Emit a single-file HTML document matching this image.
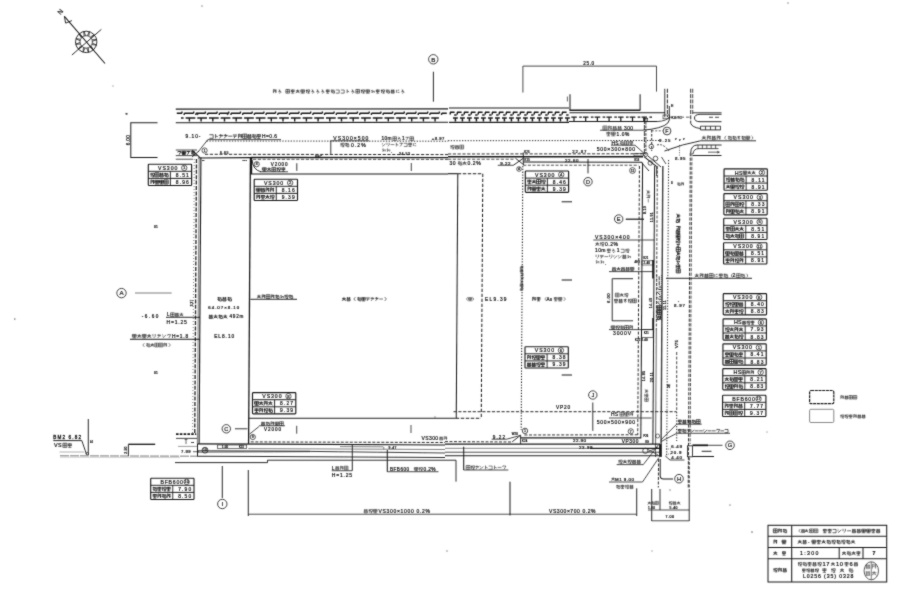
<!DOCTYPE html>
<html><head><meta charset="utf-8"><title>plan</title>
<style>
html,body{margin:0;padding:0;background:#fff;}
body{width:900px;height:600px;overflow:hidden;}
svg{display:block;will-change:transform;}
text{font-family:"Liberation Sans",sans-serif;fill:#1a1a1a;}
text.m{font-family:"Liberation Mono",monospace;}
</style></head><body>
<svg width="900" height="600" viewBox="0 0 900 600">
<defs><filter id="scan" x="0" y="0" width="900" height="600" filterUnits="userSpaceOnUse"><feConvolveMatrix order="3" kernelMatrix="1 3 1 3 22 3 1 3 1" divisor="38" edgeMode="none" preserveAlpha="false"/></filter></defs>
<rect width="900" height="600" fill="#fff"/>
<g filter="url(#scan)">
<circle cx="86.2" cy="41.9" r="10.7" fill="none" stroke="#1a1a1a" stroke-width="0.9"/>
<circle cx="86.2" cy="41.9" r="6.2" fill="none" stroke="#1a1a1a" stroke-width="0.7"/>
<line x1="64.4" y1="16.3" x2="105" y2="63.5" stroke="#1a1a1a" stroke-width="1.01"/>
<line x1="71.9" y1="55" x2="101.3" y2="29.4" stroke="#1a1a1a" stroke-width="0.9"/>
<path d="M92.31 42.98 L96.4 45.12 L91.82 44.52" fill="none" stroke="#1a1a1a" stroke-width="0.78"/>
<path d="M90.95 45.89 L93.43 49.79 L89.76 46.98" fill="none" stroke="#1a1a1a" stroke-width="0.78"/>
<path d="M88.32 47.73 L88.52 52.35 L86.74 48.08" fill="none" stroke="#1a1a1a" stroke-width="0.78"/>
<path d="M85.12 48.01 L82.98 52.1 L83.58 47.52" fill="none" stroke="#1a1a1a" stroke-width="0.78"/>
<path d="M82.21 46.65 L78.31 49.13 L81.12 45.46" fill="none" stroke="#1a1a1a" stroke-width="0.78"/>
<path d="M80.37 44.02 L75.75 44.22 L80.02 42.44" fill="none" stroke="#1a1a1a" stroke-width="0.78"/>
<path d="M80.09 40.82 L76 38.68 L80.58 39.28" fill="none" stroke="#1a1a1a" stroke-width="0.78"/>
<path d="M81.45 37.91 L78.97 34.01 L82.64 36.82" fill="none" stroke="#1a1a1a" stroke-width="0.78"/>
<path d="M84.08 36.07 L83.88 31.45 L85.66 35.72" fill="none" stroke="#1a1a1a" stroke-width="0.78"/>
<path d="M87.28 35.79 L89.42 31.7 L88.82 36.28" fill="none" stroke="#1a1a1a" stroke-width="0.78"/>
<path d="M90.19 37.15 L94.09 34.67 L91.28 38.34" fill="none" stroke="#1a1a1a" stroke-width="0.78"/>
<path d="M92.03 39.78 L96.65 39.58 L92.38 41.36" fill="none" stroke="#1a1a1a" stroke-width="0.78"/>
<path d="M64.4 16.3 L65.6 23.1 L71.9 20.6" fill="none" stroke="#1a1a1a" stroke-width="0.9"/>
<text x="60.2" y="13.94" font-size="6.5" text-anchor="middle" transform="rotate(-50 60.2 11.6)" stroke="#1a1a1a" stroke-width="0.22">N</text>
<line x1="175.8" y1="109.1" x2="448" y2="108.9" stroke="#1a1a1a" stroke-width="1.12"/>
<line x1="175.8" y1="122.8" x2="448" y2="122.3" stroke="#1a1a1a" stroke-width="1.12"/>
<path d="M176.8 113.3 h5.2M182 113.3 v-1.8M184.2 113.3 h5.2M184.2 113.3 v1.8M188.5 113.3 h5.2M193.7 113.3 v-1.8M195.9 113.3 h5.2M195.9 113.3 v1.8M200.2 113.3 h5.2M205.4 113.3 v-1.8M207.6 113.3 h5.2M207.6 113.3 v1.8M211.9 113.3 h5.2M217.1 113.3 v-1.8M219.3 113.3 h5.2M219.3 113.3 v1.8M223.6 113.3 h5.2M228.8 113.3 v-1.8M231 113.3 h5.2M231 113.3 v1.8M235.3 113.3 h5.2M240.5 113.3 v-1.8M242.7 113.3 h5.2M242.7 113.3 v1.8M247 113.3 h5.2M252.2 113.3 v-1.8M254.4 113.3 h5.2M254.4 113.3 v1.8M258.7 113.3 h5.2M263.9 113.3 v-1.8M266.1 113.3 h5.2M266.1 113.3 v1.8M270.4 113.3 h5.2M275.6 113.3 v-1.8M277.8 113.3 h5.2M277.8 113.3 v1.8M282.1 113.3 h5.2M287.3 113.3 v-1.8M289.5 113.3 h5.2M289.5 113.3 v1.8M293.8 113.3 h5.2M299 113.3 v-1.8M301.2 113.3 h5.2M301.2 113.3 v1.8M305.5 113.3 h5.2M310.7 113.3 v-1.8M312.9 113.3 h5.2M312.9 113.3 v1.8M317.2 113.3 h5.2M322.4 113.3 v-1.8M324.6 113.3 h5.2M324.6 113.3 v1.8M328.9 113.3 h5.2M334.1 113.3 v-1.8M336.3 113.3 h5.2M336.3 113.3 v1.8M340.6 113.3 h5.2M345.8 113.3 v-1.8M348 113.3 h5.2M348 113.3 v1.8M352.3 113.3 h5.2M357.5 113.3 v-1.8M359.7 113.3 h5.2M359.7 113.3 v1.8M364 113.3 h5.2M369.2 113.3 v-1.8M371.4 113.3 h5.2M371.4 113.3 v1.8M375.7 113.3 h5.2M380.9 113.3 v-1.8M383.1 113.3 h5.2M383.1 113.3 v1.8M387.4 113.3 h5.2M392.6 113.3 v-1.8M394.8 113.3 h5.2M394.8 113.3 v1.8M399.1 113.3 h5.2M404.3 113.3 v-1.8M406.5 113.3 h5.2M406.5 113.3 v1.8M410.8 113.3 h5.2M416 113.3 v-1.8M418.2 113.3 h5.2M418.2 113.3 v1.8M422.5 113.3 h5.2M427.7 113.3 v-1.8M429.9 113.3 h5.2M429.9 113.3 v1.8M434.2 113.3 h5.2M439.4 113.3 v-1.8M441.6 113.3 h5.2M441.6 113.3 v1.8" fill="none" stroke="#1a1a1a" stroke-width="1.4"/>
<path d="M185.6 118.0 h7.6 M189.4 118.0 v3.6M181 118.0 h2.6M197.3 118.0 h7.6 M201.1 118.0 v3.6M192.7 118.0 h2.6M209 118.0 h7.6 M212.8 118.0 v3.6M204.4 118.0 h2.6M220.7 118.0 h7.6 M224.5 118.0 v3.6M216.1 118.0 h2.6M232.4 118.0 h7.6 M236.2 118.0 v3.6M227.8 118.0 h2.6M244.1 118.0 h7.6 M247.9 118.0 v3.6M239.5 118.0 h2.6M255.8 118.0 h7.6 M259.6 118.0 v3.6M251.2 118.0 h2.6M267.5 118.0 h7.6 M271.3 118.0 v3.6M262.9 118.0 h2.6M279.2 118.0 h7.6 M283 118.0 v3.6M274.6 118.0 h2.6M290.9 118.0 h7.6 M294.7 118.0 v3.6M286.3 118.0 h2.6M302.6 118.0 h7.6 M306.4 118.0 v3.6M298 118.0 h2.6M314.3 118.0 h7.6 M318.1 118.0 v3.6M309.7 118.0 h2.6M326 118.0 h7.6 M329.8 118.0 v3.6M321.4 118.0 h2.6M337.7 118.0 h7.6 M341.5 118.0 v3.6M333.1 118.0 h2.6M349.4 118.0 h7.6 M353.2 118.0 v3.6M344.8 118.0 h2.6M361.1 118.0 h7.6 M364.9 118.0 v3.6M356.5 118.0 h2.6M372.8 118.0 h7.6 M376.6 118.0 v3.6M368.2 118.0 h2.6M384.5 118.0 h7.6 M388.3 118.0 v3.6M379.9 118.0 h2.6M396.2 118.0 h7.6 M400 118.0 v3.6M391.6 118.0 h2.6M407.9 118.0 h7.6 M411.7 118.0 v3.6M403.3 118.0 h2.6M419.6 118.0 h7.6 M423.4 118.0 v3.6M415 118.0 h2.6M431.3 118.0 h7.6 M435.1 118.0 v3.6M426.7 118.0 h2.6" fill="none" stroke="#1a1a1a" stroke-width="1.4"/>
<line x1="449" y1="108" x2="569" y2="108" stroke="#1a1a1a" stroke-width="1.12"/>
<line x1="449" y1="122.4" x2="569" y2="122.4" stroke="#1a1a1a" stroke-width="1.12"/>
<path d="M450 112.2 h4.6 M450.3 112.2 v2.4M453 118.0 h4.8 M455.4 118.0 v3.4M454.2 115.0 h2.4M457 112.2 h4.6 M457.3 112.2 v2.4M460 118.0 h4.8 M462.4 118.0 v3.4M461.2 115.0 h2.4M464 112.2 h4.6 M464.3 112.2 v2.4M467 118.0 h4.8 M469.4 118.0 v3.4M468.2 115.0 h2.4M471 112.2 h4.6 M471.3 112.2 v2.4M474 118.0 h4.8 M476.4 118.0 v3.4M475.2 115.0 h2.4M478 112.2 h4.6 M478.3 112.2 v2.4M481 118.0 h4.8 M483.4 118.0 v3.4M482.2 115.0 h2.4M485 112.2 h4.6 M485.3 112.2 v2.4M488 118.0 h4.8 M490.4 118.0 v3.4M489.2 115.0 h2.4M492 112.2 h4.6 M492.3 112.2 v2.4M495 118.0 h4.8 M497.4 118.0 v3.4M496.2 115.0 h2.4M499 112.2 h4.6 M499.3 112.2 v2.4M502 118.0 h4.8 M504.4 118.0 v3.4M503.2 115.0 h2.4M506 112.2 h4.6 M506.3 112.2 v2.4M509 118.0 h4.8 M511.4 118.0 v3.4M510.2 115.0 h2.4M513 112.2 h4.6 M513.3 112.2 v2.4M516 118.0 h4.8 M518.4 118.0 v3.4M517.2 115.0 h2.4M520 112.2 h4.6 M520.3 112.2 v2.4M523 118.0 h4.8 M525.4 118.0 v3.4M524.2 115.0 h2.4M527 112.2 h4.6 M527.3 112.2 v2.4M530 118.0 h4.8 M532.4 118.0 v3.4M531.2 115.0 h2.4M534 112.2 h4.6 M534.3 112.2 v2.4M537 118.0 h4.8 M539.4 118.0 v3.4M538.2 115.0 h2.4M541 112.2 h4.6 M541.3 112.2 v2.4M544 118.0 h4.8 M546.4 118.0 v3.4M545.2 115.0 h2.4M548 112.2 h4.6 M548.3 112.2 v2.4M551 118.0 h4.8 M553.4 118.0 v3.4M552.2 115.0 h2.4M555 112.2 h4.6 M555.3 112.2 v2.4M558 118.0 h4.8 M560.4 118.0 v3.4M559.2 115.0 h2.4M562 112.2 h4.6 M562.3 112.2 v2.4M565 118.0 h4.8 M567.4 118.0 v3.4M566.2 115.0 h2.4" fill="none" stroke="#1a1a1a" stroke-width="1.51"/>
<line x1="569.5" y1="110.2" x2="640.3" y2="110.2" stroke="#1a1a1a" stroke-width="1.46"/>
<line x1="569.5" y1="112.8" x2="665" y2="112.8" stroke="#1a1a1a" stroke-width="1.01"/>
<path d="M571.3 117.2 h5.5 M574 117.2 v3.8M579.2 117.2 h2.6M583 117.2 h5.5 M585.7 117.2 v3.8M590.9 117.2 h2.6M594.7 117.2 h5.5 M597.4 117.2 v3.8M602.6 117.2 h2.6M606.4 117.2 h5.5 M609.1 117.2 v3.8M614.3 117.2 h2.6M618.1 117.2 h5.5 M620.8 117.2 v3.8M626 117.2 h2.6M629.8 117.2 h5.5 M632.5 117.2 v3.8M637.7 117.2 h2.6M641.5 117.2 h5.5 M644.2 117.2 v3.8M649.4 117.2 h2.6" fill="none" stroke="#1a1a1a" stroke-width="1.23"/>
<line x1="569" y1="121.6" x2="657" y2="121.6" stroke="#1a1a1a" stroke-width="1.01"/>
<circle cx="197.6" cy="114" r="0.7" fill="#1a1a1a" stroke="#1a1a1a" stroke-width="0.5"/>
<circle cx="227.6" cy="114" r="0.7" fill="#1a1a1a" stroke="#1a1a1a" stroke-width="0.5"/>
<circle cx="126.2" cy="113.8" r="0.6" fill="#1a1a1a" stroke="#1a1a1a" stroke-width="0.4"/>
<path d="M157.5 122.8 L130.8 122.8 L130.8 157.5 L157.5 157.5" fill="none" stroke="#1a1a1a" stroke-width="1.01"/>
<text x="128" y="141.66" font-size="4.6" text-anchor="middle" letter-spacing="0.4" transform="rotate(-90 128 140)" stroke="#1a1a1a" stroke-width="0.22">6.00</text>
<path d="M522.9 92.5 L522.9 66.1 L656.5 66.1 L656.5 91.6" fill="none" stroke="#333" stroke-width="0.9"/>
<text x="583.3" y="65.06" font-size="4.6" stroke="#1a1a1a" stroke-width="0.22" textLength="10.8" lengthAdjust="spacing">25.0</text>
<path d="M570 94.3 L570 110.2" fill="none" stroke="#1a1a1a" stroke-width="1.01"/>
<path d="M640.1 94.3 L640.1 110.2" fill="none" stroke="#1a1a1a" stroke-width="1.01"/>
<line x1="567.4" y1="96.5" x2="567.4" y2="101.5" stroke="#1a1a1a" stroke-width="0.67"/>
<circle cx="433.3" cy="59.3" r="4.7" fill="none" stroke="#1a1a1a" stroke-width="0.8"/>
<text x="433.3" y="61.53" font-size="6.2" text-anchor="middle" stroke="#1a1a1a" stroke-width="0.22">B</text>
<line x1="433.4" y1="71.7" x2="433.4" y2="101.7" stroke="#1a1a1a" stroke-width="0.9"/>
<path d="M273.41 89.45 L273.41 93.15M273.41 89.64 L274.7 89.64M274.7 89.64 L274.7 91.3M273.41 91.3 L274.7 91.3M275.07 90.19 L276.55 90.19M275.81 89.45 L275.81 93.15M275.07 91.67 L276.55 91.67M278.78 89.82 L280.07 90.19 L278.59 91.67 L280.44 91.12 L280.99 92.22 L280.07 93.15 L279.15 92.96M285.85 89.45 L289.55 89.45 L289.55 93.15 L285.85 93.15 L285.85 89.45M285.85 91.3 L289.55 91.3M287.7 89.45 L287.7 93.15M290.85 90.01 L294.55 90.01M292.7 89.45 L292.7 93.15M290.85 91.48 L294.55 91.48M291.22 93.15 L294.18 93.15M291.41 90.01 L291.41 91.48M293.99 90.01 L293.99 91.48M297.7 89.45 L297.7 90.75M295.85 90.75 L299.55 90.75M297.7 90.75 L295.85 93.15M297.7 90.75 L299.55 93.15M296.59 92.04 L298.81 92.04M300.85 89.82 L304.55 89.82M300.85 90.93 L304.55 90.93M300.85 92.04 L304.55 92.04M300.85 93.15 L304.55 93.15M302.7 89.82 L302.7 93.15M300.85 89.82 L300.85 92.04M304.55 89.82 L304.55 92.04M306.59 89.45 L306.59 93.15M305.85 90.56 L307.33 90.56M307.7 89.82 L309.55 89.82M307.7 89.82 L307.7 91.67M309.55 89.82 L309.55 91.67M307.7 91.67 L309.55 91.67M307.52 93.15 L309.55 93.15M308.62 91.67 L308.62 93.15M311.78 89.82 L313.07 90.19 L311.59 91.67 L313.44 91.12 L313.99 92.22 L313.07 93.15 L312.15 92.96M316.78 89.82 L318.07 90.19 L316.59 91.67 L318.44 91.12 L318.99 92.22 L318.07 93.15 L317.15 92.96M321.78 89.82 L323.07 90.19 L321.59 91.67 L323.44 91.12 L323.99 92.22 L323.07 93.15 L322.15 92.96M325.85 90.01 L329.55 90.01M327.7 89.45 L327.7 93.15M325.85 91.48 L329.55 91.48M326.22 93.15 L329.18 93.15M326.41 90.01 L326.41 91.48M328.99 90.01 L328.99 91.48M330.85 90.19 L334.55 90.19M331.96 89.45 L331.96 93.15M332.88 91.12 L334.55 91.12M332.88 91.12 L332.88 93.15M332.88 93.15 L334.55 93.15M334.55 91.12 L334.55 93.15M330.85 91.67 L331.96 91.67M335.85 90.01 L339.18 90.01 L339.18 93.15M335.85 93.15 L339.18 93.15M340.85 90.01 L344.18 90.01 L344.18 93.15M340.85 93.15 L344.18 93.15M347.15 89.45 L347.15 93.15M347.15 90.93 L349.18 91.85M351.78 89.82 L353.07 90.19 L351.59 91.67 L353.44 91.12 L353.99 92.22 L353.07 93.15 L352.15 92.96M355.85 89.45 L359.55 89.45 L359.55 93.15 L355.85 93.15 L355.85 89.45M355.85 91.3 L359.55 91.3M357.7 89.45 L357.7 93.15M361.59 89.45 L361.59 93.15M360.85 90.56 L362.33 90.56M362.7 89.82 L364.55 89.82M362.7 89.82 L362.7 91.67M364.55 89.82 L364.55 91.67M362.7 91.67 L364.55 91.67M362.52 93.15 L364.55 93.15M363.62 91.67 L363.62 93.15M365.85 89.82 L369.55 89.82M365.85 90.93 L369.55 90.93M365.85 92.04 L369.55 92.04M365.85 93.15 L369.55 93.15M367.7 89.82 L367.7 93.15M365.85 89.82 L365.85 92.04M369.55 89.82 L369.55 92.04M371.22 90.56 L372.33 90.19 L371.96 92.78 L373.07 91.3 L374.36 91.12 L374.18 92.78M375.85 90.01 L379.55 90.01M377.7 89.45 L377.7 93.15M375.85 91.48 L379.55 91.48M376.22 93.15 L379.18 93.15M376.41 90.01 L376.41 91.48M378.99 90.01 L378.99 91.48M381.59 89.45 L381.59 93.15M380.85 90.56 L382.33 90.56M382.7 89.82 L384.55 89.82M382.7 89.82 L382.7 91.67M384.55 89.82 L384.55 91.67M382.7 91.67 L384.55 91.67M382.52 93.15 L384.55 93.15M383.62 91.67 L383.62 93.15M385.85 90.19 L389.55 90.19M386.96 89.45 L386.96 93.15M387.88 91.12 L389.55 91.12M387.88 91.12 L387.88 93.15M387.88 93.15 L389.55 93.15M389.55 91.12 L389.55 93.15M385.85 91.67 L386.96 91.67M390.85 90.38 L394.55 90.38M391.78 89.45 L391.78 91.3M393.62 89.45 L393.62 91.3M391.22 91.3 L394.18 91.3M391.22 91.3 L391.22 93.15M394.18 91.3 L394.18 93.15M391.22 93.15 L394.18 93.15M391.22 92.22 L394.18 92.22M396.59 89.82 L396.59 92.78M397.7 90.19 L399.18 90.19M397.7 92.41 L399.36 92.41M401.78 89.82 L403.07 90.19 L401.59 91.67 L403.44 91.12 L403.99 92.22 L403.07 93.15 L402.15 92.96" fill="none" stroke="#1a1a1a" stroke-width="0.6"/>
<line x1="198" y1="158" x2="251" y2="157.6" stroke="#1a1a1a" stroke-width="1.23"/>
<line x1="251" y1="157.5" x2="448" y2="157.6" stroke="#1a1a1a" stroke-width="1.29"/>
<line x1="448" y1="156.8" x2="643" y2="156.7" stroke="#1a1a1a" stroke-width="1.4"/>
<line x1="253" y1="159.3" x2="448" y2="159.4" stroke="#1a1a1a" stroke-width="0.78" stroke-dasharray="3.2 1.6"/>
<line x1="448" y1="159.2" x2="513.5" y2="159.2" stroke="#1a1a1a" stroke-width="0.78" stroke-dasharray="3.2 1.6"/>
<line x1="205" y1="154.3" x2="448" y2="154.6" stroke="#1a1a1a" stroke-width="0.9" stroke-dasharray="3.2 1.6"/>
<line x1="448" y1="154" x2="643" y2="153.8" stroke="#1a1a1a" stroke-width="0.9" stroke-dasharray="3.2 1.6"/>
<line x1="206.7" y1="141" x2="448" y2="141.2" stroke="#1a1a1a" stroke-width="0.9" stroke-dasharray="1.3 1.5"/>
<line x1="448" y1="140.7" x2="660" y2="140.5" stroke="#1a1a1a" stroke-width="0.9" stroke-dasharray="1.3 1.5"/>
<line x1="200.9" y1="157.6" x2="199.09" y2="443.8" stroke="#1a1a1a" stroke-width="1.12"/>
<line x1="199.19" y1="159" x2="197.39" y2="443.8" stroke="#1a1a1a" stroke-width="0.56"/>
<line x1="196.49" y1="159" x2="194.76" y2="434" stroke="#2a2a2a" stroke-width="1.34" stroke-dasharray="4 1.4"/>
<line x1="194.29" y1="159" x2="192.56" y2="434" stroke="#1a1a1a" stroke-width="0.56" stroke-dasharray="1 2"/>
<line x1="197.5" y1="443.8" x2="445" y2="445" stroke="#1a1a1a" stroke-width="1.23"/>
<line x1="445" y1="444.2" x2="660" y2="444.2" stroke="#1a1a1a" stroke-width="1.23"/>
<line x1="197.5" y1="443.8" x2="197.5" y2="456" stroke="#1a1a1a" stroke-width="1.01"/>
<line x1="250.4" y1="157.6" x2="248.59" y2="443.8" stroke="#1a1a1a" stroke-width="1.29"/>
<line x1="250.3" y1="174" x2="448" y2="174" stroke="#1a1a1a" stroke-width="1.12"/>
<line x1="448" y1="173.7" x2="457.8" y2="173.7" stroke="#1a1a1a" stroke-width="1.12"/>
<line x1="457.8" y1="173.7" x2="456.25" y2="418.3" stroke="#1a1a1a" stroke-width="1.01"/>
<line x1="248.7" y1="418.3" x2="455.8" y2="418.3" stroke="#1a1a1a" stroke-width="1.01"/>
<line x1="251.3" y1="158" x2="251.2" y2="174" stroke="#1a1a1a" stroke-width="1.9"/>
<line x1="457.8" y1="173.7" x2="482.8" y2="173.7" stroke="#1a1a1a" stroke-width="1.01" stroke-dasharray="3.4 1.6"/>
<line x1="482.8" y1="173.7" x2="481.25" y2="418.3" stroke="#1a1a1a" stroke-width="1.01" stroke-dasharray="3.4 1.6"/>
<line x1="455.8" y1="418.3" x2="481" y2="418.3" stroke="#1a1a1a" stroke-width="1.01" stroke-dasharray="3.4 1.6"/>
<line x1="453.5" y1="411.7" x2="676.7" y2="411.7" stroke="#1a1a1a" stroke-width="0.9" stroke-dasharray="3.2 1.6"/>
<line x1="522.84" y1="166" x2="521.18" y2="430" stroke="#1a1a1a" stroke-width="1.01" stroke-dasharray="1.3 1.5"/>
<line x1="639.44" y1="166" x2="637.75" y2="435" stroke="#1a1a1a" stroke-width="0.9" stroke-dasharray="3 1.6"/>
<line x1="524.4" y1="435" x2="637.5" y2="434.8" stroke="#1a1a1a" stroke-width="0.9" stroke-dasharray="3 1.6"/>
<line x1="642.57" y1="162.5" x2="640.83" y2="438" stroke="#1a1a1a" stroke-width="1.01"/>
<line x1="520.6" y1="437.8" x2="641.2" y2="437.8" stroke="#1a1a1a" stroke-width="1.23"/>
<line x1="523.3" y1="162.1" x2="642" y2="162.3" stroke="#1a1a1a" stroke-width="1.01"/>
<line x1="523.3" y1="165.2" x2="638.7" y2="165.2" stroke="#1a1a1a" stroke-width="0.78" stroke-dasharray="3 1.6"/>
<line x1="523.3" y1="152.5" x2="523.3" y2="164.5" stroke="#1a1a1a" stroke-width="0.9"/>
<line x1="515.5" y1="158.3" x2="524" y2="165" stroke="#1a1a1a" stroke-width="0.9"/>
<line x1="513.3" y1="165.3" x2="523.3" y2="158.3" stroke="#1a1a1a" stroke-width="0.9"/>
<line x1="654.64" y1="166" x2="652.89" y2="444" stroke="#1a1a1a" stroke-width="1.01"/>
<line x1="657.34" y1="166" x2="656.31" y2="330" stroke="#1a1a1a" stroke-width="0.78" stroke-dasharray="3 1.5"/>
<line x1="656.31" y1="330" x2="655.51" y2="457" stroke="#1a1a1a" stroke-width="0.67"/>
<line x1="662.84" y1="166" x2="661.01" y2="457" stroke="#444" stroke-width="1.46"/>
<line x1="668.58" y1="160" x2="666.71" y2="457" stroke="#1a1a1a" stroke-width="0.9" stroke-dasharray="1.3 1.5"/>
<line x1="690.33" y1="153" x2="688.22" y2="488" stroke="#1a1a1a" stroke-width="0.9" stroke-dasharray="3.2 1.4"/>
<line x1="691.93" y1="153" x2="690.09" y2="444" stroke="#1a1a1a" stroke-width="0.78" stroke-dasharray="3.2 1.4"/>
<path d="M659.58 276 L663.62 276M664.48 276 L668.52 276M670.19 273.98 L670.19 276.4M672.61 273.98 L672.61 276.4 L671 278.02M674.69 274.39 L675.49 275.19M674.28 275.8 L675.09 276.4M675.09 278.02 L678.32 274.99M679.99 273.98 L679.99 276.4M682.41 273.98 L682.41 276.4 L680.8 278.02M684.49 274.39 L685.29 275.19M684.08 275.8 L684.89 276.4M684.89 278.02 L688.12 274.99M688.98 273.98 L693.02 273.98 L693.02 278.02 L688.98 278.02 L688.98 273.98M688.98 276 L693.02 276M691 273.98 L691 278.02M693.88 273.98 L697.92 273.98 L697.92 278.02 L693.88 278.02 L693.88 273.98M693.88 276 L697.92 276M695.9 273.98 L695.9 278.02M698.78 274.79 L702.82 274.79M699.99 273.98 L699.99 278.02M701 275.8 L702.82 275.8M701 275.8 L701 278.02M701 278.02 L702.82 278.02M702.82 275.8 L702.82 278.02M698.78 276.4 L699.99 276.4" fill="none" stroke="#1a1a1a" stroke-width="0.95" transform="rotate(90 659.2 276)"/>
<line x1="656.8" y1="275" x2="656.6" y2="321" stroke="#1a1a1a" stroke-width="0.56" stroke-dasharray="1 1"/>
<line x1="661.4" y1="275" x2="661.2" y2="321" stroke="#1a1a1a" stroke-width="0.56" stroke-dasharray="1 1"/>
<line x1="664.8" y1="88.8" x2="664.8" y2="117.2" stroke="#1a1a1a" stroke-width="0.9"/>
<line x1="667.4" y1="88.8" x2="667.4" y2="117.2" stroke="#1a1a1a" stroke-width="0.9" stroke-dasharray="4 1.3"/>
<line x1="669.3" y1="106" x2="669.3" y2="120" stroke="#1a1a1a" stroke-width="0.9"/>
<path d="M669.3 120 Q668.5 126.5 651 129.3 L643 130.1" fill="none" stroke="#1a1a1a" stroke-width="0.9"/>
<path d="M657 121.6 Q667 121 669.2 117" fill="none" stroke="#1a1a1a" stroke-width="0.78"/>
<rect x="663" y="115" width="6.3" height="3.8" fill="none" stroke="#1a1a1a" stroke-width="0.6"/>
<line x1="690.7" y1="88.8" x2="690.7" y2="123.2" stroke="#1a1a1a" stroke-width="0.9" stroke-dasharray="4 1.3"/>
<line x1="692.7" y1="88.8" x2="692.7" y2="114.2" stroke="#1a1a1a" stroke-width="0.78" stroke-dasharray="4 1.3"/>
<line x1="692.7" y1="112.8" x2="721.5" y2="112.8" stroke="#1a1a1a" stroke-width="0.9"/>
<path d="M690.7 123.2 Q692 127.5 700.5 128.5" fill="none" stroke="#1a1a1a" stroke-width="0.9"/>
<path d="M721.5 114.3 H700 Q694.5 114.5 694.5 118 Q694.5 121.7 700 121.7 H721.5" fill="none" stroke="#1a1a1a" stroke-width="0.9"/>
<line x1="709" y1="117.3" x2="720.5" y2="117.3" stroke="#1a1a1a" stroke-width="0.78" stroke-dasharray="4 2"/>
<line x1="700.5" y1="126.2" x2="720.5" y2="126.2" stroke="#1a1a1a" stroke-width="0.78"/>
<line x1="700.5" y1="129.9" x2="720.5" y2="129.9" stroke="#1a1a1a" stroke-width="0.9"/>
<line x1="700.5" y1="126.2" x2="700.5" y2="129.9" stroke="#1a1a1a" stroke-width="0.78"/>
<line x1="705.5" y1="126.2" x2="705.5" y2="129.9" stroke="#1a1a1a" stroke-width="0.78"/>
<line x1="710.5" y1="126.2" x2="710.5" y2="129.9" stroke="#1a1a1a" stroke-width="0.78"/>
<line x1="715.5" y1="126.2" x2="715.5" y2="129.9" stroke="#1a1a1a" stroke-width="0.78"/>
<line x1="720.5" y1="126.2" x2="720.5" y2="129.9" stroke="#1a1a1a" stroke-width="0.78"/>
<line x1="669.5" y1="117.2" x2="691.5" y2="117.2" stroke="#1a1a1a" stroke-width="0.67" stroke-dasharray="3.5 2"/>
<line x1="644.4" y1="119" x2="644.4" y2="155.5" stroke="#1a1a1a" stroke-width="0.84" stroke-dasharray="5 1"/>
<line x1="645.9" y1="118" x2="645.9" y2="155.5" stroke="#1a1a1a" stroke-width="0.9" stroke-dasharray="2.6 1.2"/>
<line x1="651.7" y1="130" x2="651.7" y2="151" stroke="#1a1a1a" stroke-width="0.9" stroke-dasharray="2.6 1.4"/>
<rect x="643.3" y="118.4" width="4.4" height="2.8" fill="none" stroke="#1a1a1a" stroke-width="0.6"/>
<path d="M690.7 153 Q690.9 145.3 697 145 L721.5 145" fill="none" stroke="#1a1a1a" stroke-width="0.9"/>
<path d="M693 154 Q693.5 148.8 698.5 148.6" fill="none" stroke="#1a1a1a" stroke-width="0.78"/>
<line x1="698" y1="148.6" x2="718.5" y2="148.6" stroke="#1a1a1a" stroke-width="0.78"/>
<line x1="698" y1="145" x2="698" y2="148.6" stroke="#1a1a1a" stroke-width="0.67"/>
<line x1="702.4" y1="145" x2="702.4" y2="148.6" stroke="#1a1a1a" stroke-width="0.67"/>
<line x1="706.8" y1="145" x2="706.8" y2="148.6" stroke="#1a1a1a" stroke-width="0.67"/>
<line x1="711.2" y1="145" x2="711.2" y2="148.6" stroke="#1a1a1a" stroke-width="0.67"/>
<line x1="715.6" y1="145" x2="715.6" y2="148.6" stroke="#1a1a1a" stroke-width="0.67"/>
<line x1="692.7" y1="155.5" x2="721.5" y2="155.5" stroke="#1a1a1a" stroke-width="0.9"/>
<line x1="708" y1="152.2" x2="719" y2="152.2" stroke="#1a1a1a" stroke-width="0.67"/>
<path d="M717 151.2 L719.5 152.2 L717 153.2" fill="none" stroke="#1a1a1a" stroke-width="0.56"/>
<path d="M664.5 151 Q683 144 700.5 140.8 L756 140.8" fill="none" stroke="#1a1a1a" stroke-width="0.9"/>
<path d="M657 145 Q663 143 669 151" fill="none" stroke="#1a1a1a" stroke-width="0.78" stroke-dasharray="2 1.2"/>
<line x1="679.5" y1="145" x2="679.5" y2="155.5" stroke="#1a1a1a" stroke-width="0.67" stroke-dasharray="1 1.4"/>
<circle cx="667" cy="131" r="3.9" fill="none" stroke="#1a1a1a" stroke-width="0.8"/>
<text x="667" y="132.94" font-size="5.4" text-anchor="middle" stroke="#1a1a1a" stroke-width="0.22">F</text>
<line x1="651.7" y1="130.8" x2="662.8" y2="130.8" stroke="#1a1a1a" stroke-width="0.67" stroke-dasharray="2 1.5"/>
<line x1="644" y1="156.7" x2="656.7" y2="166.7" stroke="#1a1a1a" stroke-width="1.01"/>
<line x1="648" y1="156" x2="661" y2="167" stroke="#1a1a1a" stroke-width="0.9"/>
<line x1="641.5" y1="162.5" x2="649" y2="171" stroke="#1a1a1a" stroke-width="0.9"/>
<line x1="656.7" y1="166.7" x2="656.7" y2="176" stroke="#1a1a1a" stroke-width="0.9"/>
<line x1="661.5" y1="157" x2="666" y2="164" stroke="#1a1a1a" stroke-width="0.78"/>
<circle cx="651.3" cy="146.5" r="2.3" fill="none" stroke="#1a1a1a" stroke-width="0.7"/>
<text x="651.3" y="147.78" font-size="3.56" text-anchor="middle" stroke="#1a1a1a" stroke-width="0.22"></text>
<circle cx="655.5" cy="158.5" r="2.3" fill="none" stroke="#1a1a1a" stroke-width="0.7"/>
<text x="655.5" y="159.78" font-size="3.56" text-anchor="middle" stroke="#1a1a1a" stroke-width="0.22"></text>
<circle cx="650.2" cy="163" r="2.2" fill="none" stroke="#1a1a1a" stroke-width="0.7"/>
<text x="650.2" y="164.23" font-size="3.41" text-anchor="middle" stroke="#1a1a1a" stroke-width="0.22"></text>
<circle cx="645.7" cy="154.5" r="2" fill="none" stroke="#1a1a1a" stroke-width="0.7"/>
<text x="645.7" y="155.62" font-size="3.1" text-anchor="middle" stroke="#1a1a1a" stroke-width="0.22"></text>
<circle cx="632.5" cy="170.5" r="2.9" fill="none" stroke="#1a1a1a" stroke-width="0.7"/>
<text x="632.5" y="171.8" font-size="3.6" text-anchor="middle" stroke="#1a1a1a" stroke-width="0.22">11</text>
<rect x="634" y="153.3" width="9.5" height="2.6" fill="none" stroke="#1a1a1a" stroke-width="0.6"/>
<path d="M602.88 125.98 L606.92 125.98 L606.92 130.02 L602.88 130.02 L602.88 125.98M602.88 128 L606.92 128M604.9 125.98 L604.9 130.02M608.38 125.98 L608.38 130.02M608.38 126.19 L609.8 126.19M609.8 126.19 L609.8 128M608.38 128 L609.8 128M610.2 126.79 L611.81 126.79M611.01 125.98 L611.01 130.02M610.2 128.4 L611.81 128.4M612.68 126.99 L616.71 126.99M613.68 125.98 L613.68 128M615.7 125.98 L615.7 128M613.08 128 L616.3 128M613.08 128 L613.08 130.02M616.3 128 L616.3 130.02M613.08 130.02 L616.3 130.02M613.08 129.01 L616.3 129.01M617.57 126.99 L621.6 126.99M618.58 125.98 L618.58 128M620.6 125.98 L620.6 128M617.98 128 L621.2 128M617.98 128 L617.98 130.02M621.2 128 L621.2 130.02M617.98 130.02 L621.2 130.02M617.98 129.01 L621.2 129.01" fill="none" stroke="#1a1a1a" stroke-width="0.55"/>
<text x="624" y="129.73" font-size="4.8" letter-spacing="0.5" stroke="#1a1a1a" stroke-width="0.22">300</text>
<line x1="600" y1="130.2" x2="643" y2="130.2" stroke="#1a1a1a" stroke-width="0.78"/>
<path d="M606.38 132.39 L610.42 132.39M608.4 131.78 L608.4 135.82M606.38 134 L610.42 134M606.79 135.82 L610.01 135.82M606.99 132.39 L606.99 134M609.81 132.39 L609.81 134M611.28 132.19 L615.31 132.19M611.28 133.4 L615.31 133.4M611.28 134.61 L615.31 134.61M611.28 135.82 L615.31 135.82M613.3 132.19 L613.3 135.82M611.28 132.19 L611.28 134.61M615.31 132.19 L615.31 134.61" fill="none" stroke="#1a1a1a" stroke-width="0.55"/>
<text x="616.5" y="135.53" font-size="4.8" letter-spacing="0.6" stroke="#1a1a1a" stroke-width="0.22">1.0%</text>
<text x="611.5" y="144.8" font-size="5" letter-spacing="0.2" stroke="#1a1a1a" stroke-width="0.22">HS</text>
<path d="M619.87 141.84 L623.73 141.84M621.03 141.07 L621.03 144.93M621.99 142.81 L623.73 142.81M621.99 142.81 L621.99 144.93M621.99 144.93 L623.73 144.93M623.73 142.81 L623.73 144.93M619.87 143.39 L621.03 143.39M624.56 141.07 L628.42 141.07 L628.42 144.93 L624.56 144.93 L624.56 141.07M624.56 143 L628.42 143M626.49 141.07 L626.49 144.93M629.25 141.65 L633.12 141.65M631.18 141.07 L631.18 144.93M629.25 143.19 L633.12 143.19M629.64 144.93 L632.73 144.93M629.83 141.65 L629.83 143.19M632.54 141.65 L632.54 143.19" fill="none" stroke="#1a1a1a" stroke-width="0.55"/>
<line x1="611" y1="145.2" x2="635" y2="145.2" stroke="#1a1a1a" stroke-width="0.78"/>
<line x1="635" y1="145.2" x2="644" y2="153.3" stroke="#1a1a1a" stroke-width="0.78"/>
<text x="596.7" y="151.4" font-size="5" stroke="#1a1a1a" stroke-width="0.22" textLength="38.3" lengthAdjust="spacing">500×300×800</text>
<text x="572.3" y="153.18" font-size="4.4" stroke="#1a1a1a" stroke-width="0.22" textLength="14.2" lengthAdjust="spacing">22.87</text>
<text x="565" y="161.58" font-size="4.4" stroke="#1a1a1a" stroke-width="0.22" textLength="13.4" lengthAdjust="spacing">22.60</text>
<text x="634.5" y="160.94" font-size="2.6" letter-spacing="0.1" stroke="#1a1a1a" stroke-width="0.22">K18</text>
<text x="524.3" y="153.41" font-size="2.8" letter-spacing="0.2" stroke="#1a1a1a" stroke-width="0.22">K25</text>
<text x="524.5" y="161.21" font-size="2.8" letter-spacing="0.2" stroke="#1a1a1a" stroke-width="0.22">K15</text>
<text x="659" y="142.38" font-size="4.4" stroke="#1a1a1a" stroke-width="0.22" textLength="11.5" lengthAdjust="spacing">9.25</text>
<text x="675" y="160.38" font-size="4.4" stroke="#1a1a1a" stroke-width="0.22" textLength="10.5" lengthAdjust="spacing">8.95</text>
<text x="671.5" y="118.82" font-size="3.4" letter-spacing="0.2" stroke="#1a1a1a" stroke-width="0.22">K0.7C</text>
<text x="671" y="106.6" font-size="3.6" stroke="#1a1a1a" stroke-width="0.22">E</text>
<text x="675" y="139.58" font-size="3" stroke="#1a1a1a" stroke-width="0.22">v</text>
<text x="679" y="141.08" font-size="3" stroke="#1a1a1a" stroke-width="0.22">v</text>
<text x="683" y="139.68" font-size="3" stroke="#1a1a1a" stroke-width="0.22">v</text>
<path d="M703.9 135.78 L703.9 137.2M701.88 137.2 L705.92 137.2M703.9 137.2 L701.88 139.82M703.9 137.2 L705.92 139.82M702.69 138.61 L705.11 138.61M707.39 135.78 L707.39 139.82M707.39 135.99 L708.8 135.99M708.8 135.99 L708.8 137.8M707.39 137.8 L708.8 137.8M709.2 136.59 L710.82 136.59M710.01 135.78 L710.01 139.82M709.2 138.2 L710.82 138.2M711.68 136.79 L715.72 136.79M712.69 135.78 L712.69 137.8M714.71 135.78 L714.71 137.8M712.09 137.8 L715.31 137.8M712.09 137.8 L712.09 139.82M715.31 137.8 L715.31 139.82M712.09 139.82 L715.31 139.82M712.09 138.81 L715.31 138.81M717.19 135.78 L717.19 139.82M717.19 135.99 L718.6 135.99M718.6 135.99 L718.6 137.8M717.19 137.8 L718.6 137.8M719 136.59 L720.62 136.59M719.81 135.78 L719.81 139.82M719 138.2 L720.62 138.2" fill="none" stroke="#1a1a1a" stroke-width="0.6"/>
<path d="M726.07 135.87 L724.91 137.03 L724.91 138.57 L726.07 139.73M727.87 136.64 L731.73 136.64M729.03 135.87 L729.03 139.73M729.99 137.61 L731.73 137.61M729.99 137.61 L729.99 139.73M729.99 139.73 L731.73 139.73M731.73 137.61 L731.73 139.73M727.87 138.19 L729.03 138.19M732.37 136.64 L736.23 136.64M733.53 135.87 L733.53 139.73M734.49 137.61 L736.23 137.61M734.49 137.61 L734.49 139.73M734.49 139.73 L736.23 139.73M736.23 137.61 L736.23 139.73M732.37 138.19 L733.53 138.19M737.25 136.64 L740.35 136.64M738.99 135.87 L738.99 137.99 L738.22 138.57 L737.83 137.8 L738.99 137.61 L739.57 138.57 L738.8 139.73M741.37 136.64 L745.23 136.64M742.53 135.87 L742.53 139.73M743.49 137.61 L745.23 137.61M743.49 137.61 L743.49 139.73M743.49 139.73 L745.23 139.73M745.23 137.61 L745.23 139.73M741.37 138.19 L742.53 138.19M745.87 136.25 L749.73 136.25M745.87 137.41 L749.73 137.41M745.87 138.57 L749.73 138.57M745.87 139.73 L749.73 139.73M747.8 136.25 L747.8 139.73M745.87 136.25 L745.87 138.57M749.73 136.25 L749.73 138.57M751.53 135.87 L752.69 137.03 L752.69 138.57 L751.53 139.73" fill="none" stroke="#1a1a1a" stroke-width="0.55"/>
<text x="500.3" y="164.78" font-size="4.4" stroke="#1a1a1a" stroke-width="0.22" textLength="10.2" lengthAdjust="spacing">9.22</text>
<line x1="497.8" y1="165.3" x2="513.3" y2="165.3" stroke="#1a1a1a" stroke-width="0.78"/>
<circle cx="519" cy="169" r="2.3" fill="none" stroke="#1a1a1a" stroke-width="0.7"/>
<text x="519" y="170.22" font-size="3.4" text-anchor="middle" stroke="#1a1a1a" stroke-width="0.22">4</text>
<text x="431.7" y="139.81" font-size="4.2" letter-spacing="0.5" stroke="#1a1a1a" stroke-width="0.22">+8.97</text>
<path d="M451.14 145.07 L451.14 148.93M450.37 146.23 L451.91 146.23M452.3 145.45 L454.23 145.45M452.3 145.45 L452.3 147.39M454.23 145.45 L454.23 147.39M452.3 147.39 L454.23 147.39M452.11 148.93 L454.23 148.93M453.27 147.39 L453.27 148.93M455.06 146.03 L458.92 146.03M456.03 145.07 L456.03 147M457.96 145.07 L457.96 147M455.45 147 L458.54 147M455.45 147 L455.45 148.93M458.54 147 L458.54 148.93M455.45 148.93 L458.54 148.93M455.45 147.97 L458.54 147.97M459.75 145.07 L463.62 145.07 L463.62 148.93 L459.75 148.93 L459.75 145.07M459.75 147 L463.62 147M461.68 145.07 L461.68 148.93" fill="none" stroke="#1a1a1a" stroke-width="0.55"/>
<text x="449.4" y="165" font-size="5" letter-spacing="0.5" stroke="#1a1a1a" stroke-width="0.22">30</text>
<path d="M457.87 162.04 L461.73 162.04M459.03 161.27 L459.03 165.13M459.99 163.01 L461.73 163.01M459.99 163.01 L459.99 165.13M459.99 165.13 L461.73 165.13M461.73 163.01 L461.73 165.13M457.87 163.59 L459.03 163.59M464.49 161.27 L464.49 162.62M462.56 162.62 L466.42 162.62M464.49 162.62 L462.56 165.13M464.49 162.62 L466.42 165.13M463.33 163.97 L465.65 163.97" fill="none" stroke="#1a1a1a" stroke-width="0.6"/>
<text x="467.5" y="165" font-size="5" letter-spacing="0.6" stroke="#1a1a1a" stroke-width="0.22">0.2%</text>
<circle cx="588" cy="181.7" r="4.2" fill="none" stroke="#1a1a1a" stroke-width="0.8"/>
<text x="588" y="183.72" font-size="5.6" text-anchor="middle" stroke="#1a1a1a" stroke-width="0.22">D</text>
<line x1="588" y1="159" x2="588" y2="173.3" stroke="#1a1a1a" stroke-width="0.9"/>
<circle cx="618.7" cy="219" r="4.2" fill="none" stroke="#1a1a1a" stroke-width="0.8"/>
<text x="618.7" y="221.02" font-size="5.6" text-anchor="middle" stroke="#1a1a1a" stroke-width="0.22">E</text>
<line x1="625.8" y1="219.2" x2="644" y2="219.2" stroke="#1a1a1a" stroke-width="1.23"/>
<circle cx="592.8" cy="395" r="4.2" fill="none" stroke="#1a1a1a" stroke-width="0.8"/>
<text x="592.8" y="397.02" font-size="5.6" text-anchor="middle" stroke="#1a1a1a" stroke-width="0.22">J</text>
<line x1="592.8" y1="402.5" x2="592.8" y2="430.8" stroke="#1a1a1a" stroke-width="0.9"/>
<circle cx="226.3" cy="428.8" r="4.2" fill="none" stroke="#1a1a1a" stroke-width="0.8"/>
<text x="226.3" y="430.82" font-size="5.6" text-anchor="middle" stroke="#1a1a1a" stroke-width="0.22">C</text>
<line x1="235" y1="428.8" x2="247.5" y2="428.8" stroke="#1a1a1a" stroke-width="0.9"/>
<circle cx="121.5" cy="293.1" r="4.7" fill="none" stroke="#1a1a1a" stroke-width="0.8"/>
<text x="121.5" y="295.33" font-size="6.2" text-anchor="middle" stroke="#1a1a1a" stroke-width="0.22">A</text>
<line x1="135" y1="293" x2="171.7" y2="293" stroke="#555" stroke-width="0.78"/>
<circle cx="222.3" cy="504" r="4.7" fill="none" stroke="#1a1a1a" stroke-width="0.8"/>
<text x="222.3" y="506.23" font-size="6.2" text-anchor="middle" stroke="#1a1a1a" stroke-width="0.22">I</text>
<line x1="222.3" y1="466" x2="222.3" y2="498" stroke="#1a1a1a" stroke-width="0.9"/>
<circle cx="730" cy="445.3" r="4.3" fill="none" stroke="#1a1a1a" stroke-width="0.8"/>
<text x="730" y="447.39" font-size="5.8" text-anchor="middle" stroke="#1a1a1a" stroke-width="0.22">G</text>
<line x1="692.5" y1="445.3" x2="708" y2="445.3" stroke="#1a1a1a" stroke-width="1.79"/>
<line x1="708" y1="445.3" x2="722.5" y2="445.3" stroke="#1a1a1a" stroke-width="0.78"/>
<circle cx="679" cy="478.7" r="4.3" fill="none" stroke="#1a1a1a" stroke-width="0.8"/>
<text x="679" y="480.79" font-size="5.8" text-anchor="middle" stroke="#1a1a1a" stroke-width="0.22">H</text>
<path d="M660.2 459 V476 Q660.2 478.9 663.5 478.9 H673" fill="none" stroke="#1a1a1a" stroke-width="1.01"/>
<line x1="561.7" y1="201.8" x2="572" y2="201.8" stroke="#1a1a1a" stroke-width="1.01"/>
<line x1="561.7" y1="280" x2="572" y2="280" stroke="#1a1a1a" stroke-width="1.01"/>
<line x1="561.7" y1="375" x2="572" y2="375" stroke="#1a1a1a" stroke-width="1.01"/>
<text x="595" y="239.3" font-size="5" stroke="#1a1a1a" stroke-width="0.22" textLength="34.5" lengthAdjust="spacing">VS300×400</text>
<line x1="593.3" y1="240" x2="654" y2="240" stroke="#1a1a1a" stroke-width="0.78"/>
<path d="M597.3 242.07 L597.3 243.42M595.37 243.42 L599.23 243.42M597.3 243.42 L595.37 245.93M597.3 243.42 L599.23 245.93M596.14 244.77 L598.46 244.77M600.83 242.07 L600.83 245.93M600.06 243.23 L601.61 243.23M601.99 242.45 L603.92 242.45M601.99 242.45 L601.99 244.39M603.92 242.45 L603.92 244.39M601.99 244.39 L603.92 244.39M601.8 245.93 L603.92 245.93M602.96 244.39 L602.96 245.93" fill="none" stroke="#1a1a1a" stroke-width="0.55"/>
<text x="605" y="245.8" font-size="5" letter-spacing="0.5" stroke="#1a1a1a" stroke-width="0.22">0.2%</text>
<text x="595" y="252.4" font-size="5" letter-spacing="0.4" stroke="#1a1a1a" stroke-width="0.22">10m</text>
<path d="M606.87 249.25 L610.73 249.25M608.8 248.67 L608.8 252.53M606.87 250.79 L610.73 250.79M607.25 252.53 L610.35 252.53M607.45 249.25 L607.45 250.79M610.15 249.25 L610.15 250.79M612.53 249.05 L613.88 249.44 L612.33 250.99 L614.26 250.41 L614.84 251.57 L613.88 252.53 L612.91 252.34" fill="none" stroke="#1a1a1a" stroke-width="0.55"/>
<text x="616.8" y="252.4" font-size="5" stroke="#1a1a1a" stroke-width="0.22">1</text>
<path d="M620.85 249.31 L624.18 249.31 L624.18 252.45M620.85 252.45 L624.18 252.45M626.08 248.75 L626.08 252.45M625.34 249.86 L626.82 249.86M627.19 249.12 L629.04 249.12M627.19 249.12 L627.19 250.97M629.04 249.12 L629.04 250.97M627.19 250.97 L629.04 250.97M627 252.45 L629.04 252.45M628.11 250.97 L628.11 252.45" fill="none" stroke="#1a1a1a" stroke-width="0.55"/>
<path d="M596.14 254.67 L596.14 256.99M598.46 254.67 L598.46 256.99 L596.91 258.53M599.87 255.44 L603.73 255.44M600.25 256.6 L603.35 256.6M601.8 256.6 L601.03 258.53M604.37 256.6 L608.23 256.6M609.64 254.67 L609.64 256.99M611.96 254.67 L611.96 256.99 L610.41 258.53M613.75 255.05 L614.53 255.83M613.37 256.41 L614.14 256.99M614.14 258.53 L617.23 255.63M618.25 255.05 L619.03 255.83M617.87 256.41 L618.64 256.99M618.64 258.53 L621.73 255.63M622.37 255.63 L626.23 255.63M623.33 254.67 L623.33 256.6M625.27 254.67 L625.27 256.6M622.75 256.6 L625.85 256.6M622.75 256.6 L622.75 258.53M625.85 256.6 L625.85 258.53M622.75 258.53 L625.85 258.53M622.75 257.57 L625.85 257.57M627.25 255.83 L628.41 255.44 L628.03 258.15 L629.19 256.6 L630.54 256.41 L630.35 258.15" fill="none" stroke="#1a1a1a" stroke-width="0.55"/>
<path d="M595.75 261.03 L596.91 260.64 L596.53 263.35 L597.69 261.8 L599.04 261.61 L598.85 263.35M600.45 261.03 L601.61 260.64 L601.22 263.35 L602.38 261.8 L603.73 261.61 L603.54 263.35" fill="none" stroke="#1a1a1a" stroke-width="0.55"/>
<text x="605" y="264.8" font-size="5" letter-spacing="0.5" stroke="#1a1a1a" stroke-width="0.22">.</text>
<path d="M612.07 268.03 L615.93 268.03M613.03 267.07 L613.03 269M614.97 267.07 L614.97 269M612.45 269 L615.55 269M612.45 269 L612.45 270.93M615.55 269 L615.55 270.93M612.45 270.93 L615.55 270.93M612.45 269.97 L615.55 269.97M618.5 267.07 L618.5 268.42M616.57 268.42 L620.43 268.42M618.5 268.42 L616.57 270.93M618.5 268.42 L620.43 270.93M617.34 269.77 L619.66 269.77M621.07 268.03 L624.93 268.03M622.03 267.07 L622.03 269M623.97 267.07 L623.97 269M621.45 269 L624.55 269M621.45 269 L621.45 270.93M624.55 269 L624.55 270.93M621.45 270.93 L624.55 270.93M621.45 269.97 L624.55 269.97M625.57 268.03 L629.43 268.03M626.53 267.07 L626.53 269M628.47 267.07 L628.47 269M625.95 269 L629.05 269M625.95 269 L625.95 270.93M629.05 269 L629.05 270.93M625.95 270.93 L629.05 270.93M625.95 269.97 L629.05 269.97M630.07 267.45 L633.93 267.45M630.07 268.61 L633.93 268.61M630.07 269.77 L633.93 269.77M630.07 270.93 L633.93 270.93M632 267.45 L632 270.93M630.07 267.45 L630.07 269.77M633.93 267.45 L633.93 269.77" fill="none" stroke="#1a1a1a" stroke-width="0.6"/>
<line x1="609" y1="271.6" x2="653" y2="271.6" stroke="#1a1a1a" stroke-width="0.78"/>
<line x1="653" y1="260" x2="653" y2="278.5" stroke="#1a1a1a" stroke-width="1.68"/>
<rect x="641.9" y="260.8" width="11.3" height="4.2" fill="none" stroke="#1a1a1a" stroke-width="0.6"/>
<text x="643.5" y="264.08" font-size="3" letter-spacing="0.2" stroke="#1a1a1a" stroke-width="0.22">2.40</text>
<text x="643.5" y="258.94" font-size="2.6" letter-spacing="0.1" stroke="#1a1a1a" stroke-width="0.22">K21</text>
<text x="634.5" y="263.44" font-size="2.6" letter-spacing="0.1" stroke="#1a1a1a" stroke-width="0.22">AE9</text>
<path d="M633 278.7 L612.2 278.7 L612.2 320.8 L633 320.8" fill="none" stroke="#1a1a1a" stroke-width="0.9"/>
<text x="608.8" y="299.58" font-size="4.4" text-anchor="middle" letter-spacing="0.4" transform="rotate(-90 608.8 298)" stroke="#1a1a1a" stroke-width="0.22">6.00</text>
<path d="M615.35 293.15 L619.05 293.15 L619.05 296.85 L615.35 296.85 L615.35 293.15M615.35 295 L619.05 295M617.2 293.15 L617.2 296.85M621.69 293.15 L621.69 294.45M619.84 294.45 L623.54 294.45M621.69 294.45 L619.84 296.85M621.69 294.45 L623.54 296.85M620.58 295.74 L622.8 295.74M625.07 293.15 L625.07 296.85M624.33 294.26 L625.81 294.26M626.18 293.52 L628.02 293.52M626.18 293.52 L626.18 295.37M628.02 293.52 L628.02 295.37M626.18 295.37 L628.02 295.37M625.99 296.85 L628.02 296.85M627.1 295.37 L627.1 296.85" fill="none" stroke="#1a1a1a" stroke-width="0.55"/>
<path d="M614.07 299.45 L617.93 299.45M616 298.87 L616 302.73M614.07 300.99 L617.93 300.99M614.45 302.73 L617.55 302.73M614.65 299.45 L614.65 300.99M617.35 299.45 L617.35 300.99M618.67 299.83 L622.53 299.83M619.63 298.87 L619.63 300.8M621.57 298.87 L621.57 300.8M619.05 300.8 L622.15 300.8M619.05 300.8 L619.05 302.73M622.15 300.8 L622.15 302.73M619.05 302.73 L622.15 302.73M619.05 301.77 L622.15 301.77M623.65 299.64 L626.75 299.64M625.39 298.87 L625.39 300.99 L624.62 301.57 L624.23 300.8 L625.39 300.61 L625.97 301.57 L625.2 302.73M628.64 298.87 L628.64 302.73M627.87 300.03 L629.41 300.03M629.8 299.25 L631.73 299.25M629.8 299.25 L629.8 301.19M631.73 299.25 L631.73 301.19M629.8 301.19 L631.73 301.19M629.61 302.73 L631.73 302.73M630.77 301.19 L630.77 302.73M632.47 298.87 L636.33 298.87 L636.33 302.73 L632.47 302.73 L632.47 298.87M632.47 300.8 L636.33 300.8M634.4 298.87 L634.4 302.73" fill="none" stroke="#1a1a1a" stroke-width="0.6"/>
<path d="M611.17 325.85 L615.03 325.85M611.17 327.01 L615.03 327.01M611.17 328.17 L615.03 328.17M611.17 329.33 L615.03 329.33M613.1 325.85 L613.1 329.33M611.17 325.85 L611.17 328.17M615.03 325.85 L615.03 328.17M616.44 325.47 L616.44 329.33M615.67 326.63 L617.21 326.63M617.6 325.85 L619.53 325.85M617.6 325.85 L617.6 327.79M619.53 325.85 L619.53 327.79M617.6 327.79 L619.53 327.79M617.41 329.33 L619.53 329.33M618.57 327.79 L618.57 329.33M620.17 326.24 L624.03 326.24M621.33 325.47 L621.33 329.33M622.29 327.21 L624.03 327.21M622.29 327.21 L622.29 329.33M622.29 329.33 L624.03 329.33M624.03 327.21 L624.03 329.33M620.17 327.79 L621.33 327.79M624.67 325.47 L628.53 325.47 L628.53 329.33 L624.67 329.33 L624.67 325.47M624.67 327.4 L628.53 327.4M626.6 325.47 L626.6 329.33M629.75 325.47 L629.75 329.33M629.75 325.66 L631.1 325.66M631.1 325.66 L631.1 327.4M629.75 327.4 L631.1 327.4M631.49 326.24 L633.03 326.24M632.26 325.47 L632.26 329.33M631.49 327.79 L633.03 327.79" fill="none" stroke="#1a1a1a" stroke-width="0.6"/>
<line x1="609" y1="329.6" x2="653" y2="329.6" stroke="#1a1a1a" stroke-width="0.78"/>
<text x="613" y="335.2" font-size="5" stroke="#1a1a1a" stroke-width="0.22" textLength="18" lengthAdjust="spacing">3000V</text>
<rect x="641.7" y="329.6" width="11.4" height="7.8" fill="none" stroke="#1a1a1a" stroke-width="0.6"/>
<text x="644" y="333.94" font-size="2.6" letter-spacing="0.1" stroke="#1a1a1a" stroke-width="0.22">K21</text>
<text x="635" y="341.31" font-size="2.8" letter-spacing="0.2" stroke="#1a1a1a" stroke-width="0.22">K22 2.40</text>
<line x1="653" y1="318" x2="653" y2="330" stroke="#1a1a1a" stroke-width="1.57"/>
<path d="M650.4 188.24 L650.4 189.47M648.64 189.47 L652.16 189.47M650.4 189.47 L648.64 191.76M650.4 189.47 L652.16 191.76M649.34 190.71 L651.46 190.71M653.45 188.24 L653.45 191.76M653.45 188.41 L654.68 188.41M654.68 188.41 L654.68 190M653.45 190 L654.68 190M655.04 188.94 L656.45 188.94M655.74 188.24 L655.74 191.76M655.04 190.35 L656.45 190.35M657.2 190 L660.73 190" fill="none" stroke="#1a1a1a" stroke-width="0.5" transform="rotate(90 648.3 190)"/>
<text x="644.6" y="211.3" font-size="3.6" text-anchor="middle" letter-spacing="0.3" transform="rotate(-90 644.6 210)" stroke="#1a1a1a" stroke-width="0.22">8.19</text>
<text x="651.5" y="218.3" font-size="3.6" text-anchor="middle" letter-spacing="0.3" transform="rotate(-90 651.5 217)" stroke="#1a1a1a" stroke-width="0.22">11.91</text>
<text x="650.6" y="304.3" font-size="3.6" text-anchor="middle" letter-spacing="0.3" transform="rotate(-90 650.6 303)" stroke="#1a1a1a" stroke-width="0.22">14.49</text>
<text x="664.6" y="306.3" font-size="3.6" text-anchor="middle" letter-spacing="0.3" transform="rotate(-90 664.6 305)" stroke="#1a1a1a" stroke-width="0.22">11.11</text>
<text x="643.6" y="377.3" font-size="3.6" text-anchor="middle" letter-spacing="0.3" transform="rotate(-90 643.6 376)" stroke="#1a1a1a" stroke-width="0.22">14.85</text>
<text x="651.6" y="378.3" font-size="3.6" text-anchor="middle" letter-spacing="0.3" transform="rotate(-90 651.6 377)" stroke="#1a1a1a" stroke-width="0.22">20.11</text>
<path d="M648.6 387.24 L648.6 388.47M646.84 388.47 L650.36 388.47M648.6 388.47 L646.84 390.76M648.6 388.47 L650.36 390.76M647.54 389.71 L649.66 389.71M651.12 387.77 L654.65 387.77M652.88 387.24 L652.88 390.76M651.12 389.18 L654.65 389.18M651.47 390.76 L654.3 390.76M651.65 387.77 L651.65 389.18M654.12 387.77 L654.12 389.18M655.4 387.24 L658.93 387.24 L658.93 390.76 L655.4 390.76 L655.4 387.24M655.4 389 L658.93 389M657.17 387.24 L657.17 390.76" fill="none" stroke="#1a1a1a" stroke-width="0.5" transform="rotate(90 646.5 389)"/>
<text x="668.6" y="387.22" font-size="3.4" text-anchor="middle" transform="rotate(-90 668.6 386)" stroke="#1a1a1a" stroke-width="0.22">3E</text>
<path d="M680.7 211.48 L680.7 212.9M678.68 212.9 L682.72 212.9M680.7 212.9 L678.68 215.52M680.7 212.9 L682.72 215.52M679.49 214.31 L681.91 214.31M683.28 212.29 L687.32 212.29M684.49 211.48 L684.49 215.52M685.5 213.3 L687.32 213.3M685.5 213.3 L685.5 215.52M685.5 215.52 L687.32 215.52M687.32 213.3 L687.32 215.52M683.28 213.9 L684.49 213.9" fill="none" stroke="#1a1a1a" stroke-width="0.8" transform="rotate(90 678.3 213.5)"/>
<path d="M679.29 223.48 L679.29 227.52M679.29 223.69 L680.7 223.69M680.7 223.69 L680.7 225.5M679.29 225.5 L680.7 225.5M681.1 224.29 L682.72 224.29M681.91 223.48 L681.91 227.52M681.1 225.9 L682.72 225.9M682.98 224.49 L687.02 224.49M683.99 223.48 L683.99 225.5M686.01 223.48 L686.01 225.5M683.39 225.5 L686.61 225.5M683.39 225.5 L683.39 227.52M686.61 225.5 L686.61 227.52M683.39 227.52 L686.61 227.52M683.39 226.51 L686.61 226.51M687.28 223.89 L691.32 223.89M687.28 225.1 L691.32 225.1M687.28 226.31 L691.32 226.31M687.28 227.52 L691.32 227.52M689.3 223.89 L689.3 227.52M687.28 223.89 L687.28 226.31M691.32 223.89 L691.32 226.31M692.39 223.48 L692.39 227.52M691.58 224.69 L693.2 224.69M693.6 223.89 L695.62 223.89M693.6 223.89 L693.6 225.9M695.62 223.89 L695.62 225.9M693.6 225.9 L695.62 225.9M693.4 227.52 L695.62 227.52M694.61 225.9 L694.61 227.52M696.29 224.69 L697.5 224.29 L697.09 227.11 L698.3 225.5 L699.71 225.3 L699.51 227.11M700.18 223.48 L704.22 223.48 L704.22 227.52 L700.18 227.52 L700.18 223.48M700.18 225.5 L704.22 225.5M702.2 223.48 L702.2 227.52M706.5 223.48 L706.5 224.9M704.48 224.9 L708.52 224.9M706.5 224.9 L704.48 227.52M706.5 224.9 L708.52 227.52M705.29 226.31 L707.71 226.31M708.78 224.29 L712.82 224.29M709.99 223.48 L709.99 227.52M711 225.3 L712.82 225.3M711 225.3 L711 227.52M711 227.52 L712.82 227.52M712.82 225.3 L712.82 227.52M708.78 225.9 L709.99 225.9M713.49 224.69 L714.7 224.29 L714.29 227.11 L715.5 225.5 L716.91 225.3 L716.71 227.11M717.38 224.09 L721.42 224.09M719.4 223.48 L719.4 227.52M717.38 225.7 L721.42 225.7M717.79 227.52 L721.01 227.52M717.99 224.09 L717.99 225.7M720.81 224.09 L720.81 225.7M721.68 223.48 L725.72 223.48 L725.72 227.52 L721.68 227.52 L721.68 223.48M721.68 225.5 L725.72 225.5M723.7 223.48 L723.7 227.52" fill="none" stroke="#1a1a1a" stroke-width="0.8" transform="rotate(90 678.3 225.5)"/>
<text x="676.7" y="345.58" font-size="4.4" text-anchor="middle" letter-spacing="0.3" transform="rotate(-90 676.7 344)" stroke="#1a1a1a" stroke-width="0.22">V75</text>
<line x1="676.7" y1="352" x2="676.7" y2="410" stroke="#1a1a1a" stroke-width="0.78" stroke-dasharray="3 1.6"/>
<text x="674" y="306.58" font-size="4.4" stroke="#1a1a1a" stroke-width="0.22" textLength="11" lengthAdjust="spacing">8.97</text>
<circle cx="678.6" cy="301.6" r="0.4" fill="#1a1a1a" stroke="#1a1a1a" stroke-width="0.3"/>
<text x="671" y="184.08" font-size="3" stroke="#1a1a1a" stroke-width="0.22">8</text>
<path d="M677.29 183.09 L680.31 183.09M678.2 182.49 L678.2 185.51M678.95 183.85 L680.31 183.85M678.95 183.85 L678.95 185.51M678.95 185.51 L680.31 185.51M680.31 183.85 L680.31 185.51M677.29 184.3 L678.2 184.3M681.41 182.49 L681.41 185.51M681.41 182.64 L682.47 182.64M682.47 182.64 L682.47 184M681.41 184 L682.47 184M682.77 183.09 L683.98 183.09M683.38 182.49 L683.38 185.51M682.77 184.3 L683.98 184.3" fill="none" stroke="#1a1a1a" stroke-width="0.5"/>
<line x1="666" y1="278.3" x2="752" y2="278.3" stroke="#1a1a1a" stroke-width="0.9"/>
<path d="M696.8 273.58 L696.8 275M694.78 275 L698.82 275M696.8 275 L694.78 277.62M696.8 275 L698.82 277.62M695.59 276.41 L698.01 276.41M700.19 273.58 L700.19 277.62M700.19 273.79 L701.6 273.79M701.6 273.79 L701.6 275.6M700.19 275.6 L701.6 275.6M702 274.39 L703.62 274.39M702.81 273.58 L702.81 277.62M702 276 L703.62 276M704.38 274.59 L708.42 274.59M705.39 273.58 L705.39 275.6M707.41 273.58 L707.41 275.6M704.79 275.6 L708.01 275.6M704.79 275.6 L704.79 277.62M708.01 275.6 L708.01 277.62M704.79 277.62 L708.01 277.62M704.79 276.61 L708.01 276.61M709.18 273.58 L713.22 273.58 L713.22 277.62 L709.18 277.62 L709.18 273.58M709.18 275.6 L713.22 275.6M711.2 273.58 L711.2 277.62M714.79 273.99 L714.79 277.21M716 274.39 L717.61 274.39M716 276.81 L717.81 276.81M718.78 274.19 L722.82 274.19M720.8 273.58 L720.8 277.62M718.78 275.8 L722.82 275.8M719.19 277.62 L722.41 277.62M719.39 274.19 L719.39 275.8M722.21 274.19 L722.21 275.8M723.58 274.39 L727.62 274.39M724.79 273.58 L724.79 277.62M725.8 275.4 L727.62 275.4M725.8 275.4 L725.8 277.62M725.8 277.62 L727.62 277.62M727.62 275.4 L727.62 277.62M723.58 276 L724.79 276" fill="none" stroke="#1a1a1a" stroke-width="0.6"/>
<path d="M732.71 273.58 L731.5 274.79 L731.5 276.41 L732.71 277.62" fill="none" stroke="#1a1a1a" stroke-width="0.55"/>
<text x="732.5" y="277.47" font-size="5.2" stroke="#1a1a1a" stroke-width="0.22">2</text>
<path d="M736.37 273.67 L740.23 273.67 L740.23 277.53 L736.37 277.53 L736.37 273.67M736.37 275.6 L740.23 275.6M738.3 273.67 L738.3 277.53M740.77 274.44 L744.63 274.44M741.93 273.67 L741.93 277.53M742.89 275.41 L744.63 275.41M742.89 275.41 L742.89 277.53M742.89 277.53 L744.63 277.53M744.63 275.41 L744.63 277.53M740.77 275.99 L741.93 275.99M746.33 273.67 L747.49 274.83 L747.49 276.37 L746.33 277.53" fill="none" stroke="#1a1a1a" stroke-width="0.55"/>
<line x1="60" y1="455.8" x2="197" y2="456.2" stroke="#555" stroke-width="0.78" stroke-dasharray="9 1"/>
<line x1="197" y1="456.2" x2="445" y2="457.4" stroke="#2a2a2a" stroke-width="1.01"/>
<line x1="445" y1="455.8" x2="660" y2="455.8" stroke="#1a1a1a" stroke-width="1.01"/>
<line x1="60" y1="457.2" x2="180" y2="457.6" stroke="#999" stroke-width="0.45"/>
<line x1="197.5" y1="450.7" x2="310" y2="451.2" stroke="#1a1a1a" stroke-width="0.78"/>
<line x1="197.5" y1="452.1" x2="310" y2="451.6" stroke="#1a1a1a" stroke-width="0.78"/>
<line x1="310" y1="451.4" x2="445" y2="453" stroke="#1a1a1a" stroke-width="0.84"/>
<line x1="445" y1="452.2" x2="660" y2="452.2" stroke="#1a1a1a" stroke-width="0.78"/>
<line x1="248.3" y1="448.6" x2="445" y2="449.5" stroke="#444" stroke-width="0.67"/>
<path d="M340 446.6 L383 446.8 Q385.6 448 383 449.2" fill="none" stroke="#444" stroke-width="0.67"/>
<line x1="445" y1="448.3" x2="590" y2="448.3" stroke="#444" stroke-width="0.67"/>
<line x1="590" y1="448.3" x2="660" y2="448.3" stroke="#1a1a1a" stroke-width="1.23"/>
<line x1="250.8" y1="441.9" x2="445" y2="442.5" stroke="#1a1a1a" stroke-width="0.9" stroke-dasharray="3 1.5"/>
<line x1="445" y1="441.6" x2="512" y2="442" stroke="#1a1a1a" stroke-width="0.9" stroke-dasharray="3 1.5"/>
<path d="M175 462.6 L267.5 462.6 L267.5 460.2 L456 460.2 L456 481.7" fill="none" stroke="#1a1a1a" stroke-width="0.9"/>
<rect x="217.5" y="445" width="29.2" height="3.3" fill="none" stroke="#1a1a1a" stroke-width="0.6"/>
<text x="222" y="447.81" font-size="2.8" letter-spacing="0.2" stroke="#1a1a1a" stroke-width="0.22">1.00</text>
<text x="239" y="447.74" font-size="2.6" letter-spacing="0.1" stroke="#1a1a1a" stroke-width="0.22">K13</text>
<circle cx="205" cy="450.2" r="2.9" fill="none" stroke="#1a1a1a" stroke-width="0.8"/>
<text x="205" y="451.42" font-size="3.4" text-anchor="middle" stroke="#1a1a1a" stroke-width="0.22">10</text>
<text x="181" y="453.21" font-size="4.2" letter-spacing="0.5" stroke="#1a1a1a" stroke-width="0.22">7.99</text>
<line x1="193" y1="451.7" x2="199" y2="451.7" stroke="#1a1a1a" stroke-width="0.67"/>
<line x1="176" y1="434.2" x2="196.2" y2="434.2" stroke="#1a1a1a" stroke-width="1.68" stroke-dasharray="2.6 1.2"/>
<line x1="176" y1="438.4" x2="197" y2="438.4" stroke="#1a1a1a" stroke-width="0.78"/>
<line x1="178" y1="446.4" x2="197" y2="446.4" stroke="#555" stroke-width="0.56"/>
<line x1="186" y1="439" x2="186" y2="444" stroke="#1a1a1a" stroke-width="0.67"/>
<line x1="184.5" y1="439.3" x2="187.5" y2="439.3" stroke="#1a1a1a" stroke-width="0.67"/>
<text x="191" y="442.86" font-size="2.4" stroke="#1a1a1a" stroke-width="0.22">K3</text>
<line x1="88.3" y1="419" x2="88.3" y2="455" stroke="#1a1a1a" stroke-width="0.9"/>
<line x1="81.8" y1="440.6" x2="86.6" y2="454.5" stroke="#1a1a1a" stroke-width="0.9"/>
<line x1="59.5" y1="452" x2="84.4" y2="452" stroke="#777" stroke-width="0.56"/>
<circle cx="87.2" cy="453.6" r="1.3" fill="none" stroke="#1a1a1a" stroke-width="0.6"/>
<text x="90" y="443.01" font-size="2.8" stroke="#1a1a1a" stroke-width="0.22">b1</text>
<text x="53.3" y="439.46" font-size="4.6" stroke="#1a1a1a" stroke-width="0.3" textLength="27.7" lengthAdjust="spacing">BM2 6.82</text>
<line x1="53.3" y1="440.6" x2="81.8" y2="440.6" stroke="#1a1a1a" stroke-width="0.9"/>
<text x="54" y="447.24" font-size="5.4" letter-spacing="0.4" stroke="#1a1a1a" stroke-width="0.22">VS</text>
<path d="M62.88 443.28 L66.92 443.28 L66.92 447.32 L62.88 447.32 L62.88 443.28M62.88 445.3 L66.92 445.3M64.9 443.28 L64.9 447.32M67.78 443.89 L71.81 443.89M69.8 443.28 L69.8 447.32M67.78 445.5 L71.81 445.5M68.18 447.32 L71.41 447.32M68.38 443.89 L68.38 445.5M71.21 443.89 L71.21 445.5" fill="none" stroke="#1a1a1a" stroke-width="0.65"/>
<line x1="128.4" y1="444.3" x2="155.2" y2="444.3" stroke="#1a1a1a" stroke-width="1.34"/>
<line x1="128.4" y1="444.3" x2="128.4" y2="456" stroke="#1a1a1a" stroke-width="0.9"/>
<text x="126" y="451.22" font-size="3.4" text-anchor="middle" letter-spacing="0.2" transform="rotate(-90 126 450)" stroke="#1a1a1a" stroke-width="0.22">2.50</text>
<line x1="248.3" y1="470" x2="248.3" y2="516" stroke="#1a1a1a" stroke-width="0.9"/>
<line x1="248.3" y1="514.2" x2="510" y2="514.2" stroke="#1a1a1a" stroke-width="0.78"/>
<line x1="510" y1="481.7" x2="510" y2="515.5" stroke="#1a1a1a" stroke-width="1.01"/>
<line x1="510" y1="514.2" x2="636.7" y2="514.2" stroke="#1a1a1a" stroke-width="0.78"/>
<line x1="636.7" y1="488.3" x2="636.7" y2="516" stroke="#1a1a1a" stroke-width="0.9"/>
<path d="M363.87 510.03 L367.73 510.03M364.83 509.07 L364.83 511M366.77 509.07 L366.77 511M364.25 511 L367.35 511M364.25 511 L364.25 512.93M367.35 511 L367.35 512.93M364.25 512.93 L367.35 512.93M364.25 511.97 L367.35 511.97M369.33 509.07 L369.33 512.93M368.56 510.23 L370.11 510.23M370.49 509.45 L372.42 509.45M370.49 509.45 L370.49 511.39M372.42 509.45 L372.42 511.39M370.49 511.39 L372.42 511.39M370.3 512.93 L372.42 512.93M371.46 511.39 L371.46 512.93M373.25 509.45 L377.12 509.45M373.25 510.61 L377.12 510.61M373.25 511.77 L377.12 511.77M373.25 512.93 L377.12 512.93M375.18 509.45 L375.18 512.93M373.25 509.45 L373.25 511.77M377.12 509.45 L377.12 511.77" fill="none" stroke="#1a1a1a" stroke-width="0.55"/>
<text x="378.5" y="512.8" font-size="5" stroke="#1a1a1a" stroke-width="0.22" textLength="51.5" lengthAdjust="spacing">VS300×1000 0.2%</text>
<text x="549" y="512.8" font-size="5" stroke="#1a1a1a" stroke-width="0.22" textLength="46.5" lengthAdjust="spacing">VS300×700 0.2%</text>
<line x1="352.3" y1="445" x2="352.3" y2="470.7" stroke="#1a1a1a" stroke-width="0.9"/>
<line x1="331.7" y1="470.7" x2="352.3" y2="470.7" stroke="#1a1a1a" stroke-width="0.78"/>
<text x="331.7" y="469.66" font-size="4.6" stroke="#1a1a1a" stroke-width="0.22">L</text>
<path d="M335.35 467.08 L339.05 467.08M336.28 466.15 L336.28 468M338.12 466.15 L338.12 468M335.72 468 L338.68 468M335.72 468 L335.72 469.85M338.68 468 L338.68 469.85M335.72 469.85 L338.68 469.85M335.72 468.92 L338.68 468.92M340.39 466.15 L340.39 469.85M340.39 466.34 L341.69 466.34M341.69 466.34 L341.69 468M340.39 468 L341.69 468M342.06 466.89 L343.54 466.89M342.8 466.15 L342.8 469.85M342.06 468.37 L343.54 468.37M344.33 466.15 L348.02 466.15 L348.02 469.85 L344.33 469.85 L344.33 466.15M344.33 468 L348.02 468M346.18 466.15 L346.18 469.85" fill="none" stroke="#1a1a1a" stroke-width="0.55"/>
<text x="331.7" y="476.6" font-size="5" stroke="#1a1a1a" stroke-width="0.22" textLength="20.4" lengthAdjust="spacing">H=1.25</text>
<line x1="387.3" y1="450" x2="387.3" y2="471.7" stroke="#1a1a1a" stroke-width="1.01"/>
<line x1="387.3" y1="471.7" x2="438.5" y2="471.7" stroke="#1a1a1a" stroke-width="0.78"/>
<text x="390" y="470.66" font-size="4.6" letter-spacing="0.5" stroke="#1a1a1a" stroke-width="0.22">BFB600</text>
<path d="M414.35 467.52 L418.05 467.52M414.35 468.63 L418.05 468.63M414.35 469.74 L418.05 469.74M414.35 470.85 L418.05 470.85M416.2 467.52 L416.2 470.85M414.35 467.52 L414.35 469.74M418.05 467.52 L418.05 469.74M419.58 467.15 L419.58 470.85M418.84 468.26 L420.32 468.26M420.69 467.52 L422.54 467.52M420.69 467.52 L420.69 469.37M422.54 467.52 L422.54 469.37M420.69 469.37 L422.54 469.37M420.5 470.85 L422.54 470.85M421.61 469.37 L421.61 470.85" fill="none" stroke="#1a1a1a" stroke-width="0.55"/>
<text x="423.5" y="470.73" font-size="4.8" letter-spacing="0.4" stroke="#1a1a1a" stroke-width="0.22">0.2%</text>
<text x="388.5" y="448.82" font-size="3.4" letter-spacing="0.4" stroke="#1a1a1a" stroke-width="0.22">9.47</text>
<line x1="463.7" y1="446.7" x2="463.7" y2="470" stroke="#1a1a1a" stroke-width="1.01"/>
<line x1="463.7" y1="470" x2="508.3" y2="470" stroke="#1a1a1a" stroke-width="0.78"/>
<path d="M466.17 465.47 L470.03 465.47 L470.03 469.33 L466.17 469.33 L466.17 465.47M466.17 467.4 L470.03 467.4M468.1 465.47 L468.1 469.33M471.44 465.47 L471.44 469.33M470.67 466.63 L472.21 466.63M472.6 465.85 L474.53 465.85M472.6 465.85 L472.6 467.79M474.53 465.85 L474.53 467.79M472.6 467.79 L474.53 467.79M472.41 469.33 L474.53 469.33M473.57 467.79 L473.57 469.33M475.17 466.63 L479.03 466.63M476.91 465.47 L476.91 467.79 L475.94 469.33M478.07 466.63 L478.07 467.79M479.67 466.24 L480.83 466.82M479.67 469.33 L483.53 466.63M485.52 465.47 L485.52 469.33M485.52 467.01 L487.65 467.98M488.67 466.05 L492.15 466.05 L492.15 469.33M488.67 469.33 L492.15 469.33M494.52 465.47 L494.52 469.33M494.52 467.01 L496.65 467.98M497.67 467.4 L501.53 467.4M503.33 465.47 L502.55 467.01M503.33 466.05 L505.84 466.05 L504.1 469.33" fill="none" stroke="#1a1a1a" stroke-width="0.55"/>
<text x="421.5" y="440.1" font-size="5" letter-spacing="0.4" stroke="#1a1a1a" stroke-width="0.22">VS300</text>
<path d="M439.34 437.42 L442.86 437.42M440.22 436.54 L440.22 438.3M441.98 436.54 L441.98 438.3M439.69 438.3 L442.51 438.3M439.69 438.3 L439.69 440.06M442.51 438.3 L442.51 440.06M439.69 440.06 L442.51 440.06M439.69 439.18 L442.51 439.18M444.15 436.54 L444.15 440.06M444.15 436.71 L445.38 436.71M445.38 436.71 L445.38 438.3M444.15 438.3 L445.38 438.3M445.74 437.24 L447.15 437.24M446.44 436.54 L446.44 440.06M445.74 438.65 L447.15 438.65" fill="none" stroke="#1a1a1a" stroke-width="0.5"/>
<line x1="411" y1="425" x2="411" y2="433" stroke="#1a1a1a" stroke-width="0.78"/>
<line x1="296.7" y1="425.8" x2="296.7" y2="433.7" stroke="#1a1a1a" stroke-width="0.78"/>
<text x="492.8" y="438.66" font-size="4.6" stroke="#1a1a1a" stroke-width="0.22" textLength="12.2" lengthAdjust="spacing">9.22</text>
<line x1="491.7" y1="439.2" x2="506.7" y2="439.2" stroke="#1a1a1a" stroke-width="0.78"/>
<line x1="506.7" y1="439.2" x2="520.4" y2="435.4" stroke="#1a1a1a" stroke-width="0.78"/>
<path d="M512.2 441.8 L520.6 435.2 L520.6 443.9" fill="none" stroke="#1a1a1a" stroke-width="0.9"/>
<text x="511.7" y="434.81" font-size="2.8" letter-spacing="0.2" stroke="#1a1a1a" stroke-width="0.22">W28</text>
<text x="522" y="442.31" font-size="2.8" letter-spacing="0.2" stroke="#1a1a1a" stroke-width="0.22">K24</text>
<circle cx="525" cy="430.9" r="2.7" fill="none" stroke="#1a1a1a" stroke-width="0.75"/>
<text x="525" y="432.2" font-size="3.6" text-anchor="middle" stroke="#1a1a1a" stroke-width="0.22">1</text>
<text x="573" y="442.38" font-size="4.4" stroke="#1a1a1a" stroke-width="0.22" textLength="13" lengthAdjust="spacing">22.90</text>
<text x="579" y="448.58" font-size="4.4" stroke="#1a1a1a" stroke-width="0.22" textLength="13.5" lengthAdjust="spacing">23.99</text>
<text x="621.7" y="442.93" font-size="4.8" stroke="#1a1a1a" stroke-width="0.22" textLength="16.6" lengthAdjust="spacing">VP300</text>
<text x="556" y="409.33" font-size="4.8" letter-spacing="0.8" stroke="#1a1a1a" stroke-width="0.22">VP20</text>
<text x="611" y="416" font-size="5" letter-spacing="0.2" stroke="#1a1a1a" stroke-width="0.22">HS</text>
<path d="M619.87 412.27 L623.73 412.27 L623.73 416.13 L619.87 416.13 L619.87 412.27M619.87 414.2 L623.73 414.2M621.8 412.27 L621.8 416.13M624.56 412.65 L628.42 412.65M624.56 413.81 L628.42 413.81M624.56 414.97 L628.42 414.97M624.56 416.13 L628.42 416.13M626.49 412.65 L626.49 416.13M624.56 412.65 L624.56 414.97M628.42 412.65 L628.42 414.97M629.83 412.27 L629.83 416.13M629.83 412.46 L631.18 412.46M631.18 412.46 L631.18 414.2M629.83 414.2 L631.18 414.2M631.57 413.04 L633.12 413.04M632.34 412.27 L632.34 416.13M631.57 414.59 L633.12 414.59" fill="none" stroke="#1a1a1a" stroke-width="0.55"/>
<line x1="609" y1="418" x2="651.7" y2="418" stroke="#1a1a1a" stroke-width="0.78"/>
<text x="596.7" y="424.3" font-size="5" stroke="#1a1a1a" stroke-width="0.22" textLength="38.3" lengthAdjust="spacing">500×500×900</text>
<circle cx="630.8" cy="431.3" r="2.6" fill="none" stroke="#1a1a1a" stroke-width="0.7"/>
<text x="630.8" y="432.52" font-size="3.4" text-anchor="middle" stroke="#1a1a1a" stroke-width="0.22">7</text>
<line x1="660.8" y1="440" x2="676.7" y2="424.2" stroke="#1a1a1a" stroke-width="0.78"/>
<line x1="676.7" y1="424.2" x2="701.7" y2="424.2" stroke="#1a1a1a" stroke-width="0.78"/>
<line x1="660.8" y1="441.7" x2="676.7" y2="433.3" stroke="#1a1a1a" stroke-width="0.78"/>
<line x1="676.7" y1="433.3" x2="730" y2="433.3" stroke="#1a1a1a" stroke-width="0.78"/>
<path d="M677.87 420.25 L681.73 420.25M679.8 419.67 L679.8 423.53M677.87 421.79 L681.73 421.79M678.25 423.53 L681.35 423.53M678.45 420.25 L678.45 421.79M681.15 420.25 L681.15 421.79M682.47 420.63 L686.33 420.63M683.43 419.67 L683.43 421.6M685.37 419.67 L685.37 421.6M682.85 421.6 L685.95 421.6M682.85 421.6 L682.85 423.53M685.95 421.6 L685.95 423.53M682.85 423.53 L685.95 423.53M682.85 422.57 L685.95 422.57M687.07 420.44 L690.93 420.44M688.23 419.67 L688.23 423.53M689.19 421.41 L690.93 421.41M689.19 421.41 L689.19 423.53M689.19 423.53 L690.93 423.53M690.93 421.41 L690.93 423.53M687.07 421.99 L688.23 421.99M691.67 420.44 L695.53 420.44M692.83 419.67 L692.83 423.53M693.79 421.41 L695.53 421.41M693.79 421.41 L693.79 423.53M693.79 423.53 L695.53 423.53M695.53 421.41 L695.53 423.53M691.67 421.99 L692.83 421.99M696.27 419.67 L700.13 419.67 L700.13 423.53 L696.27 423.53 L696.27 419.67M696.27 421.6 L700.13 421.6M698.2 419.67 L698.2 423.53" fill="none" stroke="#1a1a1a" stroke-width="0.72"/>
<path d="M677.86 429.48 L681.64 429.48M679.75 428.91 L679.75 432.69M677.86 430.99 L681.64 430.99M678.24 432.69 L681.26 432.69M678.43 429.48 L678.43 430.99M681.07 429.48 L681.07 430.99M682.11 429.67 L685.89 429.67M683.24 428.91 L683.24 432.69M684.19 430.61 L685.89 430.61M684.19 430.61 L684.19 432.69M684.19 432.69 L685.89 432.69M685.89 430.61 L685.89 432.69M682.11 431.18 L683.24 431.18M687.12 428.91 L687.12 431.18M689.38 428.91 L689.38 431.18 L687.87 432.69M690.61 429.67 L691.74 430.23M690.61 432.69 L694.39 430.04M694.86 430.8 L698.64 430.8M699.11 430.8 L702.89 430.8M703.74 429.29 L704.49 430.04M703.36 430.61 L704.12 431.18M704.12 432.69 L707.14 429.86M707.61 430.8 L711.39 430.8M711.86 430.8 L715.64 430.8M717.24 428.91 L716.49 430.42M717.24 429.48 L719.7 429.48 L718 432.69M720.36 430.8 L724.14 430.8M724.61 429.48 L728.01 429.48 L728.01 432.69M724.61 432.69 L728.01 432.69" fill="none" stroke="#1a1a1a" stroke-width="0.68"/>
<text x="643.5" y="436.74" font-size="2.6" letter-spacing="0.1" stroke="#1a1a1a" stroke-width="0.22">P26</text>
<text x="645.5" y="443.34" font-size="2.6" letter-spacing="0.1" stroke="#1a1a1a" stroke-width="0.22">K9</text>
<line x1="676.7" y1="412" x2="676.7" y2="441" stroke="#1a1a1a" stroke-width="0.9" stroke-dasharray="1.3 1.5"/>
<text x="671.2" y="448.48" font-size="4.4" letter-spacing="0.75" stroke="#1a1a1a" stroke-width="0.22">6.49</text>
<text x="670.6" y="453.58" font-size="4.4" letter-spacing="0.75" stroke="#1a1a1a" stroke-width="0.22">20.9</text>
<text x="671.2" y="459.28" font-size="4.4" letter-spacing="0.75" stroke="#1a1a1a" stroke-width="0.22">4.40</text>
<line x1="666" y1="449" x2="671" y2="449" stroke="#1a1a1a" stroke-width="0.56" stroke-dasharray="1 1"/>
<line x1="666" y1="454" x2="671" y2="454" stroke="#1a1a1a" stroke-width="0.56" stroke-dasharray="1 1"/>
<line x1="670" y1="460" x2="684.5" y2="460" stroke="#1a1a1a" stroke-width="0.78"/>
<line x1="670" y1="460" x2="665.3" y2="456" stroke="#1a1a1a" stroke-width="0.78"/>
<rect x="687.5" y="445.8" width="5" height="11" fill="none" stroke="#1a1a1a" stroke-width="0.8"/>
<line x1="692.5" y1="456.5" x2="714" y2="456.5" stroke="#1a1a1a" stroke-width="1.01"/>
<line x1="701.7" y1="451.3" x2="711.5" y2="451.3" stroke="#1a1a1a" stroke-width="0.9"/>
<rect x="659.2" y="444.5" width="2" height="12" fill="#1a1a1a" stroke="#1a1a1a" stroke-width="0.4"/>
<circle cx="645.3" cy="450.8" r="2.6" fill="none" stroke="#1a1a1a" stroke-width="0.7"/>
<text x="645.3" y="452.25" font-size="4.03" text-anchor="middle" stroke="#1a1a1a" stroke-width="0.22"></text>
<circle cx="657.6" cy="436" r="2" fill="none" stroke="#1a1a1a" stroke-width="0.6"/>
<text x="657.6" y="437.12" font-size="3.1" text-anchor="middle" stroke="#1a1a1a" stroke-width="0.22"></text>
<line x1="648" y1="452" x2="658" y2="447" stroke="#1a1a1a" stroke-width="0.67"/>
<line x1="648" y1="449.5" x2="658" y2="455" stroke="#1a1a1a" stroke-width="0.67"/>
<path d="M619.14 459.77 L619.14 463.63M618.37 460.93 L619.91 460.93M620.3 460.15 L622.23 460.15M620.3 460.15 L620.3 462.09M622.23 460.15 L622.23 462.09M620.3 462.09 L622.23 462.09M620.11 463.63 L622.23 463.63M621.27 462.09 L621.27 463.63M624.9 459.77 L624.9 461.12M622.97 461.12 L626.83 461.12M624.9 461.12 L622.97 463.63M624.9 461.12 L626.83 463.63M623.74 462.47 L626.06 462.47M628.34 459.77 L628.34 463.63M627.57 460.93 L629.11 460.93M629.5 460.15 L631.43 460.15M629.5 460.15 L629.5 462.09M631.43 460.15 L631.43 462.09M629.5 462.09 L631.43 462.09M629.31 463.63 L631.43 463.63M630.47 462.09 L630.47 463.63M632.17 460.73 L636.03 460.73M633.13 459.77 L633.13 461.7M635.07 459.77 L635.07 461.7M632.55 461.7 L635.65 461.7M632.55 461.7 L632.55 463.63M635.65 461.7 L635.65 463.63M632.55 463.63 L635.65 463.63M632.55 462.67 L635.65 462.67M636.77 460.73 L640.63 460.73M637.73 459.77 L637.73 461.7M639.67 459.77 L639.67 461.7M637.15 461.7 L640.25 461.7M637.15 461.7 L637.15 463.63M640.25 461.7 L640.25 463.63M637.15 463.63 L640.25 463.63M637.15 462.67 L640.25 462.67" fill="none" stroke="#1a1a1a" stroke-width="0.6"/>
<line x1="616.7" y1="464.6" x2="643.3" y2="464.6" stroke="#1a1a1a" stroke-width="0.78"/>
<line x1="643.3" y1="464.6" x2="658.3" y2="445" stroke="#1a1a1a" stroke-width="0.78"/>
<path d="M613.1 477.24 L613.1 478.47M611.34 478.47 L614.86 478.47M613.1 478.47 L611.34 480.76M613.1 478.47 L614.86 480.76M612.04 479.71 L614.16 479.71" fill="none" stroke="#1a1a1a" stroke-width="0.5"/>
<text x="615" y="480.58" font-size="4.4" letter-spacing="0.5" stroke="#1a1a1a" stroke-width="0.22">M1 9.00</text>
<line x1="609" y1="482" x2="642.5" y2="482" stroke="#1a1a1a" stroke-width="0.78"/>
<line x1="642.5" y1="482" x2="659" y2="457.5" stroke="#1a1a1a" stroke-width="0.78"/>
<path d="M616.15 485.59 L619.85 485.59M617.26 484.85 L617.26 488.55M618.18 486.52 L619.85 486.52M618.18 486.52 L618.18 488.55M618.18 488.55 L619.85 488.55M619.85 486.52 L619.85 488.55M616.15 487.07 L617.26 487.07M620.64 485.41 L624.34 485.41M622.49 484.85 L622.49 488.55M620.64 486.88 L624.34 486.88M621.01 488.55 L623.97 488.55M621.19 485.41 L621.19 486.88M623.78 485.41 L623.78 486.88M625.87 484.85 L625.87 488.55M625.13 485.96 L626.61 485.96M626.98 485.22 L628.82 485.22M626.98 485.22 L626.98 487.07M628.82 485.22 L628.82 487.07M626.98 487.07 L628.82 487.07M626.79 488.55 L628.82 488.55M627.9 487.07 L627.9 488.55M629.62 485.78 L633.31 485.78M630.54 484.85 L630.54 486.7M632.39 484.85 L632.39 486.7M629.99 486.7 L632.94 486.7M629.99 486.7 L629.99 488.55M632.94 486.7 L632.94 488.55M629.99 488.55 L632.94 488.55M629.99 487.62 L632.94 487.62" fill="none" stroke="#1a1a1a" stroke-width="0.55"/>
<line x1="658.6" y1="459" x2="658.3" y2="487.5" stroke="#1a1a1a" stroke-width="0.9" stroke-dasharray="3 1.5"/>
<line x1="689.2" y1="457.5" x2="689.2" y2="487.5" stroke="#1a1a1a" stroke-width="0.9" stroke-dasharray="3 1.5"/>
<line x1="651.7" y1="489" x2="651.7" y2="521" stroke="#1a1a1a" stroke-width="0.9"/>
<line x1="660" y1="489" x2="660" y2="510" stroke="#1a1a1a" stroke-width="0.9"/>
<line x1="689.2" y1="489" x2="689.2" y2="521" stroke="#1a1a1a" stroke-width="0.9"/>
<line x1="648" y1="510" x2="689.2" y2="510" stroke="#1a1a1a" stroke-width="0.78"/>
<line x1="651.7" y1="520.8" x2="689.2" y2="520.8" stroke="#1a1a1a" stroke-width="0.78"/>
<path d="M649.4 501.4 L649.4 502.52M647.8 502.52 L651 502.52M649.4 502.52 L647.8 504.6M649.4 502.52 L651 504.6M648.44 503.64 L650.36 503.64M651.5 502.04 L654.7 502.04M652.46 501.4 L652.46 504.6M653.26 502.84 L654.7 502.84M653.26 502.84 L653.26 504.6M653.26 504.6 L654.7 504.6M654.7 502.84 L654.7 504.6M651.5 503.32 L652.46 503.32M655.2 501.4 L658.4 501.4 L658.4 504.6 L655.2 504.6 L655.2 501.4M655.2 503 L658.4 503M656.8 501.4 L656.8 504.6" fill="none" stroke="#1a1a1a" stroke-width="0.5"/>
<path d="M669.49 501.32 L669.49 504.68M668.82 502.33 L670.16 502.33M670.5 501.66 L672.18 501.66M670.5 501.66 L670.5 503.34M672.18 501.66 L672.18 503.34M670.5 503.34 L672.18 503.34M670.33 504.68 L672.18 504.68M671.34 503.34 L671.34 504.68M672.82 502.16 L676.18 502.16M673.66 501.32 L673.66 503M675.34 501.32 L675.34 503M673.16 503 L675.84 503M673.16 503 L673.16 504.68M675.84 503 L675.84 504.68M673.16 504.68 L675.84 504.68M673.16 503.84 L675.84 503.84M678.5 501.32 L678.5 502.5M676.82 502.5 L680.18 502.5M678.5 502.5 L676.82 504.68M678.5 502.5 L680.18 504.68M677.49 503.67 L679.51 503.67" fill="none" stroke="#1a1a1a" stroke-width="0.5"/>
<text x="648" y="508.55" font-size="3.2" letter-spacing="0.3" stroke="#1a1a1a" stroke-width="0.22">1.60</text>
<text x="669.5" y="508.62" font-size="3.4" letter-spacing="0.4" stroke="#1a1a1a" stroke-width="0.22">5.40</text>
<text x="665.5" y="518.3" font-size="3.6" letter-spacing="0.5" stroke="#1a1a1a" stroke-width="0.22">7.00</text>
<text x="141.7" y="317.66" font-size="4.6" stroke="#1a1a1a" stroke-width="0.22" textLength="16.6" lengthAdjust="spacing">-6.60</text>
<text x="167" y="316.26" font-size="4.6" stroke="#1a1a1a" stroke-width="0.22">L</text>
<path d="M170.55 312.75 L174.25 312.75 L174.25 316.45 L170.55 316.45 L170.55 312.75M170.55 314.6 L174.25 314.6M172.4 312.75 L172.4 316.45M175.04 313.68 L178.74 313.68M175.96 312.75 L175.96 314.6M177.81 312.75 L177.81 314.6M175.41 314.6 L178.37 314.6M175.41 314.6 L175.41 316.45M178.37 314.6 L178.37 316.45M175.41 316.45 L178.37 316.45M175.41 315.52 L178.37 315.52M181.38 312.75 L181.38 314.05M179.53 314.05 L183.22 314.05M181.38 314.05 L179.53 316.45M181.38 314.05 L183.22 316.45M180.27 315.34 L182.48 315.34" fill="none" stroke="#1a1a1a" stroke-width="0.55"/>
<line x1="166" y1="317.3" x2="200" y2="317.3" stroke="#1a1a1a" stroke-width="0.9"/>
<text x="166.5" y="323.8" font-size="5" stroke="#1a1a1a" stroke-width="0.22" textLength="20.4" lengthAdjust="spacing">H=1.25</text>
<path d="M132.37 334.45 L136.23 334.45M132.37 335.61 L136.23 335.61M132.37 336.77 L136.23 336.77M132.37 337.93 L136.23 337.93M134.3 334.45 L134.3 337.93M132.37 334.45 L132.37 336.77M136.23 334.45 L136.23 336.77M139.25 334.07 L139.25 335.42M137.32 335.42 L141.18 335.42M139.25 335.42 L137.32 337.93M139.25 335.42 L141.18 337.93M138.09 336.77 L140.41 336.77M142.27 334.45 L146.13 334.45M142.27 335.61 L146.13 335.61M142.27 336.77 L146.13 336.77M142.27 337.93 L146.13 337.93M144.2 334.45 L144.2 337.93M142.27 334.45 L142.27 336.77M146.13 334.45 L146.13 336.77M149.15 334.07 L149.15 335.42M147.22 335.42 L151.08 335.42M149.15 335.42 L147.22 337.93M149.15 335.42 L151.08 337.93M147.99 336.77 L150.31 336.77M152.94 334.07 L152.94 336.39M155.26 334.07 L155.26 336.39 L153.71 337.93M157.12 335.23 L160.98 335.23M158.86 334.07 L158.86 336.39 L157.89 337.93M160.02 335.23 L160.02 336.39M162.45 334.45 L163.23 335.23M162.07 335.81 L162.84 336.39M162.84 337.93 L165.93 335.03M168.18 334.07 L167.4 335.61M168.18 334.65 L170.69 334.65 L168.95 337.93" fill="none" stroke="#1a1a1a" stroke-width="0.6"/>
<text x="172" y="337.73" font-size="4.8" letter-spacing="0.8" stroke="#1a1a1a" stroke-width="0.22">H=1.8</text>
<line x1="130" y1="339.3" x2="200" y2="339.3" stroke="#1a1a1a" stroke-width="1.01"/>
<path d="M144.44 343.15 L143.33 344.26 L143.33 345.74 L144.44 346.85M146.15 343.89 L149.85 343.89M147.26 343.15 L147.26 346.85M148.18 344.82 L149.85 344.82M148.18 344.82 L148.18 346.85M148.18 346.85 L149.85 346.85M149.85 344.82 L149.85 346.85M146.15 345.37 L147.26 345.37M152.3 343.15 L152.3 344.45M150.45 344.45 L154.15 344.45M152.3 344.45 L150.45 346.85M152.3 344.45 L154.15 346.85M151.19 345.74 L153.41 345.74M154.75 343.15 L158.45 343.15 L158.45 346.85 L154.75 346.85 L154.75 343.15M154.75 345 L158.45 345M156.6 343.15 L156.6 346.85M159.05 343.15 L162.75 343.15 L162.75 346.85 L159.05 346.85 L159.05 343.15M159.05 345 L162.75 345M160.9 343.15 L160.9 346.85M163.91 343.15 L163.91 346.85M163.91 343.34 L165.2 343.34M165.2 343.34 L165.2 345M163.91 345 L165.2 345M165.57 343.89 L167.05 343.89M166.31 343.15 L166.31 346.85M165.57 345.37 L167.05 345.37M168.76 343.15 L169.87 344.26 L169.87 345.74 L168.76 346.85" fill="none" stroke="#1a1a1a" stroke-width="0.55"/>
<text x="191.5" y="304.08" font-size="3" text-anchor="middle" letter-spacing="0.2" transform="rotate(-90 191.5 303)" stroke="#1a1a1a" stroke-width="0.22">3.37</text>
<text x="154" y="227.85" font-size="3.2" letter-spacing="0.2" stroke="#1a1a1a" stroke-width="0.22">81</text>
<text x="154" y="373.65" font-size="3.2" letter-spacing="0.2" stroke="#1a1a1a" stroke-width="0.22">81</text>
<path d="M217.38 297.79 L221.42 297.79M218.59 296.98 L218.59 301.02M219.6 298.8 L221.42 298.8M219.6 298.8 L219.6 301.02M219.6 301.02 L221.42 301.02M221.42 298.8 L221.42 301.02M217.38 299.4 L218.59 299.4M222.38 297.99 L226.42 297.99M223.39 296.98 L223.39 299M225.41 296.98 L225.41 299M222.79 299 L226.01 299M222.79 299 L222.79 301.02M226.01 299 L226.01 301.02M222.79 301.02 L226.01 301.02M222.79 300.01 L226.01 300.01M227.38 297.79 L231.42 297.79M228.59 296.98 L228.59 301.02M229.6 298.8 L231.42 298.8M229.6 298.8 L229.6 301.02M229.6 301.02 L231.42 301.02M231.42 298.8 L231.42 301.02M227.38 299.4 L228.59 299.4" fill="none" stroke="#1a1a1a" stroke-width="0.72"/>
<text x="208.3" y="309.18" font-size="4.4" stroke="#1a1a1a" stroke-width="0.22" textLength="30.9" lengthAdjust="spacing">64.07×8.10</text>
<path d="M208.87 315.63 L212.73 315.63M209.83 314.67 L209.83 316.6M211.77 314.67 L211.77 316.6M209.25 316.6 L212.35 316.6M209.25 316.6 L209.25 318.53M212.35 316.6 L212.35 318.53M209.25 318.53 L212.35 318.53M209.25 317.57 L212.35 317.57M215.6 314.67 L215.6 316.02M213.67 316.02 L217.53 316.02M215.6 316.02 L213.67 318.53M215.6 316.02 L217.53 318.53M214.44 317.37 L216.76 317.37M218.47 315.44 L222.33 315.44M219.63 314.67 L219.63 318.53M220.59 316.41 L222.33 316.41M220.59 316.41 L220.59 318.53M220.59 318.53 L222.33 318.53M222.33 316.41 L222.33 318.53M218.47 316.99 L219.63 316.99M225.2 314.67 L225.2 316.02M223.27 316.02 L227.13 316.02M225.2 316.02 L223.27 318.53M225.2 316.02 L227.13 318.53M224.04 317.37 L226.36 317.37" fill="none" stroke="#1a1a1a" stroke-width="0.7"/>
<text x="229.5" y="318.26" font-size="4.6" stroke="#1a1a1a" stroke-width="0.22" textLength="13.8" lengthAdjust="spacing">492m</text>
<text x="214.2" y="337.73" font-size="4.8" stroke="#1a1a1a" stroke-width="0.22" textLength="20" lengthAdjust="spacing">EL8.10</text>
<path d="M258.95 294.71 L258.95 296.03M257.06 296.03 L260.84 296.03M258.95 296.03 L257.06 298.49M258.95 296.03 L260.84 298.49M257.82 297.36 L260.08 297.36M262.18 294.71 L262.18 298.49M262.18 294.9 L263.5 294.9M263.5 294.9 L263.5 296.6M262.18 296.6 L263.5 296.6M263.88 295.47 L265.39 295.47M264.63 294.71 L264.63 298.49M263.88 296.98 L265.39 296.98M266.16 294.71 L269.94 294.71 L269.94 298.49 L266.16 298.49 L266.16 294.71M266.16 296.6 L269.94 296.6M268.05 294.71 L268.05 298.49M271.28 294.71 L271.28 298.49M271.28 294.9 L272.6 294.9M272.6 294.9 L272.6 296.6M271.28 296.6 L272.6 296.6M272.98 295.47 L274.49 295.47M273.73 294.71 L273.73 298.49M272.98 296.98 L274.49 296.98M275.26 295.47 L279.04 295.47M276.39 294.71 L276.39 298.49M277.34 296.41 L279.04 296.41M277.34 296.41 L277.34 298.49M277.34 298.49 L279.04 298.49M279.04 296.41 L279.04 298.49M275.26 296.98 L276.39 296.98M280.19 295.84 L281.32 295.47 L280.94 298.11 L282.08 296.6 L283.4 296.41 L283.21 298.11M285.12 294.71 L285.12 298.49M284.36 295.84 L285.87 295.84M286.25 295.09 L288.14 295.09M286.25 295.09 L286.25 296.98M288.14 295.09 L288.14 296.98M286.25 296.98 L288.14 296.98M286.06 298.49 L288.14 298.49M287.2 296.98 L287.2 298.49M288.91 295.47 L292.69 295.47M290.04 294.71 L290.04 298.49M290.99 296.41 L292.69 296.41M290.99 296.41 L290.99 298.49M290.99 298.49 L292.69 298.49M292.69 296.41 L292.69 298.49M288.91 296.98 L290.04 296.98" fill="none" stroke="#1a1a1a" stroke-width="0.65"/>
<line x1="250.3" y1="299.3" x2="297" y2="299.3" stroke="#1a1a1a" stroke-width="0.9"/>
<path d="M343.95 297.11 L343.95 298.43M342.06 298.43 L345.84 298.43M343.95 298.43 L342.06 300.89M343.95 298.43 L345.84 300.89M342.82 299.76 L345.08 299.76M346.65 298.06 L350.43 298.06M347.59 297.11 L347.59 299M349.48 297.11 L349.48 299M347.03 299 L350.05 299M347.03 299 L347.03 300.89M350.05 299 L350.05 300.89M347.03 300.89 L350.05 300.89M347.03 299.94 L350.05 299.94" fill="none" stroke="#1a1a1a" stroke-width="0.68"/>
<path d="M355.44 297.15 L354.33 298.26 L354.33 299.74 L355.44 300.85M357.25 297.89 L360.95 297.89M358.36 297.15 L358.36 300.85M359.28 298.82 L360.95 298.82M359.28 298.82 L359.28 300.85M359.28 300.85 L360.95 300.85M360.95 298.82 L360.95 300.85M357.25 299.37 L358.36 299.37M361.65 297.52 L365.35 297.52M361.65 298.63 L365.35 298.63M361.65 299.74 L365.35 299.74M361.65 300.85 L365.35 300.85M363.5 297.52 L363.5 300.85M361.65 297.52 L361.65 299.74M365.35 297.52 L365.35 299.74M366.05 297.89 L369.75 297.89M366.42 299 L369.38 299M367.9 299 L367.16 300.85M370.45 298.26 L374.15 298.26M372.12 297.15 L372.12 299.37 L371.19 300.85M373.22 298.26 L373.22 299.37M374.85 298.26 L378.55 298.26M376.52 297.15 L376.52 299.37 L375.59 300.85M377.62 298.26 L377.62 299.37M379.25 299 L382.95 299M384.76 297.15 L385.87 298.26 L385.87 299.74 L384.76 300.85" fill="none" stroke="#1a1a1a" stroke-width="0.65"/>
<path d="M467.81 297.24 L466.75 298.29 L466.75 299.71 L467.81 300.76M468.34 297.59 L471.86 297.59M468.34 298.65 L471.86 298.65M468.34 299.71 L471.86 299.71M468.34 300.76 L471.86 300.76M470.1 297.59 L470.1 300.76M468.34 297.59 L468.34 299.71M471.86 297.59 L471.86 299.71M472.39 297.24 L473.45 298.29 L473.45 299.71 L472.39 300.76" fill="none" stroke="#1a1a1a" stroke-width="0.5"/>
<text x="485" y="300.73" font-size="4.8" stroke="#1a1a1a" stroke-width="0.22" textLength="21.5" lengthAdjust="spacing">EL9.39</text>
<path d="M532.63 297.11 L532.63 300.89M532.63 297.3 L533.95 297.3M533.95 297.3 L533.95 299M532.63 299 L533.95 299M534.33 297.87 L535.84 297.87M535.08 297.11 L535.08 300.89M534.33 299.38 L535.84 299.38M536.65 297.68 L540.43 297.68M538.54 297.11 L538.54 300.89M536.65 299.19 L540.43 299.19M537.03 300.89 L540.05 300.89M537.22 297.68 L537.22 299.19M539.86 297.68 L539.86 299.19" fill="none" stroke="#1a1a1a" stroke-width="0.68"/>
<path d="M546.44 297.15 L545.33 298.26 L545.33 299.74 L546.44 300.85" fill="none" stroke="#1a1a1a" stroke-width="0.5"/>
<text x="546.5" y="300.66" font-size="4.6" letter-spacing="0.2" stroke="#1a1a1a" stroke-width="0.22">As</text>
<path d="M553.85 297.71 L557.55 297.71M555.7 297.15 L555.7 300.85M553.85 299.18 L557.55 299.18M554.22 300.85 L557.18 300.85M554.41 297.71 L554.41 299.18M556.99 297.71 L556.99 299.18M558.25 297.52 L561.95 297.52M558.25 298.63 L561.95 298.63M558.25 299.74 L561.95 299.74M558.25 300.85 L561.95 300.85M560.1 297.52 L560.1 300.85M558.25 297.52 L558.25 299.74M561.95 297.52 L561.95 299.74M563.76 297.15 L564.87 298.26 L564.87 299.74 L563.76 300.85" fill="none" stroke="#1a1a1a" stroke-width="0.55"/>
<path d="M522.09 264.59 L525.11 264.59M523 263.99 L523 267.01M523.75 265.35 L525.11 265.35M523.75 265.35 L523.75 267.01M523.75 267.01 L525.11 267.01M525.11 265.35 L525.11 267.01M522.09 265.8 L523 265.8M525.69 264.74 L528.71 264.74M526.44 263.99 L526.44 265.5M527.96 263.99 L527.96 265.5M525.99 265.5 L528.41 265.5M525.99 265.5 L525.99 267.01M528.41 265.5 L528.41 267.01M525.99 267.01 L528.41 267.01M525.99 266.26 L528.41 266.26M529.74 263.99 L529.74 267.01M529.74 264.14 L530.8 264.14M530.8 264.14 L530.8 265.5M529.74 265.5 L530.8 265.5M531.1 264.59 L532.31 264.59M531.71 263.99 L531.71 267.01M531.1 265.8 L532.31 265.8M533.34 263.99 L533.34 267.01M533.34 264.14 L534.4 264.14M534.4 264.14 L534.4 265.5M533.34 265.5 L534.4 265.5M534.7 264.59 L535.91 264.59M535.31 263.99 L535.31 267.01M534.7 265.8 L535.91 265.8M538 263.99 L538 265.05M536.49 265.05 L539.51 265.05M538 265.05 L536.49 267.01M538 265.05 L539.51 267.01M537.09 266.1 L538.91 266.1M540.09 264.29 L543.11 264.29M540.09 265.2 L543.11 265.2M540.09 266.1 L543.11 266.1M540.09 267.01 L543.11 267.01M541.6 264.29 L541.6 267.01M540.09 264.29 L540.09 266.1M543.11 264.29 L543.11 266.1M543.69 264.59 L546.71 264.59M544.6 263.99 L544.6 267.01M545.35 265.35 L546.71 265.35M545.35 265.35 L545.35 267.01M545.35 267.01 L546.71 267.01M546.71 265.35 L546.71 267.01M543.69 265.8 L544.6 265.8" fill="none" stroke="#1a1a1a" stroke-width="0.55" transform="rotate(90 521.8 265.5)"/>
<text x="185.5" y="137.93" font-size="4.8" letter-spacing="1" stroke="#1a1a1a" stroke-width="0.22">9.10-</text>
<path d="M209.4 134.73 L213.18 134.73 L213.18 138.3M209.4 138.3 L213.18 138.3M215.57 134.1 L215.57 138.3M215.57 135.78 L217.88 136.83M218.8 135.36 L223 135.36M220.69 134.1 L220.69 136.62 L219.64 138.3M221.95 135.36 L221.95 136.62M223.5 135.36 L227.7 135.36M225.39 134.1 L225.39 136.62 L224.34 138.3M226.65 135.36 L226.65 136.62M228.2 136.2 L232.4 136.2M232.9 134.94 L237.1 134.94M233.32 136.2 L236.68 136.2M235 136.2 L234.16 138.3" fill="none" stroke="#1a1a1a" stroke-width="0.7"/>
<path d="M238.53 134.1 L238.53 138.3M238.53 134.31 L240 134.31M240 134.31 L240 136.2M238.53 136.2 L240 136.2M240.42 134.94 L242.1 134.94M241.26 134.1 L241.26 138.3M240.42 136.62 L242.1 136.62M242.6 134.1 L246.8 134.1 L246.8 138.3 L242.6 138.3 L242.6 134.1M242.6 136.2 L246.8 136.2M244.7 134.1 L244.7 138.3M247.3 135.15 L251.5 135.15M248.35 134.1 L248.35 136.2M250.45 134.1 L250.45 136.2M247.72 136.2 L251.08 136.2M247.72 136.2 L247.72 138.3M251.08 136.2 L251.08 138.3M247.72 138.3 L251.08 138.3M247.72 137.25 L251.08 137.25M252 134.94 L256.2 134.94M253.26 134.1 L253.26 138.3M254.31 135.99 L256.2 135.99M254.31 135.99 L254.31 138.3M254.31 138.3 L256.2 138.3M256.2 135.99 L256.2 138.3M252 136.62 L253.26 136.62M256.7 134.73 L260.9 134.73M258.8 134.1 L258.8 138.3M256.7 136.41 L260.9 136.41M257.12 138.3 L260.48 138.3M257.33 134.73 L257.33 136.41M260.27 134.73 L260.27 136.41" fill="none" stroke="#1a1a1a" stroke-width="0.7"/>
<text x="262" y="138.03" font-size="4.8" letter-spacing="0.5" stroke="#1a1a1a" stroke-width="0.22">H=0.6</text>
<line x1="207.5" y1="139.6" x2="281" y2="139.6" stroke="#1a1a1a" stroke-width="0.78"/>
<line x1="207.5" y1="140" x2="198.3" y2="151.7" stroke="#1a1a1a" stroke-width="0.78"/>
<circle cx="204.6" cy="150.5" r="2.6" fill="none" stroke="#1a1a1a" stroke-width="0.7"/>
<text x="204.6" y="151.72" font-size="3.4" text-anchor="middle" stroke="#1a1a1a" stroke-width="0.22">1</text>
<text x="220" y="154.3" font-size="3.6" letter-spacing="0.5" stroke="#1a1a1a" stroke-width="0.22">6.65</text>
<text x="399" y="154.5" font-size="3.6" letter-spacing="0.5" stroke="#1a1a1a" stroke-width="0.22">34.53</text>
<text x="315" y="157.9" font-size="3.6" letter-spacing="0.2" font-weight="bold" stroke="#1a1a1a" stroke-width="0.22">08C</text>
<text x="333.3" y="140.4" font-size="5" stroke="#1a1a1a" stroke-width="0.22" textLength="35" lengthAdjust="spacing">VS300×500</text>
<line x1="330.8" y1="140.8" x2="369" y2="140.8" stroke="#1a1a1a" stroke-width="0.78"/>
<line x1="330.8" y1="140.8" x2="330.8" y2="154.5" stroke="#1a1a1a" stroke-width="0.9"/>
<path d="M341.14 142.87 L341.14 146.73M340.37 144.03 L341.91 144.03M342.3 143.25 L344.23 143.25M342.3 143.25 L342.3 145.19M344.23 143.25 L344.23 145.19M342.3 145.19 L344.23 145.19M342.11 146.73 L344.23 146.73M343.27 145.19 L343.27 146.73M345.06 143.64 L348.92 143.64M346.22 142.87 L346.22 146.73M347.19 144.61 L348.92 144.61M347.19 144.61 L347.19 146.73M347.19 146.73 L348.92 146.73M348.92 144.61 L348.92 146.73M345.06 145.19 L346.22 145.19" fill="none" stroke="#1a1a1a" stroke-width="0.6"/>
<text x="351" y="146.6" font-size="5" letter-spacing="1.1" stroke="#1a1a1a" stroke-width="0.22">0.2%</text>
<text x="381.5" y="140.33" font-size="4.8" letter-spacing="0.3" stroke="#1a1a1a" stroke-width="0.22">10m</text>
<path d="M392.85 136.75 L396.55 136.75 L396.55 140.45 L392.85 140.45 L392.85 136.75M392.85 138.6 L396.55 138.6M394.7 136.75 L394.7 140.45M398.26 137.12 L399.56 137.49 L398.08 138.97 L399.93 138.42 L400.48 139.52 L399.56 140.45 L398.63 140.26" fill="none" stroke="#1a1a1a" stroke-width="0.55"/>
<text x="402" y="140.33" font-size="4.8" stroke="#1a1a1a" stroke-width="0.22">1</text>
<path d="M405.35 137.31 L409.05 137.31M407.38 137.31 L407.38 138.78 L406.09 140.45M409.84 136.75 L413.54 136.75 L413.54 140.45 L409.84 140.45 L409.84 136.75M409.84 138.6 L413.54 138.6M411.69 136.75 L411.69 140.45" fill="none" stroke="#1a1a1a" stroke-width="0.55"/>
<path d="M382.22 143.12 L382.96 143.86M381.85 144.42 L382.59 144.97M382.59 146.45 L385.55 143.68M386.99 142.75 L386.99 144.97M389.21 142.75 L389.21 144.97 L387.73 146.45M390.65 144.6 L394.35 144.6M396.35 142.75 L396.35 146.45M396.35 144.23 L398.38 145.15M399.45 143.31 L403.15 143.31M401.48 143.31 L401.48 144.78 L400.19 146.45M403.85 143.31 L407.18 143.31 L407.18 146.45M403.85 146.45 L407.18 146.45M408.25 143.31 L411.95 143.31M410.1 142.75 L410.1 146.45M408.25 144.78 L411.95 144.78M408.62 146.45 L411.58 146.45M408.81 143.31 L408.81 144.78M411.39 143.31 L411.39 144.78M413.39 143.12 L413.39 146.08M414.5 143.49 L415.98 143.49M414.5 145.71 L416.16 145.71" fill="none" stroke="#1a1a1a" stroke-width="0.55"/>
<path d="M382.22 149.26 L383.33 148.89 L382.96 151.48 L384.07 150 L385.36 149.82 L385.18 151.48M386.71 149.26 L387.82 148.89 L387.45 151.48 L388.56 150 L389.85 149.82 L389.67 151.48" fill="none" stroke="#1a1a1a" stroke-width="0.55"/>
<text x="391" y="152.8" font-size="5" letter-spacing="0.5" stroke="#1a1a1a" stroke-width="0.22">.</text>
<line x1="175.8" y1="150" x2="197" y2="150" stroke="#1a1a1a" stroke-width="0.78"/>
<line x1="175.8" y1="155.6" x2="197" y2="155.6" stroke="#1a1a1a" stroke-width="0.78"/>
<line x1="175.8" y1="159.2" x2="193" y2="159.2" stroke="#1a1a1a" stroke-width="0.78"/>
<path d="M178.46 150.95 L177.72 152.43M178.46 151.51 L180.86 151.51 L179.2 154.65M181.95 151.32 L185.65 151.32M181.95 152.43 L185.65 152.43M181.95 153.54 L185.65 153.54M181.95 154.65 L185.65 154.65M183.8 151.32 L183.8 154.65M181.95 151.32 L181.95 153.54M185.65 151.32 L185.65 153.54M186.55 151.51 L190.25 151.51M188.58 151.51 L188.58 152.98 L187.29 154.65M191.15 151.69 L194.85 151.69M192.26 150.95 L192.26 154.65M193.18 152.62 L194.85 152.62M193.18 152.62 L193.18 154.65M193.18 154.65 L194.85 154.65M194.85 152.62 L194.85 154.65M191.15 153.17 L192.26 153.17" fill="none" stroke="#1a1a1a" stroke-width="0.9"/>
<line x1="192" y1="150" x2="200" y2="157.6" stroke="#1a1a1a" stroke-width="1.01"/>
<line x1="192" y1="157" x2="199" y2="151" stroke="#1a1a1a" stroke-width="0.78"/>
<text x="202" y="161.46" font-size="2.4" stroke="#1a1a1a" stroke-width="0.22">01</text>
<text x="242.5" y="161.46" font-size="2.4" stroke="#1a1a1a" stroke-width="0.22">K12</text>
<circle cx="256.7" cy="164.2" r="2.6" fill="none" stroke="#1a1a1a" stroke-width="0.7"/>
<text x="256.7" y="165.42" font-size="3.4" text-anchor="middle" stroke="#1a1a1a" stroke-width="0.22">8</text>
<text x="270.8" y="165.86" font-size="4.6" stroke="#1a1a1a" stroke-width="0.22" textLength="16.7" lengthAdjust="spacing">V2000</text>
<path d="M262.37 167.75 L266.23 167.75M262.37 168.91 L266.23 168.91M262.37 170.07 L266.23 170.07M262.37 171.23 L266.23 171.23M264.3 167.75 L264.3 171.23M262.37 167.75 L262.37 170.07M266.23 167.75 L266.23 170.07M269.05 167.37 L269.05 168.72M267.12 168.72 L270.98 168.72M269.05 168.72 L267.12 171.23M269.05 168.72 L270.98 171.23M267.89 170.07 L270.21 170.07M271.87 167.37 L275.73 167.37 L275.73 171.23 L271.87 171.23 L271.87 167.37M271.87 169.3 L275.73 169.3M273.8 167.37 L273.8 171.23M277.39 167.37 L277.39 171.23M276.62 168.53 L278.16 168.53M278.55 167.75 L280.48 167.75M278.55 167.75 L278.55 169.69M280.48 167.75 L280.48 169.69M278.55 169.69 L280.48 169.69M278.36 171.23 L280.48 171.23M279.52 169.69 L279.52 171.23M281.37 167.95 L285.23 167.95M283.3 167.37 L283.3 171.23M281.37 169.49 L285.23 169.49M281.75 171.23 L284.85 171.23M281.95 167.95 L281.95 169.49M284.65 167.95 L284.65 169.49" fill="none" stroke="#1a1a1a" stroke-width="0.7"/>
<line x1="260" y1="171.8" x2="288" y2="171.8" stroke="#1a1a1a" stroke-width="0.78"/>
<path d="M252 160 Q253 170 261 171.8" fill="none" stroke="#1a1a1a" stroke-width="0.9"/>
<line x1="296.8" y1="163.3" x2="296.8" y2="170.8" stroke="#1a1a1a" stroke-width="0.9"/>
<line x1="411.3" y1="163" x2="411.3" y2="171" stroke="#1a1a1a" stroke-width="0.78"/>
<path d="M261.16 422.66 L264.94 422.66M262.11 421.71 L262.11 423.6M264 421.71 L264 423.6M261.54 423.6 L264.56 423.6M261.54 423.6 L261.54 425.49M264.56 423.6 L264.56 425.49M261.54 425.49 L264.56 425.49M261.54 424.55 L264.56 424.55M265.76 422.47 L269.54 422.47M266.89 421.71 L266.89 425.49M267.84 423.41 L269.54 423.41M267.84 423.41 L267.84 425.49M267.84 425.49 L269.54 425.49M269.54 423.41 L269.54 425.49M265.76 423.98 L266.89 423.98M270.93 421.71 L270.93 425.49M270.93 421.9 L272.25 421.9M272.25 421.9 L272.25 423.6M270.93 423.6 L272.25 423.6M272.63 422.47 L274.14 422.47M273.38 421.71 L273.38 425.49M272.63 423.98 L274.14 423.98M274.96 422.09 L278.74 422.09M274.96 423.22 L278.74 423.22M274.96 424.36 L278.74 424.36M274.96 425.49 L278.74 425.49M276.85 422.09 L276.85 425.49M274.96 422.09 L274.96 424.36M278.74 422.09 L278.74 424.36M279.56 421.71 L283.34 421.71 L283.34 425.49 L279.56 425.49 L279.56 421.71M279.56 423.6 L283.34 423.6M281.45 421.71 L281.45 425.49" fill="none" stroke="#1a1a1a" stroke-width="0.6"/>
<line x1="259" y1="425.8" x2="285" y2="425.8" stroke="#1a1a1a" stroke-width="0.78"/>
<line x1="259" y1="426.5" x2="249.7" y2="434" stroke="#1a1a1a" stroke-width="0.78"/>
<text x="264" y="431.46" font-size="4.6" stroke="#1a1a1a" stroke-width="0.22" textLength="17" lengthAdjust="spacing">V2000</text>
<circle cx="252.8" cy="437" r="2.6" fill="none" stroke="#1a1a1a" stroke-width="0.7"/>
<text x="252.8" y="438.22" font-size="3.4" text-anchor="middle" stroke="#1a1a1a" stroke-width="0.22">9</text>
<rect x="148.3" y="164.2" width="43.3" height="21.3" fill="none" stroke="#1a1a1a" stroke-width="1.15" rx="0.8"/>
<line x1="148.3" y1="171.3" x2="191.6" y2="171.3" stroke="#1a1a1a" stroke-width="0.95"/>
<line x1="148.3" y1="178.4" x2="191.6" y2="178.4" stroke="#1a1a1a" stroke-width="0.95"/>
<line x1="170.38" y1="171.3" x2="170.38" y2="185.5" stroke="#1a1a1a" stroke-width="0.9"/>
<text x="158.04" y="169.82" font-size="5.2" stroke="#1a1a1a" stroke-width="0.22" textLength="19.3" lengthAdjust="spacing">VS300</text>
<circle cx="184.24" cy="167.85" r="2.7" fill="none" stroke="#1a1a1a" stroke-width="0.7"/>
<text x="184.24" y="169.36" font-size="4.2" text-anchor="middle" stroke="#1a1a1a" stroke-width="0.22">1</text>
<path d="M151.12 172.79 L151.12 176.91M150.29 174.03 L151.94 174.03M152.35 173.2 L154.41 173.2M152.35 173.2 L152.35 175.26M154.41 173.2 L154.41 175.26M152.35 175.26 L154.41 175.26M152.14 176.91 L154.41 176.91M153.38 175.26 L153.38 176.91M154.89 172.79 L159.01 172.79 L159.01 176.91 L154.89 176.91 L154.89 172.79M154.89 174.85 L159.01 174.85M156.95 172.79 L156.95 176.91M159.49 173.82 L163.61 173.82M160.52 172.79 L160.52 174.85M162.58 172.79 L162.58 174.85M159.9 174.85 L163.2 174.85M159.9 174.85 L159.9 176.91M163.2 174.85 L163.2 176.91M159.9 176.91 L163.2 176.91M159.9 175.88 L163.2 175.88M164.09 173.62 L168.21 173.62M165.33 172.79 L165.33 176.91M166.36 174.64 L168.21 174.64M166.36 174.64 L166.36 176.91M166.36 176.91 L168.21 176.91M168.21 174.64 L168.21 176.91M164.09 175.26 L165.33 175.26" fill="none" stroke="#1a1a1a" stroke-width="0.8"/>
<path d="M150.91 179.89 L150.91 184.01M150.91 180.1 L152.35 180.1M152.35 180.1 L152.35 181.95M150.91 181.95 L152.35 181.95M152.76 180.72 L154.41 180.72M153.58 179.89 L153.58 184.01M152.76 182.36 L154.41 182.36M154.89 180.3 L159.01 180.3M154.89 181.54 L159.01 181.54M154.89 182.77 L159.01 182.77M154.89 184.01 L159.01 184.01M156.95 180.3 L156.95 184.01M154.89 180.3 L154.89 182.77M159.01 180.3 L159.01 182.77M159.49 180.3 L163.61 180.3M159.49 181.54 L163.61 181.54M159.49 182.77 L163.61 182.77M159.49 184.01 L163.61 184.01M161.55 180.3 L161.55 184.01M159.49 180.3 L159.49 182.77M163.61 180.3 L163.61 182.77M164.09 179.89 L168.21 179.89 L168.21 184.01 L164.09 184.01 L164.09 179.89M164.09 181.95 L168.21 181.95M166.15 179.89 L166.15 184.01" fill="none" stroke="#1a1a1a" stroke-width="0.8"/>
<text x="175.8" y="176.81" font-size="4.9" stroke="#1a1a1a" stroke-width="0.22" textLength="13" lengthAdjust="spacing">8.51</text>
<text x="175.8" y="183.91" font-size="4.9" stroke="#1a1a1a" stroke-width="0.22" textLength="13" lengthAdjust="spacing">8.96</text>
<rect x="254.2" y="179.2" width="43.3" height="21.3" fill="none" stroke="#1a1a1a" stroke-width="1.15" rx="0.8"/>
<line x1="254.2" y1="186.3" x2="297.5" y2="186.3" stroke="#1a1a1a" stroke-width="0.95"/>
<line x1="254.2" y1="193.4" x2="297.5" y2="193.4" stroke="#1a1a1a" stroke-width="0.95"/>
<line x1="276.28" y1="186.3" x2="276.28" y2="200.5" stroke="#1a1a1a" stroke-width="0.9"/>
<text x="263.94" y="184.82" font-size="5.2" stroke="#1a1a1a" stroke-width="0.22" textLength="19.3" lengthAdjust="spacing">VS300</text>
<circle cx="290.14" cy="182.85" r="2.7" fill="none" stroke="#1a1a1a" stroke-width="0.7"/>
<text x="290.14" y="184.36" font-size="4.2" text-anchor="middle" stroke="#1a1a1a" stroke-width="0.22">2</text>
<path d="M256.19 188.2 L260.31 188.2M256.19 189.44 L260.31 189.44M256.19 190.67 L260.31 190.67M256.19 191.91 L260.31 191.91M258.25 188.2 L258.25 191.91M256.19 188.2 L256.19 190.67M260.31 188.2 L260.31 190.67M260.79 188.82 L264.91 188.82M261.82 187.79 L261.82 189.85M263.88 187.79 L263.88 189.85M261.2 189.85 L264.5 189.85M261.2 189.85 L261.2 191.91M264.5 189.85 L264.5 191.91M261.2 191.91 L264.5 191.91M261.2 190.88 L264.5 190.88M266.01 187.79 L266.01 191.91M266.01 188 L267.45 188M267.45 188 L267.45 189.85M266.01 189.85 L267.45 189.85M267.86 188.62 L269.51 188.62M268.68 187.79 L268.68 191.91M267.86 190.26 L269.51 190.26M270.61 187.79 L270.61 191.91M270.61 188 L272.05 188M272.05 188 L272.05 189.85M270.61 189.85 L272.05 189.85M272.46 188.62 L274.11 188.62M273.28 187.79 L273.28 191.91M272.46 190.26 L274.11 190.26" fill="none" stroke="#1a1a1a" stroke-width="0.8"/>
<path d="M256.81 194.89 L256.81 199.01M256.81 195.1 L258.25 195.1M258.25 195.1 L258.25 196.95M256.81 196.95 L258.25 196.95M258.66 195.72 L260.31 195.72M259.48 194.89 L259.48 199.01M258.66 197.36 L260.31 197.36M260.79 195.51 L264.91 195.51M262.85 194.89 L262.85 199.01M260.79 197.16 L264.91 197.16M261.2 199.01 L264.5 199.01M261.41 195.51 L261.41 197.16M264.29 195.51 L264.29 197.16M267.45 194.89 L267.45 196.33M265.39 196.33 L269.51 196.33M267.45 196.33 L265.39 199.01M267.45 196.33 L269.51 199.01M266.22 197.77 L268.68 197.77M270.82 194.89 L270.82 199.01M269.99 196.13 L271.64 196.13M272.05 195.3 L274.11 195.3M272.05 195.3 L272.05 197.36M274.11 195.3 L274.11 197.36M272.05 197.36 L274.11 197.36M271.84 199.01 L274.11 199.01M273.08 197.36 L273.08 199.01" fill="none" stroke="#1a1a1a" stroke-width="0.8"/>
<text x="281.7" y="191.81" font-size="4.9" stroke="#1a1a1a" stroke-width="0.22" textLength="13" lengthAdjust="spacing">8.16</text>
<text x="281.7" y="198.91" font-size="4.9" stroke="#1a1a1a" stroke-width="0.22" textLength="13" lengthAdjust="spacing">9.39</text>
<rect x="525.3" y="171" width="43.3" height="21.3" fill="none" stroke="#1a1a1a" stroke-width="1.15" rx="0.8"/>
<line x1="525.3" y1="178.1" x2="568.6" y2="178.1" stroke="#1a1a1a" stroke-width="0.95"/>
<line x1="525.3" y1="185.2" x2="568.6" y2="185.2" stroke="#1a1a1a" stroke-width="0.95"/>
<line x1="547.38" y1="178.1" x2="547.38" y2="192.3" stroke="#1a1a1a" stroke-width="0.9"/>
<text x="535.04" y="176.62" font-size="5.2" stroke="#1a1a1a" stroke-width="0.22" textLength="19.3" lengthAdjust="spacing">VS300</text>
<circle cx="561.24" cy="174.65" r="2.7" fill="none" stroke="#1a1a1a" stroke-width="0.7"/>
<text x="561.24" y="176.16" font-size="4.2" text-anchor="middle" stroke="#1a1a1a" stroke-width="0.22">4</text>
<path d="M527.29 180.21 L531.41 180.21M529.35 179.59 L529.35 183.71M527.29 181.86 L531.41 181.86M527.7 183.71 L531 183.71M527.91 180.21 L527.91 181.86M530.79 180.21 L530.79 181.86M533.95 179.59 L533.95 181.03M531.89 181.03 L536.01 181.03M533.95 181.03 L531.89 183.71M533.95 181.03 L536.01 183.71M532.72 182.47 L535.18 182.47M536.49 179.59 L540.61 179.59 L540.61 183.71 L536.49 183.71 L536.49 179.59M536.49 181.65 L540.61 181.65M538.55 179.59 L538.55 183.71M541.92 179.59 L541.92 183.71M541.09 180.83 L542.74 180.83M543.15 180 L545.21 180M543.15 180 L543.15 182.06M545.21 180 L545.21 182.06M543.15 182.06 L545.21 182.06M542.94 183.71 L545.21 183.71M544.18 182.06 L544.18 183.71" fill="none" stroke="#1a1a1a" stroke-width="0.8"/>
<path d="M527.91 186.69 L527.91 190.81M527.91 186.9 L529.35 186.9M529.35 186.9 L529.35 188.75M527.91 188.75 L529.35 188.75M529.76 187.52 L531.41 187.52M530.58 186.69 L530.58 190.81M529.76 189.16 L531.41 189.16M531.89 187.1 L536.01 187.1M531.89 188.34 L536.01 188.34M531.89 189.57 L536.01 189.57M531.89 190.81 L536.01 190.81M533.95 187.1 L533.95 190.81M531.89 187.1 L531.89 189.57M536.01 187.1 L536.01 189.57M536.49 187.31 L540.61 187.31M538.55 186.69 L538.55 190.81M536.49 188.96 L540.61 188.96M536.9 190.81 L540.2 190.81M537.11 187.31 L537.11 188.96M539.99 187.31 L539.99 188.96M543.15 186.69 L543.15 188.13M541.09 188.13 L545.21 188.13M543.15 188.13 L541.09 190.81M543.15 188.13 L545.21 190.81M541.92 189.57 L544.38 189.57" fill="none" stroke="#1a1a1a" stroke-width="0.8"/>
<text x="552.8" y="183.61" font-size="4.9" stroke="#1a1a1a" stroke-width="0.22" textLength="13" lengthAdjust="spacing">8.46</text>
<text x="552.8" y="190.71" font-size="4.9" stroke="#1a1a1a" stroke-width="0.22" textLength="13" lengthAdjust="spacing">9.39</text>
<rect x="525" y="346.7" width="43.3" height="21.3" fill="none" stroke="#1a1a1a" stroke-width="1.15" rx="0.8"/>
<line x1="525" y1="353.8" x2="568.3" y2="353.8" stroke="#1a1a1a" stroke-width="0.95"/>
<line x1="525" y1="360.9" x2="568.3" y2="360.9" stroke="#1a1a1a" stroke-width="0.95"/>
<line x1="547.08" y1="353.8" x2="547.08" y2="368" stroke="#1a1a1a" stroke-width="0.9"/>
<text x="534.74" y="352.32" font-size="5.2" stroke="#1a1a1a" stroke-width="0.22" textLength="19.3" lengthAdjust="spacing">VS300</text>
<circle cx="560.94" cy="350.35" r="2.7" fill="none" stroke="#1a1a1a" stroke-width="0.7"/>
<text x="560.94" y="351.86" font-size="4.2" text-anchor="middle" stroke="#1a1a1a" stroke-width="0.22">6</text>
<path d="M527.61 355.29 L527.61 359.41M527.61 355.5 L529.05 355.5M529.05 355.5 L529.05 357.35M527.61 357.35 L529.05 357.35M529.46 356.12 L531.11 356.12M530.28 355.29 L530.28 359.41M529.46 357.76 L531.11 357.76M532.42 355.29 L532.42 359.41M531.59 356.53 L533.24 356.53M533.65 355.7 L535.71 355.7M533.65 355.7 L533.65 357.76M535.71 355.7 L535.71 357.76M533.65 357.76 L535.71 357.76M533.44 359.41 L535.71 359.41M534.68 357.76 L534.68 359.41M536.19 355.7 L540.31 355.7M536.19 356.94 L540.31 356.94M536.19 358.17 L540.31 358.17M536.19 359.41 L540.31 359.41M538.25 355.7 L538.25 359.41M536.19 355.7 L536.19 358.17M540.31 355.7 L540.31 358.17M540.79 355.91 L544.91 355.91M542.85 355.29 L542.85 359.41M540.79 357.56 L544.91 357.56M541.2 359.41 L544.5 359.41M541.41 355.91 L541.41 357.56M544.29 355.91 L544.29 357.56" fill="none" stroke="#1a1a1a" stroke-width="0.8"/>
<path d="M526.99 363.42 L531.11 363.42M528.02 362.39 L528.02 364.45M530.08 362.39 L530.08 364.45M527.4 364.45 L530.7 364.45M527.4 364.45 L527.4 366.51M530.7 364.45 L530.7 366.51M527.4 366.51 L530.7 366.51M527.4 365.48 L530.7 365.48M531.59 363.42 L535.71 363.42M532.62 362.39 L532.62 364.45M534.68 362.39 L534.68 364.45M532 364.45 L535.3 364.45M532 364.45 L532 366.51M535.3 364.45 L535.3 366.51M532 366.51 L535.3 366.51M532 365.48 L535.3 365.48M537.02 362.39 L537.02 366.51M536.19 363.63 L537.84 363.63M538.25 362.8 L540.31 362.8M538.25 362.8 L538.25 364.86M540.31 362.8 L540.31 364.86M538.25 364.86 L540.31 364.86M538.04 366.51 L540.31 366.51M539.28 364.86 L539.28 366.51M540.79 363.01 L544.91 363.01M542.85 362.39 L542.85 366.51M540.79 364.66 L544.91 364.66M541.2 366.51 L544.5 366.51M541.41 363.01 L541.41 364.66M544.29 363.01 L544.29 364.66" fill="none" stroke="#1a1a1a" stroke-width="0.8"/>
<text x="552.5" y="359.31" font-size="4.9" stroke="#1a1a1a" stroke-width="0.22" textLength="13" lengthAdjust="spacing">8.38</text>
<text x="552.5" y="366.41" font-size="4.9" stroke="#1a1a1a" stroke-width="0.22" textLength="13" lengthAdjust="spacing">9.39</text>
<rect x="252.5" y="392.6" width="43.3" height="21.3" fill="none" stroke="#1a1a1a" stroke-width="1.15" rx="0.8"/>
<line x1="252.5" y1="399.7" x2="295.8" y2="399.7" stroke="#1a1a1a" stroke-width="0.95"/>
<line x1="252.5" y1="406.8" x2="295.8" y2="406.8" stroke="#1a1a1a" stroke-width="0.95"/>
<line x1="274.58" y1="399.7" x2="274.58" y2="413.9" stroke="#1a1a1a" stroke-width="0.9"/>
<text x="262.24" y="398.22" font-size="5.2" stroke="#1a1a1a" stroke-width="0.22" textLength="19.3" lengthAdjust="spacing">VS300</text>
<circle cx="288.44" cy="396.25" r="2.7" fill="none" stroke="#1a1a1a" stroke-width="0.7"/>
<text x="288.44" y="397.76" font-size="4.2" text-anchor="middle" stroke="#1a1a1a" stroke-width="0.22">8</text>
<path d="M254.49 401.6 L258.61 401.6M254.49 402.84 L258.61 402.84M254.49 404.07 L258.61 404.07M254.49 405.31 L258.61 405.31M256.55 401.6 L256.55 405.31M254.49 401.6 L254.49 404.07M258.61 401.6 L258.61 404.07M261.15 401.19 L261.15 402.63M259.09 402.63 L263.21 402.63M261.15 402.63 L259.09 405.31M261.15 402.63 L263.21 405.31M259.92 404.07 L262.38 404.07M264.31 401.19 L264.31 405.31M264.31 401.4 L265.75 401.4M265.75 401.4 L265.75 403.25M264.31 403.25 L265.75 403.25M266.16 402.02 L267.81 402.02M266.98 401.19 L266.98 405.31M266.16 403.66 L267.81 403.66M270.35 401.19 L270.35 402.63M268.29 402.63 L272.41 402.63M270.35 402.63 L268.29 405.31M270.35 402.63 L272.41 405.31M269.12 404.07 L271.58 404.07" fill="none" stroke="#1a1a1a" stroke-width="0.8"/>
<path d="M254.49 408.91 L258.61 408.91M256.55 408.29 L256.55 412.41M254.49 410.56 L258.61 410.56M254.9 412.41 L258.2 412.41M255.11 408.91 L255.11 410.56M257.99 408.91 L257.99 410.56M259.71 408.29 L259.71 412.41M259.71 408.5 L261.15 408.5M261.15 408.5 L261.15 410.35M259.71 410.35 L261.15 410.35M261.56 409.12 L263.21 409.12M262.38 408.29 L262.38 412.41M261.56 410.76 L263.21 410.76M264.52 408.29 L264.52 412.41M263.69 409.53 L265.34 409.53M265.75 408.7 L267.81 408.7M265.75 408.7 L265.75 410.76M267.81 408.7 L267.81 410.76M265.75 410.76 L267.81 410.76M265.54 412.41 L267.81 412.41M266.78 410.76 L266.78 412.41M268.29 409.12 L272.41 409.12M269.53 408.29 L269.53 412.41M270.56 410.14 L272.41 410.14M270.56 410.14 L270.56 412.41M270.56 412.41 L272.41 412.41M272.41 410.14 L272.41 412.41M268.29 410.76 L269.53 410.76" fill="none" stroke="#1a1a1a" stroke-width="0.8"/>
<text x="280" y="405.21" font-size="4.9" stroke="#1a1a1a" stroke-width="0.22" textLength="13" lengthAdjust="spacing">8.27</text>
<text x="280" y="412.31" font-size="4.9" stroke="#1a1a1a" stroke-width="0.22" textLength="13" lengthAdjust="spacing">9.39</text>
<rect x="150.7" y="478.2" width="43.3" height="21.3" fill="none" stroke="#1a1a1a" stroke-width="1.15" rx="0.8"/>
<line x1="150.7" y1="485.3" x2="194" y2="485.3" stroke="#1a1a1a" stroke-width="0.95"/>
<line x1="150.7" y1="492.4" x2="194" y2="492.4" stroke="#1a1a1a" stroke-width="0.95"/>
<line x1="172.78" y1="485.3" x2="172.78" y2="499.5" stroke="#1a1a1a" stroke-width="0.9"/>
<text x="160.44" y="483.82" font-size="5.2" stroke="#1a1a1a" stroke-width="0.22" textLength="22.5" lengthAdjust="spacing">BFB600</text>
<circle cx="186.64" cy="481.85" r="2.7" fill="none" stroke="#1a1a1a" stroke-width="0.7"/>
<text x="186.64" y="483.36" font-size="4.2" text-anchor="middle" stroke="#1a1a1a" stroke-width="0.22">10</text>
<path d="M152.69 487.62 L156.81 487.62M153.93 486.79 L153.93 490.91M154.96 488.64 L156.81 488.64M154.96 488.64 L154.96 490.91M154.96 490.91 L156.81 490.91M156.81 488.64 L156.81 490.91M152.69 489.26 L153.93 489.26M157.29 487.41 L161.41 487.41M159.35 486.79 L159.35 490.91M157.29 489.06 L161.41 489.06M157.7 490.91 L161 490.91M157.91 487.41 L157.91 489.06M160.79 487.41 L160.79 489.06M162.72 486.79 L162.72 490.91M161.89 488.03 L163.54 488.03M163.95 487.2 L166.01 487.2M163.95 487.2 L163.95 489.26M166.01 487.2 L166.01 489.26M163.95 489.26 L166.01 489.26M163.74 490.91 L166.01 490.91M164.98 489.26 L164.98 490.91M166.49 487.41 L170.61 487.41M168.55 486.79 L168.55 490.91M166.49 489.06 L170.61 489.06M166.9 490.91 L170.2 490.91M167.11 487.41 L167.11 489.06M169.99 487.41 L169.99 489.06" fill="none" stroke="#1a1a1a" stroke-width="0.8"/>
<path d="M152.69 494.51 L156.81 494.51M154.75 493.89 L154.75 498.01M152.69 496.16 L156.81 496.16M153.1 498.01 L156.4 498.01M153.31 494.51 L153.31 496.16M156.19 494.51 L156.19 496.16M157.91 493.89 L157.91 498.01M157.91 494.1 L159.35 494.1M159.35 494.1 L159.35 495.95M157.91 495.95 L159.35 495.95M159.76 494.72 L161.41 494.72M160.58 493.89 L160.58 498.01M159.76 496.36 L161.41 496.36M161.89 494.72 L166.01 494.72M163.13 493.89 L163.13 498.01M164.16 495.74 L166.01 495.74M164.16 495.74 L164.16 498.01M164.16 498.01 L166.01 498.01M166.01 495.74 L166.01 498.01M161.89 496.36 L163.13 496.36M167.11 493.89 L167.11 498.01M167.11 494.1 L168.55 494.1M168.55 494.1 L168.55 495.95M167.11 495.95 L168.55 495.95M168.96 494.72 L170.61 494.72M169.78 493.89 L169.78 498.01M168.96 496.36 L170.61 496.36" fill="none" stroke="#1a1a1a" stroke-width="0.8"/>
<text x="178.2" y="490.81" font-size="4.9" stroke="#1a1a1a" stroke-width="0.22" textLength="13" lengthAdjust="spacing">7.90</text>
<text x="178.2" y="497.91" font-size="4.9" stroke="#1a1a1a" stroke-width="0.22" textLength="13" lengthAdjust="spacing">8.50</text>
<rect x="724.03" y="168.9" width="43.3" height="21.3" fill="none" stroke="#1a1a1a" stroke-width="1.15" rx="0.8"/>
<line x1="724.03" y1="176" x2="767.33" y2="176" stroke="#1a1a1a" stroke-width="0.95"/>
<line x1="724.03" y1="183.1" x2="767.33" y2="183.1" stroke="#1a1a1a" stroke-width="0.95"/>
<line x1="746.11" y1="176" x2="746.11" y2="190.2" stroke="#1a1a1a" stroke-width="0.9"/>
<text x="734.85" y="174.59" font-size="5.4" letter-spacing="0.3" stroke="#1a1a1a" stroke-width="0.22">HS</text>
<path d="M743.19 171.24 L746.72 171.24M743.19 172.3 L746.72 172.3M743.19 173.36 L746.72 173.36M743.19 174.41 L746.72 174.41M744.95 171.24 L744.95 174.41M743.19 171.24 L743.19 173.36M746.72 171.24 L746.72 173.36M749.24 170.89 L749.24 172.12M747.47 172.12 L751 172.12M749.24 172.12 L747.47 174.41M749.24 172.12 L751 174.41M748.18 173.36 L750.29 173.36M753.52 170.89 L753.52 172.12M751.76 172.12 L755.28 172.12M753.52 172.12 L751.76 174.41M753.52 172.12 L755.28 174.41M752.46 173.36 L754.58 173.36" fill="none" stroke="#1a1a1a" stroke-width="0.65"/>
<circle cx="761.91" cy="172.55" r="2.7" fill="none" stroke="#1a1a1a" stroke-width="0.7"/>
<text x="761.91" y="174.06" font-size="4.2" text-anchor="middle" stroke="#1a1a1a" stroke-width="0.22">2</text>
<path d="M726.84 177.49 L726.84 181.61M726.02 178.73 L727.67 178.73M728.08 177.9 L730.14 177.9M728.08 177.9 L728.08 179.96M730.14 177.9 L730.14 179.96M728.08 179.96 L730.14 179.96M727.87 181.61 L730.14 181.61M729.11 179.96 L729.11 181.61M730.62 178.52 L734.74 178.52M731.65 177.49 L731.65 179.55M733.71 177.49 L733.71 179.55M731.03 179.55 L734.32 179.55M731.03 179.55 L731.03 181.61M734.32 179.55 L734.32 181.61M731.03 181.61 L734.32 181.61M731.03 180.58 L734.32 180.58M735.22 178.32 L739.34 178.32M736.45 177.49 L736.45 181.61M737.48 179.34 L739.34 179.34M737.48 179.34 L737.48 181.61M737.48 181.61 L739.34 181.61M739.34 179.34 L739.34 181.61M735.22 179.96 L736.45 179.96M739.82 178.32 L743.94 178.32M741.05 177.49 L741.05 181.61M742.08 179.34 L743.94 179.34M742.08 179.34 L742.08 181.61M742.08 181.61 L743.94 181.61M743.94 179.34 L743.94 181.61M739.82 179.96 L741.05 179.96" fill="none" stroke="#1a1a1a" stroke-width="0.8"/>
<path d="M728.08 184.59 L728.08 186.03M726.02 186.03 L730.14 186.03M728.08 186.03 L726.02 188.71M728.08 186.03 L730.14 188.71M726.84 187.47 L729.31 187.47M730.62 185 L734.74 185M730.62 186.24 L734.74 186.24M730.62 187.47 L734.74 187.47M730.62 188.71 L734.74 188.71M732.68 185 L732.68 188.71M730.62 185 L730.62 187.47M734.74 185 L734.74 187.47M736.04 184.59 L736.04 188.71M735.22 185.83 L736.87 185.83M737.28 185 L739.34 185M737.28 185 L737.28 187.06M739.34 185 L739.34 187.06M737.28 187.06 L739.34 187.06M737.07 188.71 L739.34 188.71M738.31 187.06 L738.31 188.71M740.64 184.59 L740.64 188.71M739.82 185.83 L741.47 185.83M741.88 185 L743.94 185M741.88 185 L741.88 187.06M743.94 185 L743.94 187.06M741.88 187.06 L743.94 187.06M741.67 188.71 L743.94 188.71M742.91 187.06 L742.91 188.71" fill="none" stroke="#1a1a1a" stroke-width="0.8"/>
<text x="751.52" y="181.51" font-size="4.9" stroke="#1a1a1a" stroke-width="0.22" textLength="13" lengthAdjust="spacing">8.11</text>
<text x="751.52" y="188.61" font-size="4.9" stroke="#1a1a1a" stroke-width="0.22" textLength="13" lengthAdjust="spacing">8.91</text>
<rect x="723.87" y="193.6" width="43.3" height="21.3" fill="none" stroke="#1a1a1a" stroke-width="1.15" rx="0.8"/>
<line x1="723.87" y1="200.7" x2="767.17" y2="200.7" stroke="#1a1a1a" stroke-width="0.95"/>
<line x1="723.87" y1="207.8" x2="767.17" y2="207.8" stroke="#1a1a1a" stroke-width="0.95"/>
<line x1="745.95" y1="200.7" x2="745.95" y2="214.9" stroke="#1a1a1a" stroke-width="0.9"/>
<text x="733.61" y="199.22" font-size="5.2" stroke="#1a1a1a" stroke-width="0.22" textLength="19.3" lengthAdjust="spacing">VS300</text>
<circle cx="759.81" cy="197.25" r="2.7" fill="none" stroke="#1a1a1a" stroke-width="0.7"/>
<text x="759.81" y="198.76" font-size="4.2" text-anchor="middle" stroke="#1a1a1a" stroke-width="0.22">3</text>
<path d="M725.86 202.19 L729.98 202.19 L729.98 206.31 L725.86 206.31 L725.86 202.19M725.86 204.25 L729.98 204.25M727.92 202.19 L727.92 206.31M731.08 202.19 L731.08 206.31M731.08 202.4 L732.52 202.4M732.52 202.4 L732.52 204.25M731.08 204.25 L732.52 204.25M732.93 203.02 L734.58 203.02M733.76 202.19 L733.76 206.31M732.93 204.66 L734.58 204.66M735.06 202.19 L739.18 202.19 L739.18 206.31 L735.06 206.31 L735.06 202.19M735.06 204.25 L739.18 204.25M737.12 202.19 L737.12 206.31M740.49 202.19 L740.49 206.31M739.66 203.43 L741.31 203.43M741.72 202.6 L743.78 202.6M741.72 202.6 L741.72 204.66M743.78 202.6 L743.78 204.66M741.72 204.66 L743.78 204.66M741.52 206.31 L743.78 206.31M742.75 204.66 L742.75 206.31" fill="none" stroke="#1a1a1a" stroke-width="0.8"/>
<path d="M726.48 209.29 L726.48 213.41M726.48 209.5 L727.92 209.5M727.92 209.5 L727.92 211.35M726.48 211.35 L727.92 211.35M728.33 210.12 L729.98 210.12M729.16 209.29 L729.16 213.41M728.33 211.76 L729.98 211.76M730.46 209.7 L734.58 209.7M730.46 210.94 L734.58 210.94M730.46 212.17 L734.58 212.17M730.46 213.41 L734.58 213.41M732.52 209.7 L732.52 213.41M730.46 209.7 L730.46 212.17M734.58 209.7 L734.58 212.17M735.06 210.12 L739.18 210.12M736.3 209.29 L736.3 213.41M737.33 211.14 L739.18 211.14M737.33 211.14 L737.33 213.41M737.33 213.41 L739.18 213.41M739.18 211.14 L739.18 213.41M735.06 211.76 L736.3 211.76M741.72 209.29 L741.72 210.73M739.66 210.73 L743.78 210.73M741.72 210.73 L739.66 213.41M741.72 210.73 L743.78 213.41M740.49 212.17 L742.96 212.17" fill="none" stroke="#1a1a1a" stroke-width="0.8"/>
<text x="751.37" y="206.21" font-size="4.9" stroke="#1a1a1a" stroke-width="0.22" textLength="13" lengthAdjust="spacing">8.33</text>
<text x="751.37" y="213.31" font-size="4.9" stroke="#1a1a1a" stroke-width="0.22" textLength="13" lengthAdjust="spacing">8.91</text>
<rect x="723.72" y="218.2" width="43.3" height="21.3" fill="none" stroke="#1a1a1a" stroke-width="1.15" rx="0.8"/>
<line x1="723.72" y1="225.3" x2="767.02" y2="225.3" stroke="#1a1a1a" stroke-width="0.95"/>
<line x1="723.72" y1="232.4" x2="767.02" y2="232.4" stroke="#1a1a1a" stroke-width="0.95"/>
<line x1="745.8" y1="225.3" x2="745.8" y2="239.5" stroke="#1a1a1a" stroke-width="0.9"/>
<text x="733.46" y="223.82" font-size="5.2" stroke="#1a1a1a" stroke-width="0.22" textLength="19.3" lengthAdjust="spacing">VS300</text>
<circle cx="759.66" cy="221.85" r="2.7" fill="none" stroke="#1a1a1a" stroke-width="0.7"/>
<text x="759.66" y="223.36" font-size="4.2" text-anchor="middle" stroke="#1a1a1a" stroke-width="0.22">5</text>
<path d="M725.71 227.41 L729.82 227.41M727.77 226.79 L727.77 230.91M725.71 229.06 L729.82 229.06M726.12 230.91 L729.41 230.91M726.33 227.41 L726.33 229.06M729.21 227.41 L729.21 229.06M730.31 226.79 L734.42 226.79 L734.42 230.91 L730.31 230.91 L730.31 226.79M730.31 228.85 L734.42 228.85M732.37 226.79 L732.37 230.91M736.97 226.79 L736.97 228.23M734.91 228.23 L739.02 228.23M736.97 228.23 L734.91 230.91M736.97 228.23 L739.02 230.91M735.73 229.67 L738.2 229.67M741.57 226.79 L741.57 228.23M739.51 228.23 L743.62 228.23M741.57 228.23 L739.51 230.91M741.57 228.23 L743.62 230.91M740.33 229.67 L742.8 229.67" fill="none" stroke="#1a1a1a" stroke-width="0.8"/>
<path d="M725.71 234.72 L729.82 234.72M726.94 233.89 L726.94 238.01M727.97 235.74 L729.82 235.74M727.97 235.74 L727.97 238.01M727.97 238.01 L729.82 238.01M729.82 235.74 L729.82 238.01M725.71 236.36 L726.94 236.36M732.37 233.89 L732.37 235.33M730.31 235.33 L734.42 235.33M732.37 235.33 L730.31 238.01M732.37 235.33 L734.42 238.01M731.13 236.77 L733.6 236.77M734.91 234.72 L739.02 234.72M736.14 233.89 L736.14 238.01M737.17 235.74 L739.02 235.74M737.17 235.74 L737.17 238.01M737.17 238.01 L739.02 238.01M739.02 235.74 L739.02 238.01M734.91 236.36 L736.14 236.36M739.51 233.89 L743.62 233.89 L743.62 238.01 L739.51 238.01 L739.51 233.89M739.51 235.95 L743.62 235.95M741.57 233.89 L741.57 238.01" fill="none" stroke="#1a1a1a" stroke-width="0.8"/>
<text x="751.21" y="230.81" font-size="4.9" stroke="#1a1a1a" stroke-width="0.22" textLength="13" lengthAdjust="spacing">8.51</text>
<text x="751.21" y="237.91" font-size="4.9" stroke="#1a1a1a" stroke-width="0.22" textLength="13" lengthAdjust="spacing">8.91</text>
<rect x="723.56" y="242.7" width="43.3" height="21.3" fill="none" stroke="#1a1a1a" stroke-width="1.15" rx="0.8"/>
<line x1="723.56" y1="249.8" x2="766.86" y2="249.8" stroke="#1a1a1a" stroke-width="0.95"/>
<line x1="723.56" y1="256.9" x2="766.86" y2="256.9" stroke="#1a1a1a" stroke-width="0.95"/>
<line x1="745.65" y1="249.8" x2="745.65" y2="264" stroke="#1a1a1a" stroke-width="0.9"/>
<text x="733.3" y="248.32" font-size="5.2" stroke="#1a1a1a" stroke-width="0.22" textLength="19.3" lengthAdjust="spacing">VS300</text>
<circle cx="759.5" cy="246.35" r="2.7" fill="none" stroke="#1a1a1a" stroke-width="0.7"/>
<text x="759.5" y="247.86" font-size="4.2" text-anchor="middle" stroke="#1a1a1a" stroke-width="0.22">11</text>
<path d="M725.55 251.7 L729.67 251.7M725.55 252.94 L729.67 252.94M725.55 254.17 L729.67 254.17M725.55 255.41 L729.67 255.41M727.61 251.7 L727.61 255.41M725.55 251.7 L725.55 254.17M729.67 251.7 L729.67 254.17M730.15 252.12 L734.27 252.12M731.39 251.29 L731.39 255.41M732.42 253.14 L734.27 253.14M732.42 253.14 L732.42 255.41M732.42 255.41 L734.27 255.41M734.27 253.14 L734.27 255.41M730.15 253.76 L731.39 253.76M734.75 251.7 L738.87 251.7M734.75 252.94 L738.87 252.94M734.75 254.17 L738.87 254.17M734.75 255.41 L738.87 255.41M736.81 251.7 L736.81 255.41M734.75 251.7 L734.75 254.17M738.87 251.7 L738.87 254.17M739.35 252.32 L743.47 252.32M740.38 251.29 L740.38 253.35M742.44 251.29 L742.44 253.35M739.77 253.35 L743.06 253.35M739.77 253.35 L739.77 255.41M743.06 253.35 L743.06 255.41M739.77 255.41 L743.06 255.41M739.77 254.38 L743.06 254.38" fill="none" stroke="#1a1a1a" stroke-width="0.8"/>
<path d="M725.55 259.01 L729.67 259.01M727.61 258.39 L727.61 262.51M725.55 260.66 L729.67 260.66M725.97 262.51 L729.26 262.51M726.17 259.01 L726.17 260.66M729.05 259.01 L729.05 260.66M730.77 258.39 L730.77 262.51M730.77 258.6 L732.21 258.6M732.21 258.6 L732.21 260.45M730.77 260.45 L732.21 260.45M732.62 259.22 L734.27 259.22M733.45 258.39 L733.45 262.51M732.62 260.86 L734.27 260.86M735.58 258.39 L735.58 262.51M734.75 259.63 L736.4 259.63M736.81 258.8 L738.87 258.8M736.81 258.8 L736.81 260.86M738.87 258.8 L738.87 260.86M736.81 260.86 L738.87 260.86M736.61 262.51 L738.87 262.51M737.84 260.86 L737.84 262.51M739.97 258.39 L739.97 262.51M739.97 258.6 L741.41 258.6M741.41 258.6 L741.41 260.45M739.97 260.45 L741.41 260.45M741.82 259.22 L743.47 259.22M742.65 258.39 L742.65 262.51M741.82 260.86 L743.47 260.86" fill="none" stroke="#1a1a1a" stroke-width="0.8"/>
<text x="751.06" y="255.31" font-size="4.9" stroke="#1a1a1a" stroke-width="0.22" textLength="13" lengthAdjust="spacing">8.51</text>
<text x="751.06" y="262.41" font-size="4.9" stroke="#1a1a1a" stroke-width="0.22" textLength="13" lengthAdjust="spacing">8.91</text>
<rect x="723.24" y="293.6" width="43.3" height="21.3" fill="none" stroke="#1a1a1a" stroke-width="1.15" rx="0.8"/>
<line x1="723.24" y1="300.7" x2="766.54" y2="300.7" stroke="#1a1a1a" stroke-width="0.95"/>
<line x1="723.24" y1="307.8" x2="766.54" y2="307.8" stroke="#1a1a1a" stroke-width="0.95"/>
<line x1="745.32" y1="300.7" x2="745.32" y2="314.9" stroke="#1a1a1a" stroke-width="0.9"/>
<text x="732.98" y="299.22" font-size="5.2" stroke="#1a1a1a" stroke-width="0.22" textLength="19.3" lengthAdjust="spacing">VS300</text>
<circle cx="759.18" cy="297.25" r="2.7" fill="none" stroke="#1a1a1a" stroke-width="0.7"/>
<text x="759.18" y="298.76" font-size="4.2" text-anchor="middle" stroke="#1a1a1a" stroke-width="0.22">6</text>
<path d="M726.06 302.19 L726.06 306.31M725.23 303.43 L726.88 303.43M727.29 302.6 L729.35 302.6M727.29 302.6 L727.29 304.66M729.35 302.6 L729.35 304.66M727.29 304.66 L729.35 304.66M727.09 306.31 L729.35 306.31M728.32 304.66 L728.32 306.31M730.66 302.19 L730.66 306.31M729.83 303.43 L731.48 303.43M731.89 302.6 L733.95 302.6M731.89 302.6 L731.89 304.66M733.95 302.6 L733.95 304.66M731.89 304.66 L733.95 304.66M731.69 306.31 L733.95 306.31M732.92 304.66 L732.92 306.31M734.43 302.6 L738.55 302.6M734.43 303.84 L738.55 303.84M734.43 305.07 L738.55 305.07M734.43 306.31 L738.55 306.31M736.49 302.6 L736.49 306.31M734.43 302.6 L734.43 305.07M738.55 302.6 L738.55 305.07M739.03 303.22 L743.15 303.22M740.06 302.19 L740.06 304.25M742.12 302.19 L742.12 304.25M739.45 304.25 L742.74 304.25M739.45 304.25 L739.45 306.31M742.74 304.25 L742.74 306.31M739.45 306.31 L742.74 306.31M739.45 305.28 L742.74 305.28" fill="none" stroke="#1a1a1a" stroke-width="0.8"/>
<path d="M727.29 309.29 L727.29 310.73M725.23 310.73 L729.35 310.73M727.29 310.73 L725.23 313.41M727.29 310.73 L729.35 313.41M726.06 312.17 L728.53 312.17M730.45 309.29 L730.45 313.41M730.45 309.5 L731.89 309.5M731.89 309.5 L731.89 311.35M730.45 311.35 L731.89 311.35M732.3 310.12 L733.95 310.12M733.13 309.29 L733.13 313.41M732.3 311.76 L733.95 311.76M734.43 309.91 L738.55 309.91M736.49 309.29 L736.49 313.41M734.43 311.56 L738.55 311.56M734.85 313.41 L738.14 313.41M735.05 309.91 L735.05 311.56M737.93 309.91 L737.93 311.56M739.86 309.29 L739.86 313.41M739.03 310.53 L740.68 310.53M741.09 309.7 L743.15 309.7M741.09 309.7 L741.09 311.76M743.15 309.7 L743.15 311.76M741.09 311.76 L743.15 311.76M740.89 313.41 L743.15 313.41M742.12 311.76 L742.12 313.41" fill="none" stroke="#1a1a1a" stroke-width="0.8"/>
<text x="750.74" y="306.21" font-size="4.9" stroke="#1a1a1a" stroke-width="0.22" textLength="13" lengthAdjust="spacing">8.40</text>
<text x="750.74" y="313.31" font-size="4.9" stroke="#1a1a1a" stroke-width="0.22" textLength="13" lengthAdjust="spacing">8.83</text>
<rect x="723.08" y="318.8" width="43.3" height="21.3" fill="none" stroke="#1a1a1a" stroke-width="1.15" rx="0.8"/>
<line x1="723.08" y1="325.9" x2="766.38" y2="325.9" stroke="#1a1a1a" stroke-width="0.95"/>
<line x1="723.08" y1="333" x2="766.38" y2="333" stroke="#1a1a1a" stroke-width="0.95"/>
<line x1="745.17" y1="325.9" x2="745.17" y2="340.1" stroke="#1a1a1a" stroke-width="0.9"/>
<text x="733.91" y="324.49" font-size="5.4" letter-spacing="0.3" stroke="#1a1a1a" stroke-width="0.22">HS</text>
<path d="M742.24 321.67 L745.77 321.67M743.13 320.79 L743.13 322.55M744.89 320.79 L744.89 322.55M742.6 322.55 L745.42 322.55M742.6 322.55 L742.6 324.31M745.42 322.55 L745.42 324.31M742.6 324.31 L745.42 324.31M742.6 323.43 L745.42 323.43M747.23 320.79 L747.23 324.31M746.53 321.84 L747.94 321.84M748.29 321.14 L750.06 321.14M748.29 321.14 L748.29 322.9M750.06 321.14 L750.06 322.9M748.29 322.9 L750.06 322.9M748.12 324.31 L750.06 324.31M749.17 322.9 L749.17 324.31M750.81 321.32 L754.34 321.32M752.58 320.79 L752.58 324.31M750.81 322.73 L754.34 322.73M751.16 324.31 L753.99 324.31M751.34 321.32 L751.34 322.73M753.81 321.32 L753.81 322.73" fill="none" stroke="#1a1a1a" stroke-width="0.65"/>
<circle cx="760.97" cy="322.45" r="2.7" fill="none" stroke="#1a1a1a" stroke-width="0.7"/>
<text x="760.97" y="323.96" font-size="4.2" text-anchor="middle" stroke="#1a1a1a" stroke-width="0.22">6</text>
<path d="M725.9 327.39 L725.9 331.51M725.07 328.63 L726.72 328.63M727.13 327.8 L729.19 327.8M727.13 327.8 L727.13 329.86M729.19 327.8 L729.19 329.86M727.13 329.86 L729.19 329.86M726.93 331.51 L729.19 331.51M728.16 329.86 L728.16 331.51M731.73 327.39 L731.73 328.83M729.67 328.83 L733.79 328.83M731.73 328.83 L729.67 331.51M731.73 328.83 L733.79 331.51M730.5 330.27 L732.97 330.27M734.89 327.39 L734.89 331.51M734.89 327.6 L736.33 327.6M736.33 327.6 L736.33 329.45M734.89 329.45 L736.33 329.45M736.74 328.22 L738.39 328.22M737.57 327.39 L737.57 331.51M736.74 329.86 L738.39 329.86M740.93 327.39 L740.93 328.83M738.87 328.83 L742.99 328.83M740.93 328.83 L738.87 331.51M740.93 328.83 L742.99 331.51M739.7 330.27 L742.17 330.27" fill="none" stroke="#1a1a1a" stroke-width="0.8"/>
<path d="M725.07 335.52 L729.19 335.52M726.1 334.49 L726.1 336.55M728.16 334.49 L728.16 336.55M725.49 336.55 L728.78 336.55M725.49 336.55 L725.49 338.61M728.78 336.55 L728.78 338.61M725.49 338.61 L728.78 338.61M725.49 337.58 L728.78 337.58M731.73 334.49 L731.73 335.93M729.67 335.93 L733.79 335.93M731.73 335.93 L729.67 338.61M731.73 335.93 L733.79 338.61M730.5 337.37 L732.97 337.37M734.27 335.32 L738.39 335.32M735.51 334.49 L735.51 338.61M736.54 336.34 L738.39 336.34M736.54 336.34 L736.54 338.61M736.54 338.61 L738.39 338.61M738.39 336.34 L738.39 338.61M734.27 336.96 L735.51 336.96M739.7 334.49 L739.7 338.61M738.87 335.73 L740.52 335.73M740.93 334.9 L742.99 334.9M740.93 334.9 L740.93 336.96M742.99 334.9 L742.99 336.96M740.93 336.96 L742.99 336.96M740.73 338.61 L742.99 338.61M741.96 336.96 L741.96 338.61" fill="none" stroke="#1a1a1a" stroke-width="0.8"/>
<text x="750.58" y="331.41" font-size="4.9" stroke="#1a1a1a" stroke-width="0.22" textLength="13" lengthAdjust="spacing">7.93</text>
<text x="750.58" y="338.51" font-size="4.9" stroke="#1a1a1a" stroke-width="0.22" textLength="13" lengthAdjust="spacing">8.83</text>
<rect x="722.93" y="343.8" width="43.3" height="21.3" fill="none" stroke="#1a1a1a" stroke-width="1.15" rx="0.8"/>
<line x1="722.93" y1="350.9" x2="766.23" y2="350.9" stroke="#1a1a1a" stroke-width="0.95"/>
<line x1="722.93" y1="358" x2="766.23" y2="358" stroke="#1a1a1a" stroke-width="0.95"/>
<line x1="745.01" y1="350.9" x2="745.01" y2="365.1" stroke="#1a1a1a" stroke-width="0.9"/>
<text x="732.67" y="349.42" font-size="5.2" stroke="#1a1a1a" stroke-width="0.22" textLength="19.3" lengthAdjust="spacing">VS300</text>
<circle cx="758.86" cy="347.45" r="2.7" fill="none" stroke="#1a1a1a" stroke-width="0.7"/>
<text x="758.86" y="348.96" font-size="4.2" text-anchor="middle" stroke="#1a1a1a" stroke-width="0.22">1</text>
<path d="M724.92 353.01 L729.03 353.01M726.98 352.39 L726.98 356.51M724.92 354.66 L729.03 354.66M725.33 356.51 L728.62 356.51M725.53 353.01 L725.53 354.66M728.42 353.01 L728.42 354.66M729.52 352.8 L733.63 352.8M729.52 354.04 L733.63 354.04M729.52 355.27 L733.63 355.27M729.52 356.51 L733.63 356.51M731.58 352.8 L731.58 356.51M729.52 352.8 L729.52 355.27M733.63 352.8 L733.63 355.27M734.12 353.22 L738.23 353.22M735.35 352.39 L735.35 356.51M736.38 354.24 L738.23 354.24M736.38 354.24 L736.38 356.51M736.38 356.51 L738.23 356.51M738.23 354.24 L738.23 356.51M734.12 354.86 L735.35 354.86M738.72 353.01 L742.83 353.01M740.78 352.39 L740.78 356.51M738.72 354.66 L742.83 354.66M739.13 356.51 L742.42 356.51M739.33 353.01 L739.33 354.66M742.22 353.01 L742.22 354.66" fill="none" stroke="#1a1a1a" stroke-width="0.8"/>
<path d="M724.92 360.52 L729.03 360.52M725.95 359.49 L725.95 361.55M728 359.49 L728 361.55M725.33 361.55 L728.62 361.55M725.33 361.55 L725.33 363.61M728.62 361.55 L728.62 363.61M725.33 363.61 L728.62 363.61M725.33 362.58 L728.62 362.58M729.52 359.49 L733.63 359.49 L733.63 363.61 L729.52 363.61 L729.52 359.49M729.52 361.55 L733.63 361.55M731.58 359.49 L731.58 363.61M734.12 359.9 L738.23 359.9M734.12 361.14 L738.23 361.14M734.12 362.37 L738.23 362.37M734.12 363.61 L738.23 363.61M736.18 359.9 L736.18 363.61M734.12 359.9 L734.12 362.37M738.23 359.9 L738.23 362.37M738.72 360.32 L742.83 360.32M739.95 359.49 L739.95 363.61M740.98 361.34 L742.83 361.34M740.98 361.34 L740.98 363.61M740.98 363.61 L742.83 363.61M742.83 361.34 L742.83 363.61M738.72 361.96 L739.95 361.96" fill="none" stroke="#1a1a1a" stroke-width="0.8"/>
<text x="750.42" y="356.41" font-size="4.9" stroke="#1a1a1a" stroke-width="0.22" textLength="13" lengthAdjust="spacing">8.41</text>
<text x="750.42" y="363.51" font-size="4.9" stroke="#1a1a1a" stroke-width="0.22" textLength="13" lengthAdjust="spacing">8.83</text>
<rect x="722.77" y="368.6" width="43.3" height="21.3" fill="none" stroke="#1a1a1a" stroke-width="1.15" rx="0.8"/>
<line x1="722.77" y1="375.7" x2="766.07" y2="375.7" stroke="#1a1a1a" stroke-width="0.95"/>
<line x1="722.77" y1="382.8" x2="766.07" y2="382.8" stroke="#1a1a1a" stroke-width="0.95"/>
<line x1="744.85" y1="375.7" x2="744.85" y2="389.9" stroke="#1a1a1a" stroke-width="0.9"/>
<text x="733.59" y="374.29" font-size="5.4" letter-spacing="0.3" stroke="#1a1a1a" stroke-width="0.22">HS</text>
<path d="M741.93 370.59 L745.46 370.59 L745.46 374.11 L741.93 374.11 L741.93 370.59M741.93 372.35 L745.46 372.35M743.69 370.59 L743.69 374.11M746.74 370.59 L746.74 374.11M746.74 370.76 L747.98 370.76M747.98 370.76 L747.98 372.35M746.74 372.35 L747.98 372.35M748.33 371.29 L749.74 371.29M749.04 370.59 L749.04 374.11M748.33 372.7 L749.74 372.7M751.03 370.59 L751.03 374.11M751.03 370.76 L752.26 370.76M752.26 370.76 L752.26 372.35M751.03 372.35 L752.26 372.35M752.61 371.29 L754.03 371.29M753.32 370.59 L753.32 374.11M752.61 372.7 L754.03 372.7" fill="none" stroke="#1a1a1a" stroke-width="0.65"/>
<circle cx="760.66" cy="372.25" r="2.7" fill="none" stroke="#1a1a1a" stroke-width="0.7"/>
<text x="760.66" y="373.76" font-size="4.2" text-anchor="middle" stroke="#1a1a1a" stroke-width="0.22">7</text>
<path d="M726.82 377.19 L726.82 378.63M724.76 378.63 L728.88 378.63M726.82 378.63 L724.76 381.31M726.82 378.63 L728.88 381.31M725.58 380.07 L728.05 380.07M729.36 378.02 L733.48 378.02M730.6 377.19 L730.6 381.31M731.62 379.04 L733.48 379.04M731.62 379.04 L731.62 381.31M731.62 381.31 L733.48 381.31M733.48 379.04 L733.48 381.31M729.36 379.66 L730.6 379.66M733.96 377.6 L738.08 377.6M733.96 378.84 L738.08 378.84M733.96 380.07 L738.08 380.07M733.96 381.31 L738.08 381.31M736.02 377.6 L736.02 381.31M733.96 377.6 L733.96 380.07M738.08 377.6 L738.08 380.07M738.56 377.81 L742.68 377.81M740.62 377.19 L740.62 381.31M738.56 379.46 L742.68 379.46M738.97 381.31 L742.27 381.31M739.18 377.81 L739.18 379.46M742.06 377.81 L742.06 379.46" fill="none" stroke="#1a1a1a" stroke-width="0.8"/>
<path d="M725.58 384.29 L725.58 388.41M724.76 385.53 L726.41 385.53M726.82 384.7 L728.88 384.7M726.82 384.7 L726.82 386.76M728.88 384.7 L728.88 386.76M726.82 386.76 L728.88 386.76M726.61 388.41 L728.88 388.41M727.85 386.76 L727.85 388.41M729.36 384.7 L733.48 384.7M729.36 385.94 L733.48 385.94M729.36 387.17 L733.48 387.17M729.36 388.41 L733.48 388.41M731.42 384.7 L731.42 388.41M729.36 384.7 L729.36 387.17M733.48 384.7 L733.48 387.17M734.58 384.29 L734.58 388.41M734.58 384.5 L736.02 384.5M736.02 384.5 L736.02 386.35M734.58 386.35 L736.02 386.35M736.43 385.12 L738.08 385.12M737.25 384.29 L737.25 388.41M736.43 386.76 L738.08 386.76M738.56 385.12 L742.68 385.12M739.8 384.29 L739.8 388.41M740.82 386.14 L742.68 386.14M740.82 386.14 L740.82 388.41M740.82 388.41 L742.68 388.41M742.68 386.14 L742.68 388.41M738.56 386.76 L739.8 386.76" fill="none" stroke="#1a1a1a" stroke-width="0.8"/>
<text x="750.26" y="381.21" font-size="4.9" stroke="#1a1a1a" stroke-width="0.22" textLength="13" lengthAdjust="spacing">8.21</text>
<text x="750.26" y="388.31" font-size="4.9" stroke="#1a1a1a" stroke-width="0.22" textLength="13" lengthAdjust="spacing">8.83</text>
<rect x="722.6" y="395.2" width="43.3" height="21.3" fill="none" stroke="#1a1a1a" stroke-width="1.15" rx="0.8"/>
<line x1="722.6" y1="402.3" x2="765.9" y2="402.3" stroke="#1a1a1a" stroke-width="0.95"/>
<line x1="722.6" y1="409.4" x2="765.9" y2="409.4" stroke="#1a1a1a" stroke-width="0.95"/>
<line x1="744.68" y1="402.3" x2="744.68" y2="416.5" stroke="#1a1a1a" stroke-width="0.9"/>
<text x="732.34" y="400.82" font-size="5.2" stroke="#1a1a1a" stroke-width="0.22" textLength="22.5" lengthAdjust="spacing">BFB600</text>
<circle cx="758.54" cy="398.85" r="2.7" fill="none" stroke="#1a1a1a" stroke-width="0.7"/>
<text x="758.54" y="400.36" font-size="4.2" text-anchor="middle" stroke="#1a1a1a" stroke-width="0.22">17</text>
<path d="M725.21 403.79 L725.21 407.91M725.21 404 L726.65 404M726.65 404 L726.65 405.85M725.21 405.85 L726.65 405.85M727.06 404.62 L728.71 404.62M727.89 403.79 L727.89 407.91M727.06 406.26 L728.71 406.26M729.19 404.41 L733.31 404.41M731.25 403.79 L731.25 407.91M729.19 406.06 L733.31 406.06M729.61 407.91 L732.9 407.91M729.81 404.41 L729.81 406.06M732.69 404.41 L732.69 406.06M734.41 403.79 L734.41 407.91M734.41 404 L735.85 404M735.85 404 L735.85 405.85M734.41 405.85 L735.85 405.85M736.26 404.62 L737.91 404.62M737.09 403.79 L737.09 407.91M736.26 406.26 L737.91 406.26M738.39 404.82 L742.51 404.82M739.42 403.79 L739.42 405.85M741.48 403.79 L741.48 405.85M738.81 405.85 L742.1 405.85M738.81 405.85 L738.81 407.91M742.1 405.85 L742.1 407.91M738.81 407.91 L742.1 407.91M738.81 406.88 L742.1 406.88" fill="none" stroke="#1a1a1a" stroke-width="0.8"/>
<path d="M725.21 410.89 L725.21 415.01M725.21 411.1 L726.65 411.1M726.65 411.1 L726.65 412.95M725.21 412.95 L726.65 412.95M727.06 411.72 L728.71 411.72M727.89 410.89 L727.89 415.01M727.06 413.36 L728.71 413.36M729.19 410.89 L733.31 410.89 L733.31 415.01 L729.19 415.01 L729.19 410.89M729.19 412.95 L733.31 412.95M731.25 410.89 L731.25 415.01M733.79 410.89 L737.91 410.89 L737.91 415.01 L733.79 415.01 L733.79 410.89M733.79 412.95 L737.91 412.95M735.85 410.89 L735.85 415.01M739.22 410.89 L739.22 415.01M738.39 412.13 L740.04 412.13M740.45 411.3 L742.51 411.3M740.45 411.3 L740.45 413.36M742.51 411.3 L742.51 413.36M740.45 413.36 L742.51 413.36M740.25 415.01 L742.51 415.01M741.48 413.36 L741.48 415.01" fill="none" stroke="#1a1a1a" stroke-width="0.8"/>
<text x="750.1" y="407.81" font-size="4.9" stroke="#1a1a1a" stroke-width="0.22" textLength="13" lengthAdjust="spacing">7.77</text>
<text x="750.1" y="414.91" font-size="4.9" stroke="#1a1a1a" stroke-width="0.22" textLength="13" lengthAdjust="spacing">9.37</text>
<rect x="809.6" y="390.5" width="24.2" height="13.2" fill="none" stroke="#1a1a1a" stroke-width="1.2" stroke-dasharray="3 0.7" rx="1.5"/>
<rect x="809.6" y="409.3" width="24.2" height="13.2" fill="none" stroke="#555" stroke-width="0.7" rx="1.2"/>
<path d="M840.87 395.54 L840.87 399.06M840.87 395.71 L842.1 395.71M842.1 395.71 L842.1 397.3M840.87 397.3 L842.1 397.3M842.45 396.24 L843.86 396.24M843.16 395.54 L843.16 399.06M842.45 397.65 L843.86 397.65M844.64 396.42 L848.16 396.42M845.52 395.54 L845.52 397.3M847.28 395.54 L847.28 397.3M844.99 397.3 L847.81 397.3M844.99 397.3 L844.99 399.06M847.81 397.3 L847.81 399.06M844.99 399.06 L847.81 399.06M844.99 398.18 L847.81 398.18M848.94 395.54 L852.46 395.54 L852.46 399.06 L848.94 399.06 L848.94 395.54M848.94 397.3 L852.46 397.3M850.7 395.54 L850.7 399.06M853.24 395.54 L856.76 395.54 L856.76 399.06 L853.24 399.06 L853.24 395.54M853.24 397.3 L856.76 397.3M855 395.54 L855 399.06" fill="none" stroke="#1a1a1a" stroke-width="0.55"/>
<path d="M841.04 414.54 L841.04 418.06M840.34 415.59 L841.75 415.59M842.1 414.89 L843.86 414.89M842.1 414.89 L842.1 416.65M843.86 414.89 L843.86 416.65M842.1 416.65 L843.86 416.65M841.92 418.06 L843.86 418.06M842.98 416.65 L842.98 418.06M845.34 414.54 L845.34 418.06M844.64 415.59 L846.05 415.59M846.4 414.89 L848.16 414.89M846.4 414.89 L846.4 416.65M848.16 414.89 L848.16 416.65M846.4 416.65 L848.16 416.65M846.22 418.06 L848.16 418.06M847.28 416.65 L847.28 418.06M848.94 415.07 L852.46 415.07M850.7 414.54 L850.7 418.06M848.94 416.48 L852.46 416.48M849.29 418.06 L852.11 418.06M849.47 415.07 L849.47 416.48M851.93 415.07 L851.93 416.48M853.77 414.54 L853.77 418.06M853.77 414.71 L855 414.71M855 414.71 L855 416.3M853.77 416.3 L855 416.3M855.35 415.24 L856.76 415.24M856.06 414.54 L856.06 418.06M855.35 416.65 L856.76 416.65M857.54 415.42 L861.06 415.42M858.42 414.54 L858.42 416.3M860.18 414.54 L860.18 416.3M857.89 416.3 L860.71 416.3M857.89 416.3 L857.89 418.06M860.71 416.3 L860.71 418.06M857.89 418.06 L860.71 418.06M857.89 417.18 L860.71 417.18M861.84 415.42 L865.36 415.42M862.72 414.54 L862.72 416.3M864.48 414.54 L864.48 416.3M862.19 416.3 L865.01 416.3M862.19 416.3 L862.19 418.06M865.01 416.3 L865.01 418.06M862.19 418.06 L865.01 418.06M862.19 417.18 L865.01 417.18" fill="none" stroke="#1a1a1a" stroke-width="0.55"/>
<rect x="768" y="525.3" width="118.7" height="56.7" fill="none" stroke="#1a1a1a" stroke-width="1"/>
<line x1="768" y1="536.3" x2="886.7" y2="536.3" stroke="#1a1a1a" stroke-width="1.01"/>
<line x1="768" y1="547.5" x2="886.7" y2="547.5" stroke="#1a1a1a" stroke-width="1.01"/>
<line x1="768" y1="558.7" x2="886.7" y2="558.7" stroke="#1a1a1a" stroke-width="1.01"/>
<line x1="791.7" y1="525.3" x2="791.7" y2="582" stroke="#1a1a1a" stroke-width="1.01"/>
<line x1="839.2" y1="547.5" x2="839.2" y2="558.7" stroke="#1a1a1a" stroke-width="1.01"/>
<line x1="863" y1="547.5" x2="863" y2="558.7" stroke="#1a1a1a" stroke-width="1.01"/>
<path d="M773.37 528.87 L777.23 528.87 L777.23 532.73 L773.37 532.73 L773.37 528.87M773.37 530.8 L777.23 530.8M775.3 528.87 L775.3 532.73M778.65 528.87 L778.65 532.73M778.65 529.06 L780 529.06M780 529.06 L780 530.8M778.65 530.8 L780 530.8M780.39 529.64 L781.93 529.64M781.16 528.87 L781.16 532.73M780.39 531.19 L781.93 531.19M782.77 529.64 L786.63 529.64M783.93 528.87 L783.93 532.73M784.89 530.61 L786.63 530.61M784.89 530.61 L784.89 532.73M784.89 532.73 L786.63 532.73M786.63 530.61 L786.63 532.73M782.77 531.19 L783.93 531.19" fill="none" stroke="#1a1a1a" stroke-width="0.7"/>
<path d="M773.95 539.87 L773.95 543.73M773.95 540.06 L775.3 540.06M775.3 540.06 L775.3 541.8M773.95 541.8 L775.3 541.8M775.69 540.64 L777.23 540.64M776.46 539.87 L776.46 543.73M775.69 542.19 L777.23 542.19M782.01 540.25 L785.87 540.25M782.01 541.41 L785.87 541.41M782.01 542.57 L785.87 542.57M782.01 543.73 L785.87 543.73M783.94 540.25 L783.94 543.73M782.01 540.25 L782.01 542.57M785.87 540.25 L785.87 542.57" fill="none" stroke="#1a1a1a" stroke-width="0.7"/>
<path d="M775.3 551.27 L775.3 552.62M773.37 552.62 L777.23 552.62M775.3 552.62 L773.37 555.13M775.3 552.62 L777.23 555.13M774.14 553.97 L776.46 553.97M782.01 551.85 L785.87 551.85M783.94 551.27 L783.94 555.13M782.01 553.39 L785.87 553.39M782.39 555.13 L785.49 555.13M782.59 551.85 L782.59 553.39M785.29 551.85 L785.29 553.39" fill="none" stroke="#1a1a1a" stroke-width="0.7"/>
<path d="M774.14 568.07 L774.14 571.93M773.37 569.23 L774.91 569.23M775.3 568.45 L777.23 568.45M775.3 568.45 L775.3 570.39M777.23 568.45 L777.23 570.39M775.3 570.39 L777.23 570.39M775.11 571.93 L777.23 571.93M776.27 570.39 L776.27 571.93M778.65 568.07 L778.65 571.93M778.65 568.26 L780 568.26M780 568.26 L780 570M778.65 570 L780 570M780.39 568.84 L781.93 568.84M781.16 568.07 L781.16 571.93M780.39 570.39 L781.93 570.39M782.77 569.03 L786.63 569.03M783.73 568.07 L783.73 570M785.67 568.07 L785.67 570M783.15 570 L786.25 570M783.15 570 L783.15 571.93M786.25 570 L786.25 571.93M783.15 571.93 L786.25 571.93M783.15 570.97 L786.25 570.97" fill="none" stroke="#1a1a1a" stroke-width="0.7"/>
<path d="M800.31 529.04 L799.25 530.09 L799.25 531.51 L800.31 532.56M801.24 529.92 L804.76 529.92M802.12 529.04 L802.12 530.8M803.88 529.04 L803.88 530.8M801.59 530.8 L804.41 530.8M801.59 530.8 L801.59 532.56M804.41 530.8 L804.41 532.56M801.59 532.56 L804.41 532.56M801.59 531.68 L804.41 531.68M806.4 529.04 L806.4 530.27M804.64 530.27 L808.16 530.27M806.4 530.27 L804.64 532.56M806.4 530.27 L808.16 532.56M805.34 531.51 L807.46 531.51M809.09 529.04 L810.15 530.09 L810.15 531.51 L809.09 532.56" fill="none" stroke="#1a1a1a" stroke-width="0.55"/>
<path d="M809.85 528.95 L813.55 528.95 L813.55 532.65 L809.85 532.65 L809.85 528.95M809.85 530.8 L813.55 530.8M811.7 528.95 L811.7 532.65M814.25 528.95 L817.95 528.95 L817.95 532.65 L814.25 532.65 L814.25 528.95M814.25 530.8 L817.95 530.8M816.1 528.95 L816.1 532.65" fill="none" stroke="#1a1a1a" stroke-width="0.55"/>
<path d="M822.87 529.45 L826.73 529.45M824.8 528.87 L824.8 532.73M822.87 530.99 L826.73 530.99M823.25 532.73 L826.35 532.73M823.45 529.45 L823.45 530.99M826.15 529.45 L826.15 530.99M827.72 529.45 L831.58 529.45M829.65 528.87 L829.65 532.73M827.72 530.99 L831.58 530.99M828.1 532.73 L831.2 532.73M828.3 529.45 L828.3 530.99M831 529.45 L831 530.99M832.57 529.45 L836.05 529.45 L836.05 532.73M832.57 532.73 L836.05 532.73M837.8 529.25 L838.58 530.03M837.42 530.61 L838.19 531.19M838.19 532.73 L841.28 529.83M843.04 528.87 L843.04 531.19M845.36 528.87 L845.36 531.19 L843.81 532.73M847.12 530.8 L850.98 530.8M851.97 529.83 L855.83 529.83M852.93 528.87 L852.93 530.8M854.87 528.87 L854.87 530.8M852.35 530.8 L855.45 530.8M852.35 530.8 L852.35 532.73M855.45 530.8 L855.45 532.73M852.35 532.73 L855.45 532.73M852.35 531.77 L855.45 531.77M856.82 529.83 L860.68 529.83M857.78 528.87 L857.78 530.8M859.72 528.87 L859.72 530.8M857.2 530.8 L860.3 530.8M857.2 530.8 L857.2 532.73M860.3 530.8 L860.3 532.73M857.2 532.73 L860.3 532.73M857.2 531.77 L860.3 531.77M861.67 529.25 L865.53 529.25M861.67 530.41 L865.53 530.41M861.67 531.57 L865.53 531.57M861.67 532.73 L865.53 532.73M863.6 529.25 L863.6 532.73M861.67 529.25 L861.67 531.57M865.53 529.25 L865.53 531.57M866.52 529.25 L870.38 529.25M866.52 530.41 L870.38 530.41M866.52 531.57 L870.38 531.57M866.52 532.73 L870.38 532.73M868.45 529.25 L868.45 532.73M866.52 529.25 L866.52 531.57M870.38 529.25 L870.38 531.57M871.37 529.45 L875.23 529.45M873.3 528.87 L873.3 532.73M871.37 530.99 L875.23 530.99M871.75 532.73 L874.85 532.73M871.95 529.45 L871.95 530.99M874.65 529.45 L874.65 530.99M876.22 529.83 L880.08 529.83M877.18 528.87 L877.18 530.8M879.12 528.87 L879.12 530.8M876.6 530.8 L879.7 530.8M876.6 530.8 L876.6 532.73M879.7 530.8 L879.7 532.73M876.6 532.73 L879.7 532.73M876.6 531.77 L879.7 531.77" fill="none" stroke="#1a1a1a" stroke-width="0.65"/>
<path d="M799.8 539.87 L799.8 541.22M797.87 541.22 L801.73 541.22M799.8 541.22 L797.87 543.73M799.8 541.22 L801.73 543.73M798.64 542.57 L800.96 542.57M802.67 540.83 L806.53 540.83M803.63 539.87 L803.63 541.8M805.57 539.87 L805.57 541.8M803.05 541.8 L806.15 541.8M803.05 541.8 L803.05 543.73M806.15 541.8 L806.15 543.73M803.05 543.73 L806.15 543.73M803.05 542.77 L806.15 542.77" fill="none" stroke="#1a1a1a" stroke-width="0.65"/>
<text x="808" y="543.6" font-size="5" stroke="#1a1a1a" stroke-width="0.22">·</text>
<path d="M811.87 540.25 L815.73 540.25M811.87 541.41 L815.73 541.41M811.87 542.57 L815.73 542.57M811.87 543.73 L815.73 543.73M813.8 540.25 L813.8 543.73M811.87 540.25 L811.87 542.57M815.73 540.25 L815.73 542.57M816.77 540.45 L820.63 540.45M818.7 539.87 L818.7 543.73M816.77 541.99 L820.63 541.99M817.15 543.73 L820.25 543.73M817.35 540.45 L817.35 541.99M820.05 540.45 L820.05 541.99M823.6 539.87 L823.6 541.22M821.67 541.22 L825.53 541.22M823.6 541.22 L821.67 543.73M823.6 541.22 L825.53 543.73M822.44 542.57 L824.76 542.57M826.57 540.64 L830.43 540.64M827.73 539.87 L827.73 543.73M828.69 541.61 L830.43 541.61M828.69 541.61 L828.69 543.73M828.69 543.73 L830.43 543.73M830.43 541.61 L830.43 543.73M826.57 542.19 L827.73 542.19M832.24 539.87 L832.24 543.73M831.47 541.03 L833.01 541.03M833.4 540.25 L835.33 540.25M833.4 540.25 L833.4 542.19M835.33 540.25 L835.33 542.19M833.4 542.19 L835.33 542.19M833.21 543.73 L835.33 543.73M834.37 542.19 L834.37 543.73M836.37 540.64 L840.23 540.64M837.53 539.87 L837.53 543.73M838.49 541.61 L840.23 541.61M838.49 541.61 L838.49 543.73M838.49 543.73 L840.23 543.73M840.23 541.61 L840.23 543.73M836.37 542.19 L837.53 542.19M842.04 539.87 L842.04 543.73M841.27 541.03 L842.81 541.03M843.2 540.25 L845.13 540.25M843.2 540.25 L843.2 542.19M845.13 540.25 L845.13 542.19M843.2 542.19 L845.13 542.19M843.01 543.73 L845.13 543.73M844.17 542.19 L844.17 543.73M846.17 540.64 L850.03 540.64M847.33 539.87 L847.33 543.73M848.29 541.61 L850.03 541.61M848.29 541.61 L848.29 543.73M848.29 543.73 L850.03 543.73M850.03 541.61 L850.03 543.73M846.17 542.19 L847.33 542.19M853 539.87 L853 541.22M851.07 541.22 L854.93 541.22M853 541.22 L851.07 543.73M853 541.22 L854.93 543.73M851.84 542.57 L854.16 542.57" fill="none" stroke="#1a1a1a" stroke-width="0.65"/>
<text x="800" y="555.07" font-size="5.2" stroke="#1a1a1a" stroke-width="0.22" textLength="18.3" lengthAdjust="spacing">1:300</text>
<path d="M844 551.27 L844 552.62M842.07 552.62 L845.93 552.62M844 552.62 L842.07 555.13M844 552.62 L845.93 555.13M842.84 553.97 L845.16 553.97M846.87 552.04 L850.73 552.04M848.03 551.27 L848.03 555.13M848.99 553.01 L850.73 553.01M848.99 553.01 L848.99 555.13M848.99 555.13 L850.73 555.13M850.73 553.01 L850.73 555.13M846.87 553.59 L848.03 553.59M853.6 551.27 L853.6 552.62M851.67 552.62 L855.53 552.62M853.6 552.62 L851.67 555.13M853.6 552.62 L855.53 555.13M852.44 553.97 L854.76 553.97M856.47 551.85 L860.33 551.85M858.4 551.27 L858.4 555.13M856.47 553.39 L860.33 553.39M856.85 555.13 L859.95 555.13M857.05 551.85 L857.05 553.39M859.75 551.85 L859.75 553.39" fill="none" stroke="#1a1a1a" stroke-width="0.65"/>
<text x="874" y="555.07" font-size="5.2" text-anchor="middle" font-weight="bold" stroke="#1a1a1a" stroke-width="0.22">7</text>
<path d="M798.64 562.07 L798.64 565.93M797.87 563.23 L799.41 563.23M799.8 562.45 L801.73 562.45M799.8 562.45 L799.8 564.39M801.73 562.45 L801.73 564.39M799.8 564.39 L801.73 564.39M799.61 565.93 L801.73 565.93M800.77 564.39 L800.77 565.93M802.77 562.84 L806.63 562.84M803.93 562.07 L803.93 565.93M804.89 563.81 L806.63 563.81M804.89 563.81 L804.89 565.93M804.89 565.93 L806.63 565.93M806.63 563.81 L806.63 565.93M802.77 564.39 L803.93 564.39M807.67 562.65 L811.53 562.65M809.6 562.07 L809.6 565.93M807.67 564.19 L811.53 564.19M808.05 565.93 L811.15 565.93M808.25 562.65 L808.25 564.19M810.95 562.65 L810.95 564.19M812.57 563.03 L816.43 563.03M813.53 562.07 L813.53 564M815.47 562.07 L815.47 564M812.95 564 L816.05 564M812.95 564 L812.95 565.93M816.05 564 L816.05 565.93M812.95 565.93 L816.05 565.93M812.95 564.97 L816.05 564.97M818.24 562.07 L818.24 565.93M817.47 563.23 L819.01 563.23M819.4 562.45 L821.33 562.45M819.4 562.45 L819.4 564.39M821.33 562.45 L821.33 564.39M819.4 564.39 L821.33 564.39M819.21 565.93 L821.33 565.93M820.37 564.39 L820.37 565.93" fill="none" stroke="#1a1a1a" stroke-width="0.6"/>
<text x="822.5" y="566.09" font-size="5.8" letter-spacing="0.6" stroke="#1a1a1a" stroke-width="0.22">17</text>
<path d="M832.9 562.07 L832.9 563.42M830.97 563.42 L834.83 563.42M832.9 563.42 L830.97 565.93M832.9 563.42 L834.83 565.93M831.74 564.77 L834.06 564.77" fill="none" stroke="#1a1a1a" stroke-width="0.6"/>
<text x="836" y="566.09" font-size="5.8" letter-spacing="0.6" stroke="#1a1a1a" stroke-width="0.22">10</text>
<path d="M844.57 562.65 L848.43 562.65M846.5 562.07 L846.5 565.93M844.57 564.19 L848.43 564.19M844.95 565.93 L848.05 565.93M845.15 562.65 L845.15 564.19M847.85 562.65 L847.85 564.19" fill="none" stroke="#1a1a1a" stroke-width="0.6"/>
<text x="849.4" y="566.09" font-size="5.8" stroke="#1a1a1a" stroke-width="0.22">6</text>
<path d="M853.97 563.03 L857.83 563.03M854.93 562.07 L854.93 564M856.87 562.07 L856.87 564M854.35 564 L857.45 564M854.35 564 L854.35 565.93M857.45 564 L857.45 565.93M854.35 565.93 L857.45 565.93M854.35 564.97 L857.45 564.97" fill="none" stroke="#1a1a1a" stroke-width="0.6"/>
<path d="M802.04 569.07 L805.56 569.07M803.8 568.54 L803.8 572.06M802.04 570.48 L805.56 570.48M802.39 572.06 L805.21 572.06M802.57 569.07 L802.57 570.48M805.03 569.07 L805.03 570.48M807.04 568.54 L807.04 572.06M806.34 569.59 L807.75 569.59M808.1 568.89 L809.86 568.89M808.1 568.89 L808.1 570.65M809.86 568.89 L809.86 570.65M808.1 570.65 L809.86 570.65M807.92 572.06 L809.86 572.06M808.98 570.65 L808.98 572.06M810.64 569.42 L814.16 569.42M811.52 568.54 L811.52 570.3M813.28 568.54 L813.28 570.3M810.99 570.3 L813.81 570.3M810.99 570.3 L810.99 572.06M813.81 570.3 L813.81 572.06M810.99 572.06 L813.81 572.06M810.99 571.18 L813.81 571.18M815.64 568.54 L815.64 572.06M814.94 569.59 L816.35 569.59M816.7 568.89 L818.46 568.89M816.7 568.89 L816.7 570.65M818.46 568.89 L818.46 570.65M816.7 570.65 L818.46 570.65M816.52 572.06 L818.46 572.06M817.58 570.65 L817.58 572.06" fill="none" stroke="#1a1a1a" stroke-width="0.6"/>
<path d="M822.38 568.89 L826.42 568.89M824.4 568.28 L824.4 572.32M822.38 570.5 L826.42 570.5M822.79 572.32 L826.01 572.32M822.99 568.89 L822.99 570.5M825.81 568.89 L825.81 570.5M831.99 568.28 L831.99 572.32M831.18 569.49 L832.8 569.49M833.2 568.69 L835.22 568.69M833.2 568.69 L833.2 570.7M835.22 568.69 L835.22 570.7M833.2 570.7 L835.22 570.7M833 572.32 L835.22 572.32M834.21 570.7 L834.21 572.32M842 568.28 L842 569.7M839.98 569.7 L844.02 569.7M842 569.7 L839.98 572.32M842 569.7 L844.02 572.32M840.79 571.11 L843.21 571.11M848.78 569.09 L852.82 569.09M849.99 568.28 L849.99 572.32M851 570.1 L852.82 570.1M851 570.1 L851 572.32M851 572.32 L852.82 572.32M852.82 570.1 L852.82 572.32M848.78 570.7 L849.99 570.7" fill="none" stroke="#1a1a1a" stroke-width="0.6"/>
<text x="803" y="578.27" font-size="5.2" stroke="#1a1a1a" stroke-width="0.22" textLength="50.3" lengthAdjust="spacing">L0256 (35) 0328</text>
<ellipse cx="871.3" cy="570.8" rx="7.2" ry="9" fill="none" stroke="#1a1a1a" stroke-width="0.7"/>
<line x1="871.3" y1="562" x2="871.3" y2="579.6" stroke="#1a1a1a" stroke-width="0.56"/>
<path d="M865.63 565.27 L870.17 565.27M866.77 564.13 L866.77 566.4M869.03 564.13 L869.03 566.4M866.09 566.4 L869.71 566.4M866.09 566.4 L866.09 568.67M869.71 566.4 L869.71 568.67M866.09 568.67 L869.71 568.67M866.09 567.53 L869.71 567.53M872.51 564.13 L872.51 568.67M872.51 564.36 L874.1 564.36M874.1 564.36 L874.1 566.4M872.51 566.4 L874.1 566.4M874.55 565.04 L876.37 565.04M875.46 564.13 L875.46 568.67M874.55 566.85 L876.37 566.85" fill="none" stroke="#1a1a1a" stroke-width="0.45"/>
<path d="M865.63 572.07 L870.17 572.07M866.77 570.93 L866.77 573.2M869.03 570.93 L869.03 573.2M866.09 573.2 L869.71 573.2M866.09 573.2 L866.09 575.47M869.71 573.2 L869.71 575.47M866.09 575.47 L869.71 575.47M866.09 574.33 L869.71 574.33M874.1 570.93 L874.1 572.52M871.83 572.52 L876.37 572.52M874.1 572.52 L871.83 575.47M874.1 572.52 L876.37 575.47M872.74 574.11 L875.46 574.11" fill="none" stroke="#1a1a1a" stroke-width="0.45"/>
<circle cx="127" cy="113.8" r="0.6" fill="#444" stroke="#444" stroke-width="0.3"/>
<circle cx="14.8" cy="319" r="0.5" fill="#444" stroke="#444" stroke-width="0.3"/>
<circle cx="202" cy="6" r="0.4" fill="#444" stroke="#444" stroke-width="0.3"/>
<circle cx="113" cy="86" r="0.35" fill="#444" stroke="#444" stroke-width="0.3"/>
<circle cx="767" cy="432" r="0.35" fill="#444" stroke="#444" stroke-width="0.3"/>
<circle cx="652" cy="551" r="0.35" fill="#444" stroke="#444" stroke-width="0.3"/>
<circle cx="447" cy="551" r="0.4" fill="#444" stroke="#444" stroke-width="0.3"/>
<circle cx="435" cy="417" r="0.4" fill="#444" stroke="#444" stroke-width="0.3"/>
<circle cx="670" cy="490" r="0.4" fill="#444" stroke="#444" stroke-width="0.3"/>
<circle cx="752" cy="532" r="0.5" fill="#444" stroke="#444" stroke-width="0.3"/>
<circle cx="730" cy="505" r="0.4" fill="#444" stroke="#444" stroke-width="0.3"/>
<circle cx="788" cy="3" r="0.4" fill="#444" stroke="#444" stroke-width="0.3"/>
</g>
</svg>
</body></html>
